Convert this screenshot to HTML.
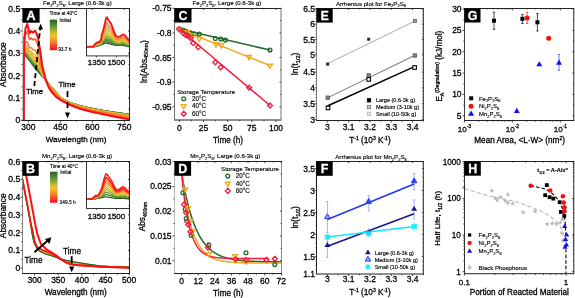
<!DOCTYPE html>
<html><head><meta charset="utf-8"><style>
html,body{margin:0;padding:0;background:#fff;}
svg{display:block;font-family:"Liberation Sans", sans-serif;}
text{-webkit-font-smoothing:antialiased;stroke:#000;stroke-width:0.28px;}
text.s{stroke-width:0.14px;}
svg{will-change:transform;}
</style></head><body>
<svg width="575" height="298" viewBox="0 0 575 298">
<rect width="575" height="298" fill="#fff"/>
<path d="M23.2,39 L23.6,44 L24,47.14 L24.5,51.07 L24.6,51.86 L25,55 L25.5,55.65 L25.6,55.78 L26,56.3 L26.5,56.95 L27,57.6 L27.3,57.99 L27.5,58.25 L28,58.9 L28.5,59.55 L29,60.2 L29.5,60.85 L29.6,60.98 L30,61.5 L30.5,62.18 L31,62.86 L31.1,63 L31.5,63.54 L32,64.22 L32.5,64.9 L33,65.58 L33.1,65.72 L33.5,66.26 L34,66.94 L34.5,67.62 L35,68.3 L35.1,68.41 L35.5,68.87 L36,69.44 L36.5,70.01 L36.6,70.13 L37,70.59 L37.5,71.16 L38,71.73 L38.1,71.84 L38.5,72.3 L39,72.87 L39.5,73.44 L40,74.01 L40.1,74.13 L40.5,74.59 L41,75.16 L41.5,75.73 L42,76.3 L42.1,76.41 L42.5,76.86 L43,77.42 L43.5,77.97 L44,78.53 L44.5,79.09 L45,79.65 L45.1,79.76 L45.5,80.21 L46,80.77 L46.5,81.33 L47,81.88 L47.5,82.44 L48,83 L48.5,83.57 L49,84.14 L49.1,84.25 L49.5,84.71 L50,85.28 L50.5,85.85 L51,86.42 L51.5,86.99 L52,87.56 L52.5,88.12 L53,88.69 L53.5,89.26 L54,89.83 L54.5,90.4 L55,90.97 L55.2,91.2 L55.5,91.53 L56,92.07 L56.5,92.62 L57,93.17 L57.5,93.71 L58,94.26 L58.5,94.8 L59,95.35 L59.5,95.9 L60,96.44 L60.5,96.99 L61,97.54 L61.5,98.08 L61.7,98.3 L62,98.45 L62.5,98.7 L63,98.96 L63.5,99.21 L64,99.46 L64.5,99.72 L65,99.97 L65.5,100.22 L66,100.48 L66.5,100.73 L67,100.98 L67.5,101.23 L68,101.49 L68.5,101.74 L69,101.99 L69.5,102.25 L70,102.5 L70.5,102.65 L71,102.8 L71.5,102.95 L72,103.1 L72.5,103.25 L73,103.4 L73.5,103.55 L74,103.7 L74.5,103.85 L75,104 L75.5,104.15 L76,104.3 L76.5,104.45 L77,104.6 L77.5,104.75 L78,104.9 L78.5,105.05 L79,105.2 L79.5,105.35 L80,105.5 L80.5,105.61 L81,105.73 L81.5,105.84 L82,105.96 L82.5,106.08 L83,106.19 L83.5,106.3 L84,106.42 L84.5,106.53 L85,106.65 L85.5,106.77 L86,106.88 L86.5,107 L87,107.11 L87.5,107.22 L88,107.34 L88.5,107.45 L89,107.57 L89.5,107.69 L90,107.8 L90.5,107.9 L91,108 L91.5,108.1 L92,108.2 L92.5,108.3 L93,108.4 L93.5,108.5 L94,108.6 L94.5,108.7 L95,108.8 L95.5,108.9 L96,109 L96.5,109.1 L97,109.2 L97.5,109.3 L98,109.4 L98.5,109.5 L99,109.6 L99.5,109.7 L100,109.8 L100.5,109.88 L101,109.96 L101.5,110.04 L102,110.12 L102.5,110.2 L103,110.28 L103.5,110.36 L104,110.44 L104.5,110.52 L105,110.6 L105.5,110.68 L106,110.76 L106.5,110.84 L107,110.92 L107.5,111 L108,111.08 L108.5,111.16 L109,111.24 L109.5,111.32 L110,111.4 L110.5,111.48 L111,111.56 L111.5,111.64 L112,111.72 L112.5,111.8 L113,111.88 L113.5,111.96 L114,112.04 L114.5,112.12 L115,112.2 L115.5,112.27 L116,112.34 L116.5,112.41 L117,112.48 L117.5,112.55 L118,112.62 L118.5,112.69 L119,112.76 L119.5,112.83 L120,112.89 L120.5,112.96 L121,113.03 L121.5,113.1 L122,113.17 L122.5,113.24 L123,113.31 L123.5,113.38 L124,113.45 L124.5,113.52 L125,113.59 L125.5,113.66 L126,113.73 L126.5,113.8 L127,113.87 L127.5,113.94 L128,114.01 L128.5,114.08 L129,114.14 L129.4,114.2" fill="none" stroke="#24602a" stroke-width="1.15" stroke-linejoin="round"/>
<path d="M23.2,38.91 L23.6,43.76 L24,46.81 L24.5,50.62 L24.6,51.38 L25,54.33 L25.5,54.84 L25.6,54.95 L26,55.42 L26.5,56.02 L27,56.61 L27.3,56.97 L27.5,57.25 L28,57.94 L28.5,58.63 L29,59.33 L29.5,60.02 L29.6,60.16 L30,60.64 L30.5,61.27 L31,61.91 L31.1,62.04 L31.5,62.57 L32,63.24 L32.5,63.92 L33,64.59 L33.1,64.72 L33.5,65.24 L34,65.88 L34.5,66.53 L35,67.17 L35.1,67.28 L35.5,67.75 L36,68.33 L36.5,68.92 L36.6,69.03 L37,69.52 L37.5,70.12 L38,70.72 L38.1,70.84 L38.5,71.36 L39,72 L39.5,72.64 L40,73.28 L40.1,73.4 L40.5,73.94 L41,74.6 L41.5,75.27 L42,75.94 L42.1,76.07 L42.5,76.55 L43,77.15 L43.5,77.76 L44,78.36 L44.5,78.96 L45,79.56 L45.1,79.68 L45.5,80.16 L46,80.75 L46.5,81.34 L47,81.93 L47.5,82.5 L48,83.08 L48.5,83.66 L49,84.25 L49.1,84.37 L49.5,84.83 L50,85.4 L50.5,85.98 L51,86.55 L51.5,87.13 L52,87.7 L52.5,88.27 L53,88.84 L53.5,89.41 L54,89.98 L54.5,90.55 L55,91.11 L55.2,91.34 L55.5,91.67 L56,92.22 L56.5,92.76 L57,93.3 L57.5,93.84 L58,94.38 L58.5,94.92 L59,95.46 L59.5,96 L60,96.54 L60.5,97.08 L61,97.62 L61.5,98.16 L61.7,98.38 L62,98.53 L62.5,98.78 L63,99.03 L63.5,99.29 L64,99.54 L64.5,99.79 L65,100.04 L65.5,100.3 L66,100.55 L66.5,100.8 L67,101.06 L67.5,101.31 L68,101.56 L68.5,101.82 L69,102.07 L69.5,102.32 L70,102.58 L70.5,102.73 L71,102.88 L71.5,103.03 L72,103.18 L72.5,103.33 L73,103.48 L73.5,103.63 L74,103.78 L74.5,103.94 L75,104.09 L75.5,104.24 L76,104.39 L76.5,104.54 L77,104.69 L77.5,104.84 L78,104.99 L78.5,105.15 L79,105.3 L79.5,105.45 L80,105.6 L80.5,105.71 L81,105.83 L81.5,105.95 L82,106.06 L82.5,106.18 L83,106.29 L83.5,106.41 L84,106.52 L84.5,106.64 L85,106.76 L85.5,106.87 L86,106.99 L86.5,107.1 L87,107.22 L87.5,107.33 L88,107.45 L88.5,107.56 L89,107.68 L89.5,107.8 L90,107.91 L90.5,108.01 L91,108.11 L91.5,108.21 L92,108.31 L92.5,108.41 L93,108.51 L93.5,108.61 L94,108.71 L94.5,108.81 L95,108.91 L95.5,109.01 L96,109.11 L96.5,109.21 L97,109.31 L97.5,109.41 L98,109.51 L98.5,109.61 L99,109.71 L99.5,109.81 L100,109.91 L100.5,109.99 L101,110.08 L101.5,110.16 L102,110.24 L102.5,110.32 L103,110.4 L103.5,110.48 L104,110.56 L104.5,110.64 L105,110.72 L105.5,110.8 L106,110.88 L106.5,110.96 L107,111.05 L107.5,111.13 L108,111.21 L108.5,111.29 L109,111.37 L109.5,111.45 L110,111.53 L110.5,111.61 L111,111.69 L111.5,111.77 L112,111.85 L112.5,111.93 L113,112.01 L113.5,112.1 L114,112.18 L114.5,112.26 L115,112.34 L115.5,112.41 L116,112.48 L116.5,112.55 L117,112.62 L117.5,112.69 L118,112.76 L118.5,112.83 L119,112.9 L119.5,112.97 L120,113.04 L120.5,113.11 L121,113.18 L121.5,113.25 L122,113.32 L122.5,113.39 L123,113.46 L123.5,113.53 L124,113.6 L124.5,113.67 L125,113.74 L125.5,113.81 L126,113.88 L126.5,113.95 L127,114.02 L127.5,114.09 L128,114.16 L128.5,114.23 L129,114.3 L129.4,114.36" fill="none" stroke="#39702d" stroke-width="1.15" stroke-linejoin="round"/>
<path d="M23.2,38.82 L23.6,43.52 L24,46.47 L24.5,50.17 L24.6,50.91 L25,53.67 L25.5,54.04 L25.6,54.11 L26,54.55 L26.5,55.09 L27,55.63 L27.3,55.95 L27.5,56.24 L28,56.98 L28.5,57.72 L29,58.45 L29.5,59.18 L29.6,59.33 L30,59.78 L30.5,60.37 L31,60.96 L31.1,61.08 L31.5,61.61 L32,62.27 L32.5,62.93 L33,63.6 L33.1,63.73 L33.5,64.22 L34,64.83 L34.5,65.43 L35,66.04 L35.1,66.15 L35.5,66.62 L36,67.22 L36.5,67.82 L36.6,67.94 L37,68.44 L37.5,69.08 L38,69.72 L38.1,69.84 L38.5,70.41 L39,71.12 L39.5,71.83 L40,72.54 L40.1,72.68 L40.5,73.29 L41,74.05 L41.5,74.81 L42,75.58 L42.1,75.73 L42.5,76.24 L43,76.89 L43.5,77.54 L44,78.18 L44.5,78.83 L45,79.48 L45.1,79.61 L45.5,80.1 L46,80.73 L46.5,81.35 L47,81.97 L47.5,82.56 L48,83.15 L48.5,83.75 L49,84.36 L49.1,84.48 L49.5,84.94 L50,85.52 L50.5,86.11 L51,86.69 L51.5,87.27 L52,87.85 L52.5,88.42 L53,88.99 L53.5,89.55 L54,90.12 L54.5,90.69 L55,91.26 L55.2,91.48 L55.5,91.81 L56,92.36 L56.5,92.89 L57,93.43 L57.5,93.96 L58,94.5 L58.5,95.03 L59,95.56 L59.5,96.1 L60,96.63 L60.5,97.17 L61,97.7 L61.5,98.24 L61.7,98.45 L62,98.6 L62.5,98.85 L63,99.11 L63.5,99.36 L64,99.61 L64.5,99.87 L65,100.12 L65.5,100.37 L66,100.63 L66.5,100.88 L67,101.13 L67.5,101.38 L68,101.64 L68.5,101.89 L69,102.14 L69.5,102.4 L70,102.65 L70.5,102.8 L71,102.95 L71.5,103.11 L72,103.26 L72.5,103.41 L73,103.56 L73.5,103.72 L74,103.87 L74.5,104.02 L75,104.17 L75.5,104.33 L76,104.48 L76.5,104.63 L77,104.78 L77.5,104.94 L78,105.09 L78.5,105.24 L79,105.39 L79.5,105.55 L80,105.7 L80.5,105.81 L81,105.93 L81.5,106.05 L82,106.16 L82.5,106.28 L83,106.4 L83.5,106.51 L84,106.63 L84.5,106.74 L85,106.86 L85.5,106.98 L86,107.09 L86.5,107.21 L87,107.32 L87.5,107.44 L88,107.56 L88.5,107.67 L89,107.79 L89.5,107.91 L90,108.02 L90.5,108.12 L91,108.22 L91.5,108.32 L92,108.42 L92.5,108.52 L93,108.62 L93.5,108.72 L94,108.82 L94.5,108.92 L95,109.02 L95.5,109.13 L96,109.23 L96.5,109.33 L97,109.43 L97.5,109.53 L98,109.63 L98.5,109.73 L99,109.83 L99.5,109.93 L100,110.03 L100.5,110.11 L101,110.19 L101.5,110.27 L102,110.35 L102.5,110.44 L103,110.52 L103.5,110.6 L104,110.68 L104.5,110.76 L105,110.84 L105.5,110.93 L106,111.01 L106.5,111.09 L107,111.17 L107.5,111.25 L108,111.33 L108.5,111.42 L109,111.5 L109.5,111.58 L110,111.66 L110.5,111.74 L111,111.82 L111.5,111.9 L112,111.99 L112.5,112.07 L113,112.15 L113.5,112.23 L114,112.31 L114.5,112.39 L115,112.48 L115.5,112.55 L116,112.62 L116.5,112.69 L117,112.76 L117.5,112.83 L118,112.9 L118.5,112.97 L119,113.04 L119.5,113.11 L120,113.18 L120.5,113.25 L121,113.32 L121.5,113.4 L122,113.47 L122.5,113.54 L123,113.61 L123.5,113.68 L124,113.75 L124.5,113.82 L125,113.89 L125.5,113.96 L126,114.03 L126.5,114.1 L127,114.17 L127.5,114.24 L128,114.31 L128.5,114.38 L129,114.46 L129.4,114.51" fill="none" stroke="#4e8030" stroke-width="1.15" stroke-linejoin="round"/>
<path d="M23.2,38.73 L23.6,43.28 L24,46.14 L24.5,49.71 L24.6,50.43 L25,53 L25.5,53.23 L25.6,53.28 L26,53.67 L26.5,54.15 L27,54.64 L27.3,54.93 L27.5,55.24 L28,56.02 L28.5,56.8 L29,57.58 L29.5,58.35 L29.6,58.51 L30,58.92 L30.5,59.46 L31,60.01 L31.1,60.12 L31.5,60.64 L32,61.3 L32.5,61.95 L33,62.6 L33.1,62.74 L33.5,63.19 L34,63.77 L34.5,64.34 L35,64.92 L35.1,65.01 L35.5,65.5 L36,66.11 L36.5,66.72 L36.6,66.84 L37,67.37 L37.5,68.04 L38,68.71 L38.1,68.84 L38.5,69.47 L39,70.24 L39.5,71.02 L40,71.8 L40.1,71.96 L40.5,72.64 L41,73.5 L41.5,74.36 L42,75.22 L42.1,75.38 L42.5,75.94 L43,76.63 L43.5,77.32 L44,78.01 L44.5,78.7 L45,79.39 L45.1,79.53 L45.5,80.05 L46,80.71 L46.5,81.36 L47,82.01 L47.5,82.62 L48,83.23 L48.5,83.85 L49,84.47 L49.1,84.59 L49.5,85.06 L50,85.65 L50.5,86.24 L51,86.82 L51.5,87.41 L52,88 L52.5,88.57 L53,89.13 L53.5,89.7 L54,90.27 L54.5,90.83 L55,91.4 L55.2,91.63 L55.5,91.95 L56,92.5 L56.5,93.03 L57,93.56 L57.5,94.08 L58,94.61 L58.5,95.14 L59,95.67 L59.5,96.2 L60,96.73 L60.5,97.26 L61,97.78 L61.5,98.31 L61.7,98.52 L62,98.68 L62.5,98.93 L63,99.18 L63.5,99.44 L64,99.69 L64.5,99.94 L65,100.19 L65.5,100.45 L66,100.7 L66.5,100.95 L67,101.21 L67.5,101.46 L68,101.71 L68.5,101.97 L69,102.22 L69.5,102.47 L70,102.72 L70.5,102.88 L71,103.03 L71.5,103.19 L72,103.34 L72.5,103.49 L73,103.65 L73.5,103.8 L74,103.95 L74.5,104.11 L75,104.26 L75.5,104.41 L76,104.57 L76.5,104.72 L77,104.88 L77.5,105.03 L78,105.18 L78.5,105.34 L79,105.49 L79.5,105.64 L80,105.8 L80.5,105.91 L81,106.03 L81.5,106.15 L82,106.26 L82.5,106.38 L83,106.5 L83.5,106.61 L84,106.73 L84.5,106.85 L85,106.97 L85.5,107.08 L86,107.2 L86.5,107.32 L87,107.43 L87.5,107.55 L88,107.67 L88.5,107.78 L89,107.9 L89.5,108.02 L90,108.13 L90.5,108.23 L91,108.33 L91.5,108.43 L92,108.53 L92.5,108.64 L93,108.74 L93.5,108.84 L94,108.94 L94.5,109.04 L95,109.14 L95.5,109.24 L96,109.34 L96.5,109.44 L97,109.54 L97.5,109.64 L98,109.74 L98.5,109.84 L99,109.94 L99.5,110.04 L100,110.14 L100.5,110.22 L101,110.31 L101.5,110.39 L102,110.47 L102.5,110.55 L103,110.64 L103.5,110.72 L104,110.8 L104.5,110.88 L105,110.97 L105.5,111.05 L106,111.13 L106.5,111.21 L107,111.3 L107.5,111.38 L108,111.46 L108.5,111.54 L109,111.63 L109.5,111.71 L110,111.79 L110.5,111.87 L111,111.95 L111.5,112.04 L112,112.12 L112.5,112.2 L113,112.28 L113.5,112.37 L114,112.45 L114.5,112.53 L115,112.61 L115.5,112.69 L116,112.76 L116.5,112.83 L117,112.9 L117.5,112.97 L118,113.04 L118.5,113.11 L119,113.18 L119.5,113.26 L120,113.33 L120.5,113.4 L121,113.47 L121.5,113.54 L122,113.61 L122.5,113.68 L123,113.76 L123.5,113.83 L124,113.9 L124.5,113.97 L125,114.04 L125.5,114.11 L126,114.18 L126.5,114.25 L127,114.33 L127.5,114.4 L128,114.47 L128.5,114.54 L129,114.61 L129.4,114.67" fill="none" stroke="#639133" stroke-width="1.15" stroke-linejoin="round"/>
<path d="M23.2,38.64 L23.6,43.04 L24,45.81 L24.5,49.26 L24.6,49.95 L25,52.34 L25.5,52.43 L25.6,52.45 L26,52.79 L26.5,53.22 L27,53.65 L27.3,53.91 L27.5,54.24 L28,55.06 L28.5,55.88 L29,56.7 L29.5,57.52 L29.6,57.68 L30,58.06 L30.5,58.56 L31,59.06 L31.1,59.16 L31.5,59.67 L32,60.32 L32.5,60.97 L33,61.61 L33.1,61.74 L33.5,62.17 L34,62.71 L34.5,63.25 L35,63.79 L35.1,63.88 L35.5,64.37 L36,65 L36.5,65.62 L36.6,65.75 L37,66.3 L37.5,67 L38,67.7 L38.1,67.84 L38.5,68.52 L39,69.37 L39.5,70.22 L40,71.06 L40.1,71.23 L40.5,72 L41,72.95 L41.5,73.9 L42,74.85 L42.1,75.04 L42.5,75.63 L43,76.37 L43.5,77.1 L44,77.84 L44.5,78.57 L45,79.31 L45.1,79.45 L45.5,80 L46,80.69 L46.5,81.37 L47,82.05 L47.5,82.68 L48,83.3 L48.5,83.94 L49,84.58 L49.1,84.7 L49.5,85.18 L50,85.77 L50.5,86.37 L51,86.96 L51.5,87.55 L52,88.15 L52.5,88.71 L53,89.28 L53.5,89.85 L54,90.41 L54.5,90.98 L55,91.54 L55.2,91.77 L55.5,92.1 L56,92.64 L56.5,93.16 L57,93.69 L57.5,94.21 L58,94.73 L58.5,95.25 L59,95.78 L59.5,96.3 L60,96.82 L60.5,97.35 L61,97.87 L61.5,98.39 L61.7,98.6 L62,98.75 L62.5,99 L63,99.26 L63.5,99.51 L64,99.76 L64.5,100.02 L65,100.27 L65.5,100.52 L66,100.78 L66.5,101.03 L67,101.28 L67.5,101.53 L68,101.79 L68.5,102.04 L69,102.29 L69.5,102.55 L70,102.8 L70.5,102.95 L71,103.11 L71.5,103.26 L72,103.42 L72.5,103.57 L73,103.73 L73.5,103.88 L74,104.04 L74.5,104.19 L75,104.35 L75.5,104.5 L76,104.66 L76.5,104.81 L77,104.97 L77.5,105.12 L78,105.28 L78.5,105.43 L79,105.59 L79.5,105.74 L80,105.9 L80.5,106.01 L81,106.13 L81.5,106.25 L82,106.37 L82.5,106.48 L83,106.6 L83.5,106.72 L84,106.84 L84.5,106.95 L85,107.07 L85.5,107.19 L86,107.3 L86.5,107.42 L87,107.54 L87.5,107.66 L88,107.77 L88.5,107.89 L89,108.01 L89.5,108.13 L90,108.24 L90.5,108.34 L91,108.45 L91.5,108.55 L92,108.65 L92.5,108.75 L93,108.85 L93.5,108.95 L94,109.05 L94.5,109.15 L95,109.25 L95.5,109.35 L96,109.45 L96.5,109.55 L97,109.65 L97.5,109.75 L98,109.85 L98.5,109.95 L99,110.05 L99.5,110.16 L100,110.26 L100.5,110.34 L101,110.42 L101.5,110.51 L102,110.59 L102.5,110.67 L103,110.76 L103.5,110.84 L104,110.92 L104.5,111 L105,111.09 L105.5,111.17 L106,111.25 L106.5,111.34 L107,111.42 L107.5,111.5 L108,111.59 L108.5,111.67 L109,111.75 L109.5,111.84 L110,111.92 L110.5,112 L111,112.09 L111.5,112.17 L112,112.25 L112.5,112.34 L113,112.42 L113.5,112.5 L114,112.59 L114.5,112.67 L115,112.75 L115.5,112.82 L116,112.9 L116.5,112.97 L117,113.04 L117.5,113.11 L118,113.18 L118.5,113.26 L119,113.33 L119.5,113.4 L120,113.47 L120.5,113.54 L121,113.62 L121.5,113.69 L122,113.76 L122.5,113.83 L123,113.9 L123.5,113.98 L124,114.05 L124.5,114.12 L125,114.19 L125.5,114.26 L126,114.33 L126.5,114.41 L127,114.48 L127.5,114.55 L128,114.62 L128.5,114.69 L129,114.77 L129.4,114.82" fill="none" stroke="#7da034" stroke-width="1.15" stroke-linejoin="round"/>
<path d="M23.2,38.55 L23.6,42.8 L24,45.47 L24.5,48.81 L24.6,49.48 L25,51.67 L25.5,51.62 L25.6,51.61 L26,51.91 L26.5,52.29 L27,52.67 L27.3,52.89 L27.5,53.24 L28,54.1 L28.5,54.97 L29,55.83 L29.5,56.69 L29.6,56.86 L30,57.2 L30.5,57.65 L31,58.11 L31.1,58.2 L31.5,58.71 L32,59.34 L32.5,59.98 L33,60.62 L33.1,60.75 L33.5,61.15 L34,61.65 L34.5,62.16 L35,62.66 L35.1,62.74 L35.5,63.25 L36,63.89 L36.5,64.52 L36.6,64.65 L37,65.23 L37.5,65.96 L38,66.7 L38.1,66.84 L38.5,67.58 L39,68.49 L39.5,69.41 L40,70.33 L40.1,70.51 L40.5,71.35 L41,72.4 L41.5,73.44 L42,74.49 L42.1,74.7 L42.5,75.32 L43,76.1 L43.5,76.88 L44,77.66 L44.5,78.44 L45,79.22 L45.1,79.38 L45.5,79.95 L46,80.67 L46.5,81.38 L47,82.1 L47.5,82.74 L48,83.38 L48.5,84.03 L49,84.68 L49.1,84.81 L49.5,85.3 L50,85.9 L50.5,86.5 L51,87.1 L51.5,87.7 L52,88.3 L52.5,88.86 L53,89.43 L53.5,89.99 L54,90.56 L54.5,91.12 L55,91.69 L55.2,91.91 L55.5,92.24 L56,92.78 L56.5,93.3 L57,93.82 L57.5,94.33 L58,94.85 L58.5,95.37 L59,95.88 L59.5,96.4 L60,96.92 L60.5,97.43 L61,97.95 L61.5,98.47 L61.7,98.67 L62,98.83 L62.5,99.08 L63,99.33 L63.5,99.59 L64,99.84 L64.5,100.09 L65,100.34 L65.5,100.6 L66,100.85 L66.5,101.1 L67,101.36 L67.5,101.61 L68,101.86 L68.5,102.12 L69,102.37 L69.5,102.62 L70,102.88 L70.5,103.03 L71,103.19 L71.5,103.34 L72,103.5 L72.5,103.66 L73,103.81 L73.5,103.97 L74,104.12 L74.5,104.28 L75,104.44 L75.5,104.59 L76,104.75 L76.5,104.9 L77,105.06 L77.5,105.22 L78,105.37 L78.5,105.53 L79,105.68 L79.5,105.84 L80,106 L80.5,106.11 L81,106.23 L81.5,106.35 L82,106.47 L82.5,106.59 L83,106.7 L83.5,106.82 L84,106.94 L84.5,107.06 L85,107.18 L85.5,107.29 L86,107.41 L86.5,107.53 L87,107.65 L87.5,107.77 L88,107.88 L88.5,108 L89,108.12 L89.5,108.24 L90,108.36 L90.5,108.46 L91,108.56 L91.5,108.66 L92,108.76 L92.5,108.86 L93,108.96 L93.5,109.06 L94,109.16 L94.5,109.26 L95,109.36 L95.5,109.46 L96,109.56 L96.5,109.66 L97,109.77 L97.5,109.87 L98,109.97 L98.5,110.07 L99,110.17 L99.5,110.27 L100,110.37 L100.5,110.45 L101,110.54 L101.5,110.62 L102,110.71 L102.5,110.79 L103,110.87 L103.5,110.96 L104,111.04 L104.5,111.13 L105,111.21 L105.5,111.29 L106,111.38 L106.5,111.46 L107,111.55 L107.5,111.63 L108,111.71 L108.5,111.8 L109,111.88 L109.5,111.97 L110,112.05 L110.5,112.13 L111,112.22 L111.5,112.3 L112,112.39 L112.5,112.47 L113,112.55 L113.5,112.64 L114,112.72 L114.5,112.81 L115,112.89 L115.5,112.96 L116,113.04 L116.5,113.11 L117,113.18 L117.5,113.25 L118,113.33 L118.5,113.4 L119,113.47 L119.5,113.54 L120,113.62 L120.5,113.69 L121,113.76 L121.5,113.83 L122,113.91 L122.5,113.98 L123,114.05 L123.5,114.12 L124,114.2 L124.5,114.27 L125,114.34 L125.5,114.41 L126,114.49 L126.5,114.56 L127,114.63 L127.5,114.7 L128,114.78 L128.5,114.85 L129,114.92 L129.4,114.98" fill="none" stroke="#9fae32" stroke-width="1.15" stroke-linejoin="round"/>
<path d="M23.2,38.46 L23.6,42.56 L24,45.14 L24.5,48.36 L24.6,49 L25,51 L25.5,50.82 L25.6,50.78 L26,51.04 L26.5,51.36 L27,51.68 L27.3,51.87 L27.5,52.23 L28,53.14 L28.5,54.05 L29,54.95 L29.5,55.85 L29.6,56.03 L30,56.34 L30.5,56.75 L31,57.16 L31.1,57.24 L31.5,57.74 L32,58.37 L32.5,59 L33,59.63 L33.1,59.76 L33.5,60.13 L34,60.6 L34.5,61.06 L35,61.53 L35.1,61.61 L35.5,62.13 L36,62.78 L36.5,63.42 L36.6,63.55 L37,64.16 L37.5,64.93 L38,65.69 L38.1,65.84 L38.5,66.63 L39,67.62 L39.5,68.6 L40,69.59 L40.1,69.79 L40.5,70.7 L41,71.84 L41.5,72.99 L42,74.13 L42.1,74.36 L42.5,75.02 L43,75.84 L43.5,76.66 L44,77.49 L44.5,78.31 L45,79.14 L45.1,79.3 L45.5,79.9 L46,80.64 L46.5,81.39 L47,82.14 L47.5,82.8 L48,83.46 L48.5,84.13 L49,84.79 L49.1,84.93 L49.5,85.41 L50,86.02 L50.5,86.63 L51,87.23 L51.5,87.84 L52,88.45 L52.5,89.01 L53,89.57 L53.5,90.14 L54,90.7 L54.5,91.26 L55,91.83 L55.2,92.05 L55.5,92.38 L56,92.92 L56.5,93.44 L57,93.95 L57.5,94.46 L58,94.97 L58.5,95.48 L59,95.99 L59.5,96.5 L60,97.01 L60.5,97.52 L61,98.03 L61.5,98.55 L61.7,98.75 L62,98.9 L62.5,99.15 L63,99.41 L63.5,99.66 L64,99.91 L64.5,100.17 L65,100.42 L65.5,100.67 L66,100.93 L66.5,101.18 L67,101.43 L67.5,101.68 L68,101.94 L68.5,102.19 L69,102.44 L69.5,102.7 L70,102.95 L70.5,103.11 L71,103.26 L71.5,103.42 L72,103.58 L72.5,103.74 L73,103.89 L73.5,104.05 L74,104.21 L74.5,104.36 L75,104.52 L75.5,104.68 L76,104.84 L76.5,104.99 L77,105.15 L77.5,105.31 L78,105.47 L78.5,105.62 L79,105.78 L79.5,105.94 L80,106.09 L80.5,106.21 L81,106.33 L81.5,106.45 L82,106.57 L82.5,106.69 L83,106.81 L83.5,106.92 L84,107.04 L84.5,107.16 L85,107.28 L85.5,107.4 L86,107.52 L86.5,107.64 L87,107.75 L87.5,107.87 L88,107.99 L88.5,108.11 L89,108.23 L89.5,108.35 L90,108.47 L90.5,108.57 L91,108.67 L91.5,108.77 L92,108.87 L92.5,108.97 L93,109.07 L93.5,109.17 L94,109.27 L94.5,109.37 L95,109.47 L95.5,109.58 L96,109.68 L96.5,109.78 L97,109.88 L97.5,109.98 L98,110.08 L98.5,110.18 L99,110.28 L99.5,110.38 L100,110.48 L100.5,110.57 L101,110.65 L101.5,110.74 L102,110.82 L102.5,110.91 L103,110.99 L103.5,111.08 L104,111.16 L104.5,111.25 L105,111.33 L105.5,111.42 L106,111.5 L106.5,111.59 L107,111.67 L107.5,111.76 L108,111.84 L108.5,111.93 L109,112.01 L109.5,112.1 L110,112.18 L110.5,112.26 L111,112.35 L111.5,112.43 L112,112.52 L112.5,112.6 L113,112.69 L113.5,112.77 L114,112.86 L114.5,112.94 L115,113.03 L115.5,113.1 L116,113.17 L116.5,113.25 L117,113.32 L117.5,113.39 L118,113.47 L118.5,113.54 L119,113.61 L119.5,113.69 L120,113.76 L120.5,113.83 L121,113.91 L121.5,113.98 L122,114.05 L122.5,114.13 L123,114.2 L123.5,114.27 L124,114.35 L124.5,114.42 L125,114.49 L125.5,114.57 L126,114.64 L126.5,114.71 L127,114.78 L127.5,114.86 L128,114.93 L128.5,115 L129,115.08 L129.4,115.14" fill="none" stroke="#c1bc2f" stroke-width="1.15" stroke-linejoin="round"/>
<path d="M23.2,38.37 L23.6,42.32 L24,44.8 L24.5,47.91 L24.6,48.53 L25,50.34 L25.5,50.01 L25.6,49.95 L26,50.16 L26.5,50.43 L27,50.69 L27.3,50.85 L27.5,51.23 L28,52.18 L28.5,53.13 L29,54.08 L29.5,55.02 L29.6,55.21 L30,55.48 L30.5,55.84 L31,56.2 L31.1,56.28 L31.5,56.77 L32,57.39 L32.5,58.02 L33,58.64 L33.1,58.76 L33.5,59.11 L34,59.54 L34.5,59.97 L35,60.4 L35.1,60.47 L35.5,61 L36,61.66 L36.5,62.33 L36.6,62.46 L37,63.09 L37.5,63.89 L38,64.68 L38.1,64.84 L38.5,65.69 L39,66.74 L39.5,67.8 L40,68.85 L40.1,69.06 L40.5,70.05 L41,71.29 L41.5,72.53 L42,73.77 L42.1,74.02 L42.5,74.71 L43,75.58 L43.5,76.45 L44,77.31 L44.5,78.18 L45,79.05 L45.1,79.22 L45.5,79.85 L46,80.62 L46.5,81.4 L47,82.18 L47.5,82.86 L48,83.53 L48.5,84.22 L49,84.9 L49.1,85.04 L49.5,85.53 L50,86.14 L50.5,86.76 L51,87.37 L51.5,87.98 L52,88.59 L52.5,89.16 L53,89.72 L53.5,90.28 L54,90.84 L54.5,91.41 L55,91.97 L55.2,92.2 L55.5,92.52 L56,93.07 L56.5,93.57 L57,94.08 L57.5,94.58 L58,95.09 L58.5,95.59 L59,96.1 L59.5,96.6 L60,97.11 L60.5,97.61 L61,98.12 L61.5,98.62 L61.7,98.83 L62,98.98 L62.5,99.23 L63,99.48 L63.5,99.74 L64,99.99 L64.5,100.24 L65,100.49 L65.5,100.75 L66,101 L66.5,101.25 L67,101.51 L67.5,101.76 L68,102.01 L68.5,102.27 L69,102.52 L69.5,102.77 L70,103.03 L70.5,103.18 L71,103.34 L71.5,103.5 L72,103.66 L72.5,103.82 L73,103.98 L73.5,104.13 L74,104.29 L74.5,104.45 L75,104.61 L75.5,104.77 L76,104.93 L76.5,105.08 L77,105.24 L77.5,105.4 L78,105.56 L78.5,105.72 L79,105.88 L79.5,106.03 L80,106.19 L80.5,106.31 L81,106.43 L81.5,106.55 L82,106.67 L82.5,106.79 L83,106.91 L83.5,107.03 L84,107.15 L84.5,107.27 L85,107.39 L85.5,107.5 L86,107.62 L86.5,107.74 L87,107.86 L87.5,107.98 L88,108.1 L88.5,108.22 L89,108.34 L89.5,108.46 L90,108.58 L90.5,108.68 L91,108.78 L91.5,108.88 L92,108.98 L92.5,109.08 L93,109.18 L93.5,109.28 L94,109.39 L94.5,109.49 L95,109.59 L95.5,109.69 L96,109.79 L96.5,109.89 L97,109.99 L97.5,110.09 L98,110.19 L98.5,110.29 L99,110.4 L99.5,110.5 L100,110.6 L100.5,110.68 L101,110.77 L101.5,110.85 L102,110.94 L102.5,111.03 L103,111.11 L103.5,111.2 L104,111.28 L104.5,111.37 L105,111.45 L105.5,111.54 L106,111.63 L106.5,111.71 L107,111.8 L107.5,111.88 L108,111.97 L108.5,112.05 L109,112.14 L109.5,112.22 L110,112.31 L110.5,112.4 L111,112.48 L111.5,112.57 L112,112.65 L112.5,112.74 L113,112.82 L113.5,112.91 L114,112.99 L114.5,113.08 L115,113.17 L115.5,113.24 L116,113.31 L116.5,113.39 L117,113.46 L117.5,113.54 L118,113.61 L118.5,113.68 L119,113.76 L119.5,113.83 L120,113.9 L120.5,113.98 L121,114.05 L121.5,114.13 L122,114.2 L122.5,114.27 L123,114.35 L123.5,114.42 L124,114.49 L124.5,114.57 L125,114.64 L125.5,114.72 L126,114.79 L126.5,114.86 L127,114.94 L127.5,115.01 L128,115.09 L128.5,115.16 L129,115.23 L129.4,115.29" fill="none" stroke="#d9c12d" stroke-width="1.15" stroke-linejoin="round"/>
<path d="M23.2,38.28 L23.6,42.08 L24,44.47 L24.5,47.45 L24.6,48.05 L25,49.67 L25.5,49.21 L25.6,49.11 L26,49.28 L26.5,49.49 L27,49.71 L27.3,49.83 L27.5,50.23 L28,51.22 L28.5,52.22 L29,53.2 L29.5,54.19 L29.6,54.38 L30,54.62 L30.5,54.94 L31,55.25 L31.1,55.32 L31.5,55.81 L32,56.42 L32.5,57.03 L33,57.65 L33.1,57.77 L33.5,58.09 L34,58.48 L34.5,58.88 L35,59.28 L35.1,59.34 L35.5,59.88 L36,60.55 L36.5,61.23 L36.6,61.36 L37,62.02 L37.5,62.85 L38,63.68 L38.1,63.84 L38.5,64.74 L39,65.86 L39.5,66.99 L40,68.11 L40.1,68.34 L40.5,69.41 L41,70.74 L41.5,72.07 L42,73.41 L42.1,73.67 L42.5,74.4 L43,75.32 L43.5,76.23 L44,77.14 L44.5,78.05 L45,78.96 L45.1,79.15 L45.5,79.79 L46,80.6 L46.5,81.41 L47,82.22 L47.5,82.92 L48,83.61 L48.5,84.31 L49,85.01 L49.1,85.15 L49.5,85.65 L50,86.27 L50.5,86.89 L51,87.5 L51.5,88.12 L52,88.74 L52.5,89.3 L53,89.87 L53.5,90.43 L54,90.99 L54.5,91.55 L55,92.11 L55.2,92.34 L55.5,92.66 L56,93.21 L56.5,93.71 L57,94.21 L57.5,94.71 L58,95.21 L58.5,95.7 L59,96.2 L59.5,96.7 L60,97.2 L60.5,97.7 L61,98.2 L61.5,98.7 L61.7,98.9 L62,99.05 L62.5,99.3 L63,99.56 L63.5,99.81 L64,100.06 L64.5,100.32 L65,100.57 L65.5,100.82 L66,101.08 L66.5,101.33 L67,101.58 L67.5,101.83 L68,102.09 L68.5,102.34 L69,102.59 L69.5,102.85 L70,103.1 L70.5,103.26 L71,103.42 L71.5,103.58 L72,103.74 L72.5,103.9 L73,104.06 L73.5,104.22 L74,104.38 L74.5,104.54 L75,104.7 L75.5,104.86 L76,105.02 L76.5,105.17 L77,105.33 L77.5,105.49 L78,105.65 L78.5,105.81 L79,105.97 L79.5,106.13 L80,106.29 L80.5,106.41 L81,106.53 L81.5,106.65 L82,106.77 L82.5,106.89 L83,107.01 L83.5,107.13 L84,107.25 L84.5,107.37 L85,107.49 L85.5,107.61 L86,107.73 L86.5,107.85 L87,107.97 L87.5,108.09 L88,108.21 L88.5,108.33 L89,108.45 L89.5,108.57 L90,108.69 L90.5,108.79 L91,108.89 L91.5,108.99 L92,109.09 L92.5,109.19 L93,109.3 L93.5,109.4 L94,109.5 L94.5,109.6 L95,109.7 L95.5,109.8 L96,109.9 L96.5,110 L97,110.1 L97.5,110.21 L98,110.31 L98.5,110.41 L99,110.51 L99.5,110.61 L100,110.71 L100.5,110.8 L101,110.88 L101.5,110.97 L102,111.06 L102.5,111.14 L103,111.23 L103.5,111.32 L104,111.4 L104.5,111.49 L105,111.58 L105.5,111.66 L106,111.75 L106.5,111.84 L107,111.92 L107.5,112.01 L108,112.09 L108.5,112.18 L109,112.27 L109.5,112.35 L110,112.44 L110.5,112.53 L111,112.61 L111.5,112.7 L112,112.79 L112.5,112.87 L113,112.96 L113.5,113.04 L114,113.13 L114.5,113.22 L115,113.3 L115.5,113.38 L116,113.45 L116.5,113.53 L117,113.6 L117.5,113.68 L118,113.75 L118.5,113.83 L119,113.9 L119.5,113.97 L120,114.05 L120.5,114.12 L121,114.2 L121.5,114.27 L122,114.35 L122.5,114.42 L123,114.5 L123.5,114.57 L124,114.64 L124.5,114.72 L125,114.79 L125.5,114.87 L126,114.94 L126.5,115.02 L127,115.09 L127.5,115.17 L128,115.24 L128.5,115.31 L129,115.39 L129.4,115.45" fill="none" stroke="#e9c02c" stroke-width="1.15" stroke-linejoin="round"/>
<path d="M23.2,38.19 L23.6,41.84 L24,44.13 L24.5,47 L24.6,47.58 L25,49.01 L25.5,48.4 L25.6,48.28 L26,48.4 L26.5,48.56 L27,48.72 L27.3,48.81 L27.5,49.23 L28,50.26 L28.5,51.3 L29,52.33 L29.5,53.36 L29.6,53.56 L30,53.76 L30.5,54.03 L31,54.3 L31.1,54.36 L31.5,54.84 L32,55.45 L32.5,56.05 L33,56.65 L33.1,56.77 L33.5,57.06 L34,57.43 L34.5,57.79 L35,58.15 L35.1,58.2 L35.5,58.75 L36,59.44 L36.5,60.13 L36.6,60.27 L37,60.95 L37.5,61.81 L38,62.67 L38.1,62.84 L38.5,63.79 L39,64.99 L39.5,66.18 L40,67.38 L40.1,67.61 L40.5,68.76 L41,70.19 L41.5,71.62 L42,73.05 L42.1,73.33 L42.5,74.1 L43,75.05 L43.5,76.01 L44,76.97 L44.5,77.92 L45,78.88 L45.1,79.07 L45.5,79.74 L46,80.58 L46.5,81.42 L47,82.27 L47.5,82.98 L48,83.69 L48.5,84.4 L49,85.12 L49.1,85.26 L49.5,85.76 L50,86.39 L50.5,87.02 L51,87.64 L51.5,88.27 L52,88.89 L52.5,89.45 L53,90.01 L53.5,90.57 L54,91.13 L54.5,91.69 L55,92.26 L55.2,92.48 L55.5,92.81 L56,93.35 L56.5,93.84 L57,94.34 L57.5,94.83 L58,95.32 L58.5,95.82 L59,96.31 L59.5,96.8 L60,97.3 L60.5,97.79 L61,98.28 L61.5,98.78 L61.7,98.97 L62,99.13 L62.5,99.38 L63,99.63 L63.5,99.89 L64,100.14 L64.5,100.39 L65,100.64 L65.5,100.9 L66,101.15 L66.5,101.4 L67,101.66 L67.5,101.91 L68,102.16 L68.5,102.42 L69,102.67 L69.5,102.92 L70,103.17 L70.5,103.34 L71,103.5 L71.5,103.66 L72,103.82 L72.5,103.98 L73,104.14 L73.5,104.3 L74,104.46 L74.5,104.62 L75,104.78 L75.5,104.94 L76,105.1 L76.5,105.27 L77,105.43 L77.5,105.59 L78,105.75 L78.5,105.91 L79,106.07 L79.5,106.23 L80,106.39 L80.5,106.51 L81,106.63 L81.5,106.75 L82,106.87 L82.5,106.99 L83,107.11 L83.5,107.23 L84,107.35 L84.5,107.47 L85,107.59 L85.5,107.72 L86,107.84 L86.5,107.96 L87,108.08 L87.5,108.2 L88,108.32 L88.5,108.44 L89,108.56 L89.5,108.68 L90,108.8 L90.5,108.9 L91,109 L91.5,109.1 L92,109.2 L92.5,109.31 L93,109.41 L93.5,109.51 L94,109.61 L94.5,109.71 L95,109.81 L95.5,109.91 L96,110.02 L96.5,110.12 L97,110.22 L97.5,110.32 L98,110.42 L98.5,110.52 L99,110.62 L99.5,110.72 L100,110.83 L100.5,110.91 L101,111 L101.5,111.09 L102,111.17 L102.5,111.26 L103,111.35 L103.5,111.44 L104,111.52 L104.5,111.61 L105,111.7 L105.5,111.79 L106,111.87 L106.5,111.96 L107,112.05 L107.5,112.13 L108,112.22 L108.5,112.31 L109,112.4 L109.5,112.48 L110,112.57 L110.5,112.66 L111,112.74 L111.5,112.83 L112,112.92 L112.5,113.01 L113,113.09 L113.5,113.18 L114,113.27 L114.5,113.35 L115,113.44 L115.5,113.52 L116,113.59 L116.5,113.67 L117,113.74 L117.5,113.82 L118,113.89 L118.5,113.97 L119,114.04 L119.5,114.12 L120,114.19 L120.5,114.27 L121,114.34 L121.5,114.42 L122,114.49 L122.5,114.57 L123,114.64 L123.5,114.72 L124,114.79 L124.5,114.87 L125,114.94 L125.5,115.02 L126,115.09 L126.5,115.17 L127,115.24 L127.5,115.32 L128,115.39 L128.5,115.47 L129,115.54 L129.4,115.6" fill="none" stroke="#efb92c" stroke-width="1.15" stroke-linejoin="round"/>
<path d="M23.2,38.1 L23.6,41.6 L24,43.8 L24.5,46.55 L24.6,47.1 L25,48.34 L25.5,47.59 L25.6,47.45 L26,47.53 L26.5,47.63 L27,47.73 L27.3,47.79 L27.5,48.23 L28,49.3 L28.5,50.38 L29,51.45 L29.5,52.52 L29.6,52.74 L30,52.9 L30.5,53.13 L31,53.35 L31.1,53.4 L31.5,53.87 L32,54.47 L32.5,55.07 L33,55.66 L33.1,55.78 L33.5,56.04 L34,56.37 L34.5,56.69 L35,57.02 L35.1,57.07 L35.5,57.63 L36,58.33 L36.5,59.03 L36.6,59.17 L37,59.88 L37.5,60.77 L38,61.66 L38.1,61.84 L38.5,62.85 L39,64.11 L39.5,65.38 L40,66.64 L40.1,66.89 L40.5,68.11 L41,69.63 L41.5,71.16 L42,72.68 L42.1,72.99 L42.5,73.79 L43,74.79 L43.5,75.79 L44,76.79 L44.5,77.79 L45,78.79 L45.1,78.99 L45.5,79.69 L46,80.56 L46.5,81.44 L47,82.31 L47.5,83.03 L48,83.76 L48.5,84.5 L49,85.23 L49.1,85.38 L49.5,85.88 L50,86.51 L50.5,87.14 L51,87.78 L51.5,88.41 L52,89.04 L52.5,89.6 L53,90.16 L53.5,90.72 L54,91.28 L54.5,91.84 L55,92.4 L55.2,92.62 L55.5,92.95 L56,93.49 L56.5,93.98 L57,94.47 L57.5,94.95 L58,95.44 L58.5,95.93 L59,96.42 L59.5,96.9 L60,97.39 L60.5,97.88 L61,98.37 L61.5,98.85 L61.7,99.05 L62,99.2 L62.5,99.45 L63,99.71 L63.5,99.96 L64,100.21 L64.5,100.47 L65,100.72 L65.5,100.97 L66,101.23 L66.5,101.48 L67,101.73 L67.5,101.98 L68,102.24 L68.5,102.49 L69,102.74 L69.5,103 L70,103.25 L70.5,103.41 L71,103.57 L71.5,103.74 L72,103.9 L72.5,104.06 L73,104.22 L73.5,104.38 L74,104.55 L74.5,104.71 L75,104.87 L75.5,105.03 L76,105.19 L76.5,105.36 L77,105.52 L77.5,105.68 L78,105.84 L78.5,106 L79,106.17 L79.5,106.33 L80,106.49 L80.5,106.61 L81,106.73 L81.5,106.85 L82,106.97 L82.5,107.09 L83,107.22 L83.5,107.34 L84,107.46 L84.5,107.58 L85,107.7 L85.5,107.82 L86,107.94 L86.5,108.06 L87,108.18 L87.5,108.3 L88,108.43 L88.5,108.55 L89,108.67 L89.5,108.79 L90,108.91 L90.5,109.01 L91,109.11 L91.5,109.21 L92,109.32 L92.5,109.42 L93,109.52 L93.5,109.62 L94,109.72 L94.5,109.82 L95,109.92 L95.5,110.03 L96,110.13 L96.5,110.23 L97,110.33 L97.5,110.43 L98,110.53 L98.5,110.64 L99,110.74 L99.5,110.84 L100,110.94 L100.5,111.03 L101,111.12 L101.5,111.2 L102,111.29 L102.5,111.38 L103,111.47 L103.5,111.56 L104,111.64 L104.5,111.73 L105,111.82 L105.5,111.91 L106,112 L106.5,112.08 L107,112.17 L107.5,112.26 L108,112.35 L108.5,112.44 L109,112.52 L109.5,112.61 L110,112.7 L110.5,112.79 L111,112.88 L111.5,112.96 L112,113.05 L112.5,113.14 L113,113.23 L113.5,113.32 L114,113.4 L114.5,113.49 L115,113.58 L115.5,113.66 L116,113.73 L116.5,113.81 L117,113.88 L117.5,113.96 L118,114.03 L118.5,114.11 L119,114.19 L119.5,114.26 L120,114.34 L120.5,114.41 L121,114.49 L121.5,114.56 L122,114.64 L122.5,114.72 L123,114.79 L123.5,114.87 L124,114.94 L124.5,115.02 L125,115.09 L125.5,115.17 L126,115.25 L126.5,115.32 L127,115.4 L127.5,115.47 L128,115.55 L128.5,115.62 L129,115.7 L129.4,115.76" fill="none" stroke="#f0af2c" stroke-width="1.15" stroke-linejoin="round"/>
<path d="M23.2,37.92 L23.6,41.12 L24,43.13 L24.5,45.65 L24.6,46.15 L25,47.01 L25.5,45.98 L25.6,45.78 L26,45.77 L26.5,45.77 L27,45.76 L27.3,45.75 L27.5,46.22 L28,47.39 L28.5,48.55 L29,49.7 L29.5,50.86 L29.6,51.09 L30,51.18 L30.5,51.32 L31,51.45 L31.1,51.48 L31.5,51.94 L32,52.52 L32.5,53.1 L33,53.68 L33.1,53.79 L33.5,54 L34,54.25 L34.5,54.51 L35,54.76 L35.1,54.8 L35.5,55.38 L36,56.11 L36.5,56.83 L36.6,56.98 L37,57.74 L37.5,58.69 L38,59.65 L38.1,59.84 L38.5,60.96 L39,62.36 L39.5,63.76 L40,65.16 L40.1,65.44 L40.5,66.81 L41,68.53 L41.5,70.25 L42,71.96 L42.1,72.3 L42.5,73.17 L43,74.26 L43.5,75.35 L44,76.44 L44.5,77.53 L45,78.62 L45.1,78.84 L45.5,79.59 L46,80.52 L46.5,81.46 L47,82.39 L47.5,83.15 L48,83.91 L48.5,84.68 L49,85.45 L49.1,85.6 L49.5,86.12 L50,86.76 L50.5,87.4 L51,88.05 L51.5,88.69 L52,89.34 L52.5,89.89 L53,90.45 L53.5,91.01 L54,91.57 L54.5,92.13 L55,92.68 L55.2,92.91 L55.5,93.23 L56,93.78 L56.5,94.25 L57,94.73 L57.5,95.2 L58,95.68 L58.5,96.15 L59,96.63 L59.5,97.11 L60,97.58 L60.5,98.06 L61,98.53 L61.5,99.01 L61.7,99.2 L62,99.35 L62.5,99.6 L63,99.86 L63.5,100.11 L64,100.36 L64.5,100.62 L65,100.87 L65.5,101.12 L66,101.38 L66.5,101.63 L67,101.88 L67.5,102.13 L68,102.39 L68.5,102.64 L69,102.89 L69.5,103.15 L70,103.4 L70.5,103.56 L71,103.73 L71.5,103.89 L72,104.06 L72.5,104.22 L73,104.39 L73.5,104.55 L74,104.72 L74.5,104.88 L75,105.04 L75.5,105.21 L76,105.37 L76.5,105.54 L77,105.7 L77.5,105.87 L78,106.03 L78.5,106.19 L79,106.36 L79.5,106.52 L80,106.69 L80.5,106.81 L81,106.93 L81.5,107.05 L82,107.18 L82.5,107.3 L83,107.42 L83.5,107.54 L84,107.67 L84.5,107.79 L85,107.91 L85.5,108.03 L86,108.15 L86.5,108.28 L87,108.4 L87.5,108.52 L88,108.64 L88.5,108.77 L89,108.89 L89.5,109.01 L90,109.13 L90.5,109.23 L91,109.34 L91.5,109.44 L92,109.54 L92.5,109.64 L93,109.74 L93.5,109.84 L94,109.95 L94.5,110.05 L95,110.15 L95.5,110.25 L96,110.35 L96.5,110.46 L97,110.56 L97.5,110.66 L98,110.76 L98.5,110.86 L99,110.96 L99.5,111.07 L100,111.17 L100.5,111.26 L101,111.35 L101.5,111.44 L102,111.53 L102.5,111.62 L103,111.71 L103.5,111.8 L104,111.88 L104.5,111.97 L105,112.06 L105.5,112.15 L106,112.24 L106.5,112.33 L107,112.42 L107.5,112.51 L108,112.6 L108.5,112.69 L109,112.78 L109.5,112.87 L110,112.96 L110.5,113.05 L111,113.14 L111.5,113.23 L112,113.32 L112.5,113.41 L113,113.5 L113.5,113.59 L114,113.68 L114.5,113.77 L115,113.86 L115.5,113.93 L116,114.01 L116.5,114.09 L117,114.16 L117.5,114.24 L118,114.32 L118.5,114.39 L119,114.47 L119.5,114.55 L120,114.63 L120.5,114.7 L121,114.78 L121.5,114.86 L122,114.93 L122.5,115.01 L123,115.09 L123.5,115.16 L124,115.24 L124.5,115.32 L125,115.39 L125.5,115.47 L126,115.55 L126.5,115.63 L127,115.7 L127.5,115.78 L128,115.86 L128.5,115.93 L129,116.01 L129.4,116.07" fill="none" stroke="#f09d2c" stroke-width="1.15" stroke-linejoin="round"/>
<path d="M23.2,37.56 L23.6,40.16 L24,41.79 L24.5,43.84 L24.6,44.25 L25,44.34 L25.5,42.76 L25.6,42.45 L26,42.26 L26.5,42.04 L27,41.81 L27.3,41.67 L27.5,42.21 L28,43.55 L28.5,44.89 L29,46.21 L29.5,47.53 L29.6,47.79 L30,47.74 L30.5,47.69 L31,47.65 L31.1,47.64 L31.5,48.07 L32,48.62 L32.5,49.17 L33,49.71 L33.1,49.82 L33.5,49.91 L34,50.02 L34.5,50.14 L35,50.25 L35.1,50.26 L35.5,50.89 L36,51.66 L36.5,52.44 L36.6,52.59 L37,53.46 L37.5,54.54 L38,55.62 L38.1,55.84 L38.5,57.18 L39,58.86 L39.5,60.53 L40,62.21 L40.1,62.55 L40.5,64.22 L41,66.32 L41.5,68.42 L42,70.52 L42.1,70.93 L42.5,71.95 L43,73.21 L43.5,74.48 L44,75.75 L44.5,77.01 L45,78.28 L45.1,78.53 L45.5,79.38 L46,80.44 L46.5,81.5 L47,82.56 L47.5,83.39 L48,84.22 L48.5,85.05 L49,85.88 L49.1,86.05 L49.5,86.59 L50,87.25 L50.5,87.92 L51,88.59 L51.5,89.26 L52,89.93 L52.5,90.48 L53,91.04 L53.5,91.59 L54,92.15 L54.5,92.7 L55,93.25 L55.2,93.48 L55.5,93.8 L56,94.34 L56.5,94.79 L57,95.25 L57.5,95.7 L58,96.15 L58.5,96.6 L59,97.06 L59.5,97.51 L60,97.96 L60.5,98.41 L61,98.87 L61.5,99.32 L61.7,99.5 L62,99.65 L62.5,99.9 L63,100.16 L63.5,100.41 L64,100.66 L64.5,100.92 L65,101.17 L65.5,101.42 L66,101.68 L66.5,101.93 L67,102.18 L67.5,102.43 L68,102.69 L68.5,102.94 L69,103.19 L69.5,103.45 L70,103.7 L70.5,103.87 L71,104.04 L71.5,104.21 L72,104.38 L72.5,104.55 L73,104.72 L73.5,104.88 L74,105.05 L74.5,105.22 L75,105.39 L75.5,105.56 L76,105.73 L76.5,105.9 L77,106.07 L77.5,106.24 L78,106.41 L78.5,106.58 L79,106.75 L79.5,106.91 L80,107.08 L80.5,107.21 L81,107.33 L81.5,107.46 L82,107.58 L82.5,107.71 L83,107.83 L83.5,107.96 L84,108.08 L84.5,108.21 L85,108.33 L85.5,108.45 L86,108.58 L86.5,108.7 L87,108.83 L87.5,108.95 L88,109.08 L88.5,109.2 L89,109.33 L89.5,109.45 L90,109.58 L90.5,109.68 L91,109.78 L91.5,109.88 L92,109.99 L92.5,110.09 L93,110.19 L93.5,110.29 L94,110.4 L94.5,110.5 L95,110.6 L95.5,110.7 L96,110.8 L96.5,110.91 L97,111.01 L97.5,111.11 L98,111.21 L98.5,111.32 L99,111.42 L99.5,111.52 L100,111.62 L100.5,111.72 L101,111.81 L101.5,111.9 L102,112 L102.5,112.09 L103,112.18 L103.5,112.27 L104,112.37 L104.5,112.46 L105,112.55 L105.5,112.64 L106,112.74 L106.5,112.83 L107,112.92 L107.5,113.02 L108,113.11 L108.5,113.2 L109,113.29 L109.5,113.39 L110,113.48 L110.5,113.57 L111,113.67 L111.5,113.76 L112,113.85 L112.5,113.94 L113,114.04 L113.5,114.13 L114,114.22 L114.5,114.32 L115,114.41 L115.5,114.49 L116,114.57 L116.5,114.65 L117,114.73 L117.5,114.81 L118,114.88 L118.5,114.96 L119,115.04 L119.5,115.12 L120,115.2 L120.5,115.28 L121,115.36 L121.5,115.44 L122,115.52 L122.5,115.6 L123,115.68 L123.5,115.76 L124,115.84 L124.5,115.92 L125,116 L125.5,116.08 L126,116.16 L126.5,116.24 L127,116.31 L127.5,116.39 L128,116.47 L128.5,116.55 L129,116.63 L129.4,116.7" fill="none" stroke="#f2842c" stroke-width="1.5" stroke-linejoin="round"/>
<path d="M23.2,36.66 L23.6,37.76 L24,38.45 L24.5,39.32 L24.6,39.49 L25,37.68 L25.5,34.71 L25.6,34.11 L26,33.49 L26.5,32.72 L27,31.94 L27.3,31.48 L27.5,32.18 L28,33.95 L28.5,35.72 L29,37.46 L29.5,39.2 L29.6,39.55 L30,39.14 L30.5,38.64 L31,38.14 L31.1,38.04 L31.5,38.41 L32,38.87 L32.5,39.33 L33,39.79 L33.1,39.89 L33.5,39.69 L34,39.45 L34.5,39.21 L35,38.97 L35.1,38.92 L35.5,39.64 L36,40.55 L36.5,41.46 L36.6,41.64 L37,42.76 L37.5,44.16 L38,45.56 L38.1,45.84 L38.5,47.73 L39,50.1 L39.5,52.47 L40,54.83 L40.1,55.31 L40.5,57.75 L41,60.8 L41.5,63.85 L42,66.9 L42.1,67.51 L42.5,68.88 L43,70.59 L43.5,72.3 L44,74 L44.5,75.71 L45,77.42 L45.1,77.76 L45.5,78.86 L46,80.24 L46.5,81.61 L47,82.99 L47.5,83.98 L48,84.98 L48.5,85.98 L49,86.98 L49.1,87.18 L49.5,87.76 L50,88.49 L50.5,89.22 L51,89.95 L51.5,90.68 L52,91.41 L52.5,91.96 L53,92.5 L53.5,93.05 L54,93.59 L54.5,94.13 L55,94.68 L55.2,94.9 L55.5,95.22 L56,95.76 L56.5,96.15 L57,96.55 L57.5,96.94 L58,97.34 L58.5,97.73 L59,98.12 L59.5,98.52 L60,98.91 L60.5,99.3 L61,99.7 L61.5,100.09 L61.7,100.25 L62,100.4 L62.5,100.65 L63,100.91 L63.5,101.16 L64,101.41 L64.5,101.67 L65,101.92 L65.5,102.17 L66,102.43 L66.5,102.68 L67,102.93 L67.5,103.18 L68,103.44 L68.5,103.69 L69,103.94 L69.5,104.2 L70,104.45 L70.5,104.63 L71,104.81 L71.5,104.99 L72,105.17 L72.5,105.36 L73,105.54 L73.5,105.72 L74,105.9 L74.5,106.08 L75,106.26 L75.5,106.44 L76,106.62 L76.5,106.81 L77,106.99 L77.5,107.17 L78,107.35 L78.5,107.53 L79,107.71 L79.5,107.89 L80,108.07 L80.5,108.2 L81,108.34 L81.5,108.47 L82,108.6 L82.5,108.73 L83,108.86 L83.5,108.99 L84,109.12 L84.5,109.25 L85,109.38 L85.5,109.51 L86,109.64 L86.5,109.77 L87,109.9 L87.5,110.03 L88,110.16 L88.5,110.29 L89,110.42 L89.5,110.56 L90,110.69 L90.5,110.79 L91,110.89 L91.5,111 L92,111.1 L92.5,111.21 L93,111.31 L93.5,111.41 L94,111.52 L94.5,111.62 L95,111.72 L95.5,111.83 L96,111.93 L96.5,112.04 L97,112.14 L97.5,112.24 L98,112.35 L98.5,112.45 L99,112.56 L99.5,112.66 L100,112.76 L100.5,112.86 L101,112.97 L101.5,113.07 L102,113.17 L102.5,113.27 L103,113.37 L103.5,113.47 L104,113.57 L104.5,113.67 L105,113.77 L105.5,113.87 L106,113.97 L106.5,114.07 L107,114.18 L107.5,114.28 L108,114.38 L108.5,114.48 L109,114.58 L109.5,114.68 L110,114.78 L110.5,114.88 L111,114.98 L111.5,115.08 L112,115.18 L112.5,115.28 L113,115.38 L113.5,115.49 L114,115.59 L114.5,115.69 L115,115.79 L115.5,115.87 L116,115.96 L116.5,116.05 L117,116.13 L117.5,116.22 L118,116.3 L118.5,116.39 L119,116.47 L119.5,116.56 L120,116.64 L120.5,116.73 L121,116.82 L121.5,116.9 L122,116.99 L122.5,117.07 L123,117.16 L123.5,117.24 L124,117.33 L124.5,117.42 L125,117.5 L125.5,117.59 L126,117.67 L126.5,117.76 L127,117.84 L127.5,117.93 L128,118.02 L128.5,118.1 L129,118.19 L129.4,118.26" fill="none" stroke="#f55728" stroke-width="1.5" stroke-linejoin="round"/>
<path d="M23.9,120.3 L23.9,60 L24.6,36 L25,32.8 L25.5,28.8 L25.6,28 L26,27.06 L26.5,25.88 L27,24.71 L27.3,24 L27.5,24.83 L28,26.92 L28.5,29 L29,31.05 L29.5,33.09 L29.6,33.5 L30,32.83 L30.5,32 L31,31.17 L31.1,31 L31.5,31.32 L32,31.72 L32.5,32.12 L33,32.52 L33.1,32.6 L33.5,32.2 L34,31.7 L34.5,31.2 L35,30.7 L35.1,30.6 L35.5,31.4 L36,32.4 L36.5,33.4 L36.6,33.6 L37,34.91 L37.5,36.54 L38,38.17 L38.1,38.5 L38.5,40.8 L39,43.67 L39.5,46.55 L40,49.42 L40.1,50 L40.5,53 L41,56.75 L41.5,60.5 L42,64.25 L42.1,65 L42.5,66.63 L43,68.66 L43.5,70.69 L44,72.73 L44.5,74.76 L45,76.79 L45.1,77.2 L45.5,78.48 L46,80.09 L46.5,81.69 L47,83.3 L47.5,84.42 L48,85.54 L48.5,86.66 L49,87.78 L49.1,88 L49.5,88.62 L50,89.4 L50.5,90.17 L51,90.95 L51.5,91.72 L52,92.5 L52.5,93.04 L53,93.58 L53.5,94.11 L54,94.65 L54.5,95.19 L55,95.72 L55.2,95.94 L55.5,96.26 L56,96.8 L56.5,97.15 L57,97.5 L57.5,97.85 L58,98.2 L58.5,98.55 L59,98.91 L59.5,99.26 L60,99.61 L60.5,99.96 L61,100.31 L61.5,100.66 L61.7,100.8 L62,100.95 L62.5,101.2 L63,101.46 L63.5,101.71 L64,101.96 L64.5,102.22 L65,102.47 L65.5,102.72 L66,102.98 L66.5,103.23 L67,103.48 L67.5,103.73 L68,103.99 L68.5,104.24 L69,104.49 L69.5,104.75 L70,105 L70.5,105.19 L71,105.38 L71.5,105.57 L72,105.76 L72.5,105.95 L73,106.14 L73.5,106.33 L74,106.52 L74.5,106.71 L75,106.9 L75.5,107.09 L76,107.28 L76.5,107.47 L77,107.66 L77.5,107.85 L78,108.04 L78.5,108.23 L79,108.42 L79.5,108.61 L80,108.8 L80.5,108.94 L81,109.07 L81.5,109.2 L82,109.34 L82.5,109.47 L83,109.61 L83.5,109.75 L84,109.88 L84.5,110.02 L85,110.15 L85.5,110.28 L86,110.42 L86.5,110.55 L87,110.69 L87.5,110.83 L88,110.96 L88.5,111.09 L89,111.23 L89.5,111.36 L90,111.5 L90.5,111.61 L91,111.71 L91.5,111.81 L92,111.92 L92.5,112.03 L93,112.13 L93.5,112.23 L94,112.34 L94.5,112.44 L95,112.55 L95.5,112.66 L96,112.76 L96.5,112.86 L97,112.97 L97.5,113.07 L98,113.18 L98.5,113.28 L99,113.39 L99.5,113.49 L100,113.6 L100.5,113.71 L101,113.81 L101.5,113.92 L102,114.03 L102.5,114.13 L103,114.24 L103.5,114.35 L104,114.45 L104.5,114.56 L105,114.67 L105.5,114.77 L106,114.88 L106.5,114.99 L107,115.09 L107.5,115.2 L108,115.31 L108.5,115.41 L109,115.52 L109.5,115.63 L110,115.73 L110.5,115.84 L111,115.95 L111.5,116.05 L112,116.16 L112.5,116.27 L113,116.37 L113.5,116.48 L114,116.59 L114.5,116.69 L115,116.8 L115.5,116.89 L116,116.98 L116.5,117.07 L117,117.16 L117.5,117.25 L118,117.34 L118.5,117.43 L119,117.52 L119.5,117.61 L120,117.7 L120.5,117.79 L121,117.88 L121.5,117.97 L122,118.06 L122.5,118.15 L123,118.24 L123.5,118.33 L124,118.42 L124.5,118.52 L125,118.61 L125.5,118.7 L126,118.79 L126.5,118.88 L127,118.97 L127.5,119.06 L128,119.15 L128.5,119.24 L129,119.33 L129.4,119.4" fill="none" stroke="#ff0a14" stroke-width="2" stroke-linejoin="round"/>
<rect x="86.5" y="8.5" width="43" height="47.4" fill="#fff" stroke="none" stroke-width="1" />
<path d="M86.5,46.8 L87,46.8 L87.5,46.8 L88,46.8 L88.5,46.8 L89,46.8 L89.5,46.8 L90,46.8 L90.5,46.8 L91,46.8 L91.5,46.8 L92,46.8 L92.5,46.8 L93,46.8 L93.5,46.8 L94,46.8 L94.5,46.7 L95,46.6 L95.5,46.5 L96,46.4 L96.5,46.3 L97,46.2 L97.5,46.1 L98,46 L98.5,45.81 L99,45.62 L99.5,45.44 L100,45.25 L100.5,45.06 L101,44.88 L101.5,44.69 L101.8,44.58 L102,44.5 L102.5,44.31 L103,44.12 L103.5,43.94 L104,43.75 L104.5,43.56 L105,43.38 L105.5,43.19 L106,43 L106.5,43.12 L107,43.25 L107.5,43.38 L108,43.5 L108.5,43.62 L109,43.75 L109.5,43.88 L110,44 L110.5,44.12 L111,44.25 L111.5,44.38 L112,44.5 L112.5,44.62 L113,44.75 L113.5,44.88 L114,45 L114.5,45.12 L115,45.25 L115.5,45.38 L116,45.5 L116.5,45.5 L117,45.5 L117.5,45.5 L118,45.5 L118.5,45.5 L119,45.5 L119.5,45.5 L120,45.5 L120.5,45.5 L121,45.5 L121.5,45.5 L122,45.5 L122.5,45.5 L123,45.5 L123.5,45.6 L124,45.7 L124.5,45.8 L125,45.91 L125.5,46.01 L126,46.11 L126.5,46.21 L127,46.31 L127.5,46.41 L128,46.52 L128.5,46.62 L129,46.72 L129.4,46.8 L129.5,46.8" fill="none" stroke="#24602a" stroke-width="1.15" stroke-linejoin="round"/>
<path d="M86.5,46.79 L87,46.79 L87.5,46.79 L88,46.79 L88.5,46.79 L89,46.79 L89.5,46.79 L90,46.79 L90.5,46.79 L91,46.79 L91.5,46.79 L92,46.79 L92.5,46.79 L93,46.79 L93.5,46.76 L94,46.73 L94.5,46.6 L95,46.47 L95.5,46.36 L96,46.24 L96.5,46.13 L97,46.02 L97.5,45.91 L98,45.81 L98.5,45.63 L99,45.44 L99.5,45.26 L100,45.05 L100.5,44.84 L101,44.63 L101.5,44.28 L101.8,44.07 L102,43.97 L102.5,43.72 L103,43.47 L103.5,43.19 L104,42.91 L104.5,42.63 L105,42.35 L105.5,42.06 L106,41.77 L106.5,41.86 L107,41.95 L107.5,42.12 L108,42.3 L108.5,42.46 L109,42.61 L109.5,42.77 L110,42.92 L110.5,43.07 L111,43.21 L111.5,43.4 L112,43.58 L112.5,43.77 L113,43.96 L113.5,44.14 L114,44.33 L114.5,44.52 L115,44.69 L115.5,44.86 L116,45.02 L116.5,45.04 L117,45.05 L117.5,45.06 L118,45.08 L118.5,45.07 L119,45.06 L119.5,45.06 L120,45.05 L120.5,45.03 L121,45.01 L121.5,44.99 L122,44.98 L122.5,44.97 L123,44.96 L123.5,45.05 L124,45.16 L124.5,45.27 L125,45.39 L125.5,45.51 L126,45.64 L126.5,45.77 L127,45.9 L127.5,46.02 L128,46.14 L128.5,46.26 L129,46.39 L129.4,46.48 L129.5,46.48" fill="none" stroke="#366e2d" stroke-width="1.15" stroke-linejoin="round"/>
<path d="M86.5,46.79 L87,46.79 L87.5,46.79 L88,46.79 L88.5,46.79 L89,46.79 L89.5,46.79 L90,46.79 L90.5,46.79 L91,46.79 L91.5,46.79 L92,46.79 L92.5,46.79 L93,46.79 L93.5,46.72 L94,46.66 L94.5,46.5 L95,46.34 L95.5,46.21 L96,46.09 L96.5,45.96 L97,45.83 L97.5,45.73 L98,45.62 L98.5,45.44 L99,45.26 L99.5,45.07 L100,44.84 L100.5,44.62 L101,44.39 L101.5,43.88 L101.8,43.57 L102,43.44 L102.5,43.13 L103,42.81 L103.5,42.44 L104,42.08 L104.5,41.71 L105,41.32 L105.5,40.94 L106,40.55 L106.5,40.6 L107,40.64 L107.5,40.87 L108,41.1 L108.5,41.29 L109,41.48 L109.5,41.66 L110,41.85 L110.5,42.01 L111,42.17 L111.5,42.42 L112,42.67 L112.5,42.91 L113,43.16 L113.5,43.41 L114,43.66 L114.5,43.91 L115,44.12 L115.5,44.34 L116,44.55 L116.5,44.58 L117,44.6 L117.5,44.62 L118,44.65 L118.5,44.64 L119,44.62 L119.5,44.61 L120,44.6 L120.5,44.56 L121,44.52 L121.5,44.49 L122,44.45 L122.5,44.43 L123,44.42 L123.5,44.49 L124,44.62 L124.5,44.74 L125,44.87 L125.5,45.02 L126,45.17 L126.5,45.33 L127,45.48 L127.5,45.62 L128,45.77 L128.5,45.91 L129,46.06 L129.4,46.17 L129.5,46.17" fill="none" stroke="#497d2f" stroke-width="1.15" stroke-linejoin="round"/>
<path d="M86.5,46.78 L87,46.78 L87.5,46.78 L88,46.78 L88.5,46.78 L89,46.78 L89.5,46.78 L90,46.78 L90.5,46.78 L91,46.78 L91.5,46.78 L92,46.78 L92.5,46.78 L93,46.78 L93.5,46.68 L94,46.58 L94.5,46.4 L95,46.21 L95.5,46.07 L96,45.93 L96.5,45.79 L97,45.65 L97.5,45.54 L98,45.43 L98.5,45.25 L99,45.07 L99.5,44.89 L100,44.64 L100.5,44.39 L101,44.14 L101.5,43.47 L101.8,43.06 L102,42.91 L102.5,42.53 L103,42.16 L103.5,41.7 L104,41.24 L104.5,40.78 L105,40.29 L105.5,39.81 L106,39.33 L106.5,39.33 L107,39.34 L107.5,39.62 L108,39.9 L108.5,40.12 L109,40.34 L109.5,40.56 L110,40.77 L110.5,40.96 L111,41.14 L111.5,41.44 L112,41.75 L112.5,42.06 L113,42.37 L113.5,42.68 L114,42.99 L114.5,43.31 L115,43.56 L115.5,43.82 L116,44.08 L116.5,44.11 L117,44.15 L117.5,44.19 L118,44.23 L118.5,44.21 L119,44.19 L119.5,44.17 L120,44.15 L120.5,44.09 L121,44.04 L121.5,43.98 L122,43.92 L122.5,43.9 L123,43.88 L123.5,43.94 L124,44.07 L124.5,44.21 L125,44.35 L125.5,44.53 L126,44.71 L126.5,44.89 L127,45.07 L127.5,45.23 L128,45.39 L128.5,45.56 L129,45.72 L129.4,45.85 L129.5,45.85" fill="none" stroke="#5b8b32" stroke-width="1.15" stroke-linejoin="round"/>
<path d="M86.5,46.78 L87,46.78 L87.5,46.78 L88,46.78 L88.5,46.78 L89,46.78 L89.5,46.78 L90,46.78 L90.5,46.78 L91,46.78 L91.5,46.78 L92,46.78 L92.5,46.78 L93,46.78 L93.5,46.64 L94,46.51 L94.5,46.29 L95,46.08 L95.5,45.92 L96,45.77 L96.5,45.61 L97,45.46 L97.5,45.35 L98,45.24 L98.5,45.07 L99,44.89 L99.5,44.71 L100,44.44 L100.5,44.17 L101,43.9 L101.5,43.06 L101.8,42.56 L102,42.38 L102.5,41.94 L103,41.5 L103.5,40.95 L104,40.4 L104.5,39.85 L105,39.27 L105.5,38.68 L106,38.1 L106.5,38.07 L107,38.04 L107.5,38.37 L108,38.7 L108.5,38.95 L109,39.2 L109.5,39.45 L110,39.7 L110.5,39.9 L111,40.1 L111.5,40.47 L112,40.83 L112.5,41.2 L113,41.58 L113.5,41.95 L114,42.33 L114.5,42.7 L115,43 L115.5,43.3 L116,43.6 L116.5,43.65 L117,43.7 L117.5,43.75 L118,43.8 L118.5,43.77 L119,43.75 L119.5,43.73 L120,43.7 L120.5,43.62 L121,43.55 L121.5,43.48 L122,43.4 L122.5,43.37 L123,43.33 L123.5,43.38 L124,43.53 L124.5,43.68 L125,43.83 L125.5,44.03 L126,44.24 L126.5,44.44 L127,44.65 L127.5,44.84 L128,45.02 L128.5,45.21 L129,45.39 L129.4,45.54 L129.5,45.54" fill="none" stroke="#6e9935" stroke-width="1.15" stroke-linejoin="round"/>
<path d="M86.5,46.77 L87,46.77 L87.5,46.77 L88,46.77 L88.5,46.77 L89,46.77 L89.5,46.77 L90,46.77 L90.5,46.77 L91,46.77 L91.5,46.77 L92,46.77 L92.5,46.77 L93,46.77 L93.5,46.6 L94,46.42 L94.5,46.17 L95,45.92 L95.5,45.75 L96,45.58 L96.5,45.41 L97,45.24 L97.5,45.13 L98,45.02 L98.5,44.84 L99,44.67 L99.5,44.49 L100,44.2 L100.5,43.9 L101,43.61 L101.5,42.57 L101.8,41.96 L102,41.75 L102.5,41.23 L103,40.71 L103.5,40.05 L104,39.39 L104.5,38.74 L105,38.03 L105.5,37.33 L106,36.63 L106.5,36.55 L107,36.48 L107.5,36.87 L108,37.26 L108.5,37.55 L109,37.84 L109.5,38.12 L110,38.41 L110.5,38.63 L111,38.85 L111.5,39.29 L112,39.73 L112.5,40.17 L113,40.62 L113.5,41.07 L114,41.52 L114.5,41.97 L115,42.33 L115.5,42.68 L116,43.03 L116.5,43.09 L117,43.16 L117.5,43.23 L118,43.29 L118.5,43.26 L119,43.23 L119.5,43.19 L120,43.16 L120.5,43.06 L121,42.97 L121.5,42.87 L122,42.77 L122.5,42.73 L123,42.68 L123.5,42.72 L124,42.88 L124.5,43.04 L125,43.2 L125.5,43.44 L126,43.68 L126.5,43.91 L127,44.15 L127.5,44.36 L128,44.57 L128.5,44.78 L129,44.99 L129.4,45.16 L129.5,45.16" fill="none" stroke="#8ba633" stroke-width="1.15" stroke-linejoin="round"/>
<path d="M86.5,46.77 L87,46.77 L87.5,46.77 L88,46.77 L88.5,46.77 L89,46.77 L89.5,46.77 L90,46.77 L90.5,46.77 L91,46.77 L91.5,46.77 L92,46.77 L92.5,46.77 L93,46.77 L93.5,46.55 L94,46.34 L94.5,46.05 L95,45.77 L95.5,45.58 L96,45.39 L96.5,45.2 L97,45.02 L97.5,44.9 L98,44.79 L98.5,44.62 L99,44.45 L99.5,44.27 L100,43.95 L100.5,43.63 L101,43.31 L101.5,42.09 L101.8,41.35 L102,41.11 L102.5,40.52 L103,39.92 L103.5,39.16 L104,38.39 L104.5,37.62 L105,36.8 L105.5,35.98 L106,35.16 L106.5,35.04 L107,34.91 L107.5,35.37 L108,35.82 L108.5,36.14 L109,36.47 L109.5,36.8 L110,37.12 L110.5,37.37 L111,37.61 L111.5,38.12 L112,38.63 L112.5,39.14 L113,39.67 L113.5,40.2 L114,40.72 L114.5,41.24 L115,41.65 L115.5,42.05 L116,42.46 L116.5,42.54 L117,42.62 L117.5,42.7 L118,42.78 L118.5,42.74 L119,42.7 L119.5,42.66 L120,42.62 L120.5,42.5 L121,42.38 L121.5,42.26 L122,42.14 L122.5,42.09 L123,42.03 L123.5,42.05 L124,42.22 L124.5,42.4 L125,42.58 L125.5,42.85 L126,43.11 L126.5,43.38 L127,43.65 L127.5,43.89 L128,44.12 L128.5,44.36 L129,44.6 L129.4,44.78 L129.5,44.78" fill="none" stroke="#a8b231" stroke-width="1.15" stroke-linejoin="round"/>
<path d="M86.5,46.76 L87,46.76 L87.5,46.76 L88,46.76 L88.5,46.76 L89,46.76 L89.5,46.76 L90,46.76 L90.5,46.76 L91,46.76 L91.5,46.76 L92,46.76 L92.5,46.76 L93,46.76 L93.5,46.51 L94,46.25 L94.5,45.93 L95,45.61 L95.5,45.41 L96,45.2 L96.5,45 L97,44.79 L97.5,44.68 L98,44.56 L98.5,44.39 L99,44.22 L99.5,44.06 L100,43.71 L100.5,43.37 L101,43.02 L101.5,41.6 L101.8,40.75 L102,40.48 L102.5,39.81 L103,39.14 L103.5,38.26 L104,37.38 L104.5,36.51 L105,35.57 L105.5,34.63 L106,33.69 L106.5,33.52 L107,33.35 L107.5,33.87 L108,34.38 L108.5,34.74 L109,35.11 L109.5,35.47 L110,35.83 L110.5,36.1 L111,36.37 L111.5,36.95 L112,37.53 L112.5,38.12 L113,38.72 L113.5,39.32 L114,39.92 L114.5,40.52 L115,40.98 L115.5,41.43 L116,41.89 L116.5,41.98 L117,42.08 L117.5,42.17 L118,42.27 L118.5,42.22 L119,42.17 L119.5,42.13 L120,42.08 L120.5,41.94 L121,41.8 L121.5,41.65 L122,41.51 L122.5,41.45 L123,41.38 L123.5,41.38 L124,41.57 L124.5,41.76 L125,41.95 L125.5,42.25 L126,42.55 L126.5,42.85 L127,43.15 L127.5,43.41 L128,43.68 L128.5,43.94 L129,44.2 L129.4,44.41 L129.5,44.41" fill="none" stroke="#c6be2f" stroke-width="1.15" stroke-linejoin="round"/>
<path d="M86.5,46.76 L87,46.76 L87.5,46.76 L88,46.76 L88.5,46.76 L89,46.76 L89.5,46.76 L90,46.76 L90.5,46.76 L91,46.76 L91.5,46.76 L92,46.76 L92.5,46.76 L93,46.76 L93.5,46.45 L94,46.15 L94.5,45.79 L95,45.43 L95.5,45.21 L96,44.98 L96.5,44.76 L97,44.54 L97.5,44.42 L98,44.3 L98.5,44.13 L99,43.97 L99.5,43.8 L100,43.43 L100.5,43.05 L101,42.68 L101.5,41.03 L101.8,40.04 L102,39.74 L102.5,38.98 L103,38.22 L103.5,37.22 L104,36.21 L104.5,35.21 L105,34.13 L105.5,33.05 L106,31.98 L106.5,31.75 L107,31.53 L107.5,32.11 L108,32.7 L108.5,33.11 L109,33.51 L109.5,33.92 L110,34.33 L110.5,34.62 L111,34.91 L111.5,35.58 L112,36.25 L112.5,36.92 L113,37.61 L113.5,38.29 L114,38.98 L114.5,39.67 L115,40.19 L115.5,40.71 L116,41.23 L116.5,41.34 L117,41.45 L117.5,41.56 L118,41.67 L118.5,41.62 L119,41.56 L119.5,41.51 L120,41.45 L120.5,41.28 L121,41.11 L121.5,40.94 L122,40.77 L122.5,40.7 L123,40.62 L123.5,40.61 L124,40.81 L124.5,41.02 L125,41.22 L125.5,41.56 L126,41.9 L126.5,42.23 L127,42.57 L127.5,42.86 L128,43.15 L128.5,43.44 L129,43.73 L129.4,43.96 L129.5,43.96" fill="none" stroke="#ddc12d" stroke-width="1.15" stroke-linejoin="round"/>
<path d="M86.5,46.75 L87,46.75 L87.5,46.75 L88,46.75 L88.5,46.75 L89,46.75 L89.5,46.75 L90,46.75 L90.5,46.75 L91,46.75 L91.5,46.75 L92,46.75 L92.5,46.75 L93,46.75 L93.5,46.4 L94,46.05 L94.5,45.65 L95,45.25 L95.5,45.01 L96,44.76 L96.5,44.52 L97,44.28 L97.5,44.16 L98,44.03 L98.5,43.87 L99,43.71 L99.5,43.55 L100,43.14 L100.5,42.74 L101,42.34 L101.5,40.46 L101.8,39.34 L102,39 L102.5,38.15 L103,37.3 L103.5,36.17 L104,35.04 L104.5,33.91 L105,32.69 L105.5,31.48 L106,30.26 L106.5,29.98 L107,29.7 L107.5,30.36 L108,31.02 L108.5,31.47 L109,31.92 L109.5,32.37 L110,32.82 L110.5,33.14 L111,33.46 L111.5,34.21 L112,34.97 L112.5,35.72 L113,36.49 L113.5,37.27 L114,38.05 L114.5,38.82 L115,39.4 L115.5,39.98 L116,40.56 L116.5,40.69 L117,40.82 L117.5,40.95 L118,41.08 L118.5,41.02 L119,40.95 L119.5,40.88 L120,40.82 L120.5,40.62 L121,40.43 L121.5,40.23 L122,40.04 L122.5,39.95 L123,39.87 L123.5,39.83 L124,40.05 L124.5,40.27 L125,40.49 L125.5,40.87 L126,41.24 L126.5,41.62 L127,41.99 L127.5,42.31 L128,42.63 L128.5,42.95 L129,43.27 L129.4,43.52 L129.5,43.52" fill="none" stroke="#efbf2c" stroke-width="1.15" stroke-linejoin="round"/>
<path d="M86.5,46.74 L87,46.74 L87.5,46.74 L88,46.74 L88.5,46.74 L89,46.74 L89.5,46.74 L90,46.74 L90.5,46.74 L91,46.74 L91.5,46.74 L92,46.74 L92.5,46.74 L93,46.74 L93.5,46.34 L94,45.93 L94.5,45.48 L95,45.04 L95.5,44.77 L96,44.51 L96.5,44.24 L97,43.98 L97.5,43.86 L98,43.73 L98.5,43.57 L99,43.41 L99.5,43.25 L100,42.82 L100.5,42.38 L101,41.95 L101.5,39.81 L101.8,38.53 L102,38.15 L102.5,37.2 L103,36.25 L103.5,34.98 L104,33.7 L104.5,32.42 L105,31.05 L105.5,29.68 L106,28.3 L106.5,27.96 L107,27.62 L107.5,28.36 L108,29.1 L108.5,29.6 L109,30.1 L109.5,30.6 L110,31.1 L110.5,31.45 L111,31.8 L111.5,32.65 L112,33.5 L112.5,34.35 L113,35.23 L113.5,36.1 L114,36.98 L114.5,37.85 L115,38.5 L115.5,39.15 L116,39.8 L116.5,39.95 L117,40.1 L117.5,40.25 L118,40.4 L118.5,40.33 L119,40.25 L119.5,40.17 L120,40.1 L120.5,39.88 L121,39.65 L121.5,39.42 L122,39.2 L122.5,39.1 L123,39 L123.5,38.94 L124,39.18 L124.5,39.42 L125,39.66 L125.5,40.08 L126,40.49 L126.5,40.91 L127,41.33 L127.5,41.68 L128,42.03 L128.5,42.38 L129,42.74 L129.4,43.02 L129.5,43.02" fill="none" stroke="#f0a92c" stroke-width="1.15" stroke-linejoin="round"/>
<path d="M86.5,46.73 L87,46.73 L87.5,46.73 L88,46.73 L88.5,46.73 L89,46.73 L89.5,46.73 L90,46.73 L90.5,46.73 L91,46.73 L91.5,46.73 L92,46.73 L92.5,46.73 L93,46.73 L93.5,46.26 L94,45.78 L94.5,45.28 L95,44.78 L95.5,44.49 L96,44.2 L96.5,43.9 L97,43.61 L97.5,43.48 L98,43.35 L98.5,43.2 L99,43.05 L99.5,42.89 L100,42.41 L100.5,41.94 L101,41.46 L101.5,39 L101.8,37.52 L102,37.09 L102.5,36.01 L103,34.94 L103.5,33.48 L104,32.02 L104.5,30.57 L105,29 L105.5,27.42 L106,25.85 L106.5,25.43 L107,25.02 L107.5,25.86 L108,26.7 L108.5,27.26 L109,27.83 L109.5,28.39 L110,28.95 L110.5,29.34 L111,29.73 L111.5,30.7 L112,31.67 L112.5,32.64 L113,33.64 L113.5,34.64 L114,35.64 L114.5,36.64 L115,37.38 L115.5,38.11 L116,38.85 L116.5,39.02 L117,39.2 L117.5,39.38 L118,39.55 L118.5,39.46 L119,39.38 L119.5,39.29 L120,39.2 L120.5,38.94 L121,38.67 L121.5,38.41 L122,38.15 L122.5,38.03 L123,37.92 L123.5,37.83 L124,38.09 L124.5,38.36 L125,38.62 L125.5,39.09 L126,39.56 L126.5,40.03 L127,40.49 L127.5,40.89 L128,41.28 L128.5,41.68 L129,42.07 L129.4,42.39 L129.5,42.39" fill="none" stroke="#f1942c" stroke-width="1.15" stroke-linejoin="round"/>
<path d="M86.5,46.72 L87,46.72 L87.5,46.72 L88,46.72 L88.5,46.72 L89,46.72 L89.5,46.72 L90,46.72 L90.5,46.72 L91,46.72 L91.5,46.72 L92,46.72 L92.5,46.72 L93,46.72 L93.5,46.18 L94,45.64 L94.5,45.08 L95,44.52 L95.5,44.2 L96,43.88 L96.5,43.56 L97,43.24 L97.5,43.11 L98,42.98 L98.5,42.83 L99,42.68 L99.5,42.53 L100,42.01 L100.5,41.49 L101,40.98 L101.5,38.19 L101.8,36.52 L102,36.03 L102.5,34.83 L103,33.62 L103.5,31.99 L104,30.35 L104.5,28.71 L105,26.94 L105.5,25.17 L106,23.4 L106.5,22.91 L107,22.41 L107.5,23.36 L108,24.3 L108.5,24.93 L109,25.55 L109.5,26.18 L110,26.8 L110.5,27.22 L111,27.65 L111.5,28.74 L112,29.83 L112.5,30.92 L113,32.05 L113.5,33.17 L114,34.3 L114.5,35.42 L115,36.25 L115.5,37.08 L116,37.9 L116.5,38.1 L117,38.3 L117.5,38.5 L118,38.7 L118.5,38.6 L119,38.5 L119.5,38.4 L120,38.3 L120.5,38 L121,37.7 L121.5,37.4 L122,37.1 L122.5,36.97 L123,36.83 L123.5,36.72 L124,37.01 L124.5,37.29 L125,37.58 L125.5,38.1 L126,38.62 L126.5,39.14 L127,39.66 L127.5,40.1 L128,40.54 L128.5,40.97 L129,41.41 L129.4,41.76 L129.5,41.76" fill="none" stroke="#f27e2c" stroke-width="1.15" stroke-linejoin="round"/>
<path d="M86.5,46.7 L87,46.7 L87.5,46.7 L88,46.7 L88.5,46.7 L89,46.7 L89.5,46.7 L90,46.7 L90.5,46.7 L91,46.7 L91.5,46.7 L92,46.7 L92.5,46.7 L93,46.7 L93.5,46.03 L94,45.35 L94.5,44.67 L95,44 L95.5,43.62 L96,43.25 L96.5,42.88 L97,42.5 L97.5,42.36 L98,42.22 L98.5,42.08 L99,41.94 L99.5,41.8 L100,41.2 L100.5,40.6 L101,40 L101.5,36.56 L101.8,34.5 L102,33.92 L102.5,32.46 L103,31 L103.5,29 L104,27 L104.5,25 L105,22.83 L105.5,20.67 L106,18.5 L106.5,17.85 L107,17.2 L107.5,18.35 L108,19.5 L108.5,20.25 L109,21 L109.5,21.75 L110,22.5 L110.5,23 L111,23.5 L111.5,24.83 L112,26.17 L112.5,27.5 L113,28.88 L113.5,30.25 L114,31.62 L114.5,33 L115,34 L115.5,35 L116,36 L116.5,36.25 L117,36.5 L117.5,36.75 L118,37 L118.5,36.88 L119,36.75 L119.5,36.62 L120,36.5 L120.5,36.12 L121,35.75 L121.5,35.38 L122,35 L122.5,34.83 L123,34.67 L123.5,34.5 L124,34.83 L124.5,35.17 L125,35.5 L125.5,36.12 L126,36.75 L126.5,37.38 L127,38 L127.5,38.52 L128,39.04 L128.5,39.56 L129,40.08 L129.4,40.5 L129.5,40.5" fill="none" stroke="#ff0a14" stroke-width="1.8" stroke-linejoin="round"/>
<rect x="86.5" y="8.5" width="43" height="47.4" fill="none" stroke="#222" stroke-width="0.9" />
<line x1="96.4" y1="55.9" x2="96.4" y2="57.4" stroke="#222" stroke-width="0.8" />
<line x1="116.5" y1="55.9" x2="116.5" y2="57.4" stroke="#222" stroke-width="0.8" />
<text x="96.7" y="65.3" font-size="8" text-anchor="middle" font-weight="normal" fill="#000" >1350</text>
<text x="116.3" y="65.3" font-size="8" text-anchor="middle" font-weight="normal" fill="#000" >1500</text>
<rect x="22.5" y="8.5" width="107" height="112" fill="none" stroke="#222" stroke-width="1" />
<line x1="22.5" y1="9" x2="22.5" y2="120" stroke="#fff" stroke-width="1.05" />
<line x1="22.5" y1="9" x2="22.5" y2="120" stroke="#c4cccc" stroke-width="1" />
<line x1="20.5" y1="120.3" x2="22.5" y2="120.3" stroke="#222" stroke-width="0.8" />
<line x1="129.5" y1="120.3" x2="128" y2="120.3" stroke="#222" stroke-width="0.8" />
<line x1="20.5" y1="97.97" x2="22.5" y2="97.97" stroke="#222" stroke-width="0.8" />
<line x1="129.5" y1="97.97" x2="128" y2="97.97" stroke="#222" stroke-width="0.8" />
<line x1="20.5" y1="75.64" x2="22.5" y2="75.64" stroke="#222" stroke-width="0.8" />
<line x1="129.5" y1="75.64" x2="128" y2="75.64" stroke="#222" stroke-width="0.8" />
<line x1="20.5" y1="53.31" x2="22.5" y2="53.31" stroke="#222" stroke-width="0.8" />
<line x1="129.5" y1="53.31" x2="128" y2="53.31" stroke="#222" stroke-width="0.8" />
<line x1="20.5" y1="30.98" x2="22.5" y2="30.98" stroke="#222" stroke-width="0.8" />
<line x1="129.5" y1="30.98" x2="128" y2="30.98" stroke="#222" stroke-width="0.8" />
<line x1="20.5" y1="8.65" x2="22.5" y2="8.65" stroke="#222" stroke-width="0.8" />
<line x1="129.5" y1="8.65" x2="128" y2="8.65" stroke="#222" stroke-width="0.8" />
<line x1="21.3" y1="109.13" x2="22.5" y2="109.13" stroke="#222" stroke-width="0.8" />
<line x1="129.5" y1="109.13" x2="128.5" y2="109.13" stroke="#222" stroke-width="0.8" />
<line x1="21.3" y1="86.81" x2="22.5" y2="86.81" stroke="#222" stroke-width="0.8" />
<line x1="129.5" y1="86.81" x2="128.5" y2="86.81" stroke="#222" stroke-width="0.8" />
<line x1="21.3" y1="64.47" x2="22.5" y2="64.47" stroke="#222" stroke-width="0.8" />
<line x1="129.5" y1="64.47" x2="128.5" y2="64.47" stroke="#222" stroke-width="0.8" />
<line x1="21.3" y1="42.14" x2="22.5" y2="42.14" stroke="#222" stroke-width="0.8" />
<line x1="129.5" y1="42.14" x2="128.5" y2="42.14" stroke="#222" stroke-width="0.8" />
<line x1="21.3" y1="19.81" x2="22.5" y2="19.81" stroke="#222" stroke-width="0.8" />
<line x1="129.5" y1="19.81" x2="128.5" y2="19.81" stroke="#222" stroke-width="0.8" />
<line x1="28.4" y1="120.5" x2="28.4" y2="122.5" stroke="#222" stroke-width="0.8" />
<line x1="28.4" y1="8.5" x2="28.4" y2="10" stroke="#222" stroke-width="0.8" />
<line x1="60.39" y1="120.5" x2="60.39" y2="122.5" stroke="#222" stroke-width="0.8" />
<line x1="60.39" y1="8.5" x2="60.39" y2="10" stroke="#222" stroke-width="0.8" />
<line x1="92.39" y1="120.5" x2="92.39" y2="122.5" stroke="#222" stroke-width="0.8" />
<line x1="92.39" y1="8.5" x2="92.39" y2="10" stroke="#222" stroke-width="0.8" />
<line x1="124.38" y1="120.5" x2="124.38" y2="122.5" stroke="#222" stroke-width="0.8" />
<line x1="124.38" y1="8.5" x2="124.38" y2="10" stroke="#222" stroke-width="0.8" />
<line x1="44.4" y1="120.5" x2="44.4" y2="121.7" stroke="#222" stroke-width="0.8" />
<line x1="44.4" y1="8.5" x2="44.4" y2="9.5" stroke="#222" stroke-width="0.8" />
<line x1="76.39" y1="120.5" x2="76.39" y2="121.7" stroke="#222" stroke-width="0.8" />
<line x1="76.39" y1="8.5" x2="76.39" y2="9.5" stroke="#222" stroke-width="0.8" />
<line x1="108.39" y1="120.5" x2="108.39" y2="121.7" stroke="#222" stroke-width="0.8" />
<line x1="108.39" y1="8.5" x2="108.39" y2="9.5" stroke="#222" stroke-width="0.8" />
<text x="20.2" y="123.34" font-size="8.5" text-anchor="end" font-weight="normal" fill="#000" >0</text>
<text x="20.2" y="101.01" font-size="8.5" text-anchor="end" font-weight="normal" fill="#000" >0.1</text>
<text x="20.2" y="78.68" font-size="8.5" text-anchor="end" font-weight="normal" fill="#000" >0.2</text>
<text x="20.2" y="56.35" font-size="8.5" text-anchor="end" font-weight="normal" fill="#000" >0.3</text>
<text x="20.2" y="34.02" font-size="8.5" text-anchor="end" font-weight="normal" fill="#000" >0.4</text>
<text x="20.2" y="11.69" font-size="8.5" text-anchor="end" font-weight="normal" fill="#000" >0.5</text>
<text x="28.4" y="130.2" font-size="8.5" text-anchor="middle" font-weight="normal" fill="#000" >300</text>
<text x="60.39" y="130.2" font-size="8.5" text-anchor="middle" font-weight="normal" fill="#000" >450</text>
<text x="92.39" y="130.2" font-size="8.5" text-anchor="middle" font-weight="normal" fill="#000" >600</text>
<text x="124.38" y="130.2" font-size="8.5" text-anchor="middle" font-weight="normal" fill="#000" >750</text>
<text x="76" y="142.3" font-size="8" text-anchor="middle" font-weight="normal" fill="#000" >Wavelength (nm)</text>
<text transform="translate(5.9,64.6) rotate(-90)" font-size="8.4" text-anchor="middle" font-weight="normal" fill="#000">Absorbance</text>
<rect x="22.5" y="8.5" width="17.1" height="14.2" fill="#000" stroke="none" stroke-width="1" />
<text x="31.05" y="20.1" font-size="12.5" text-anchor="middle" font-weight="bold" fill="#fff" style="stroke:#fff">A</text>
<text x="43" y="4.9" font-size="6.1" text-anchor="start" font-weight="normal" fill="#000"  class="s">Fe<tspan dy="1.83" font-size="4.03">2</tspan><tspan dy="-1.83">P</tspan><tspan dy="1.83" font-size="4.03">2</tspan><tspan dy="-1.83">S</tspan><tspan dy="1.83" font-size="4.03">6</tspan><tspan dy="-1.83">, Large (0.6-3k g)</tspan></text>
<defs><linearGradient id="cbA" x1="0" y1="0" x2="0" y2="1"><stop offset="0" stop-color="#24602a"/><stop offset="0.25" stop-color="#6f9a35"/><stop offset="0.45" stop-color="#cfc22e"/><stop offset="0.55" stop-color="#efc02c"/><stop offset="0.75" stop-color="#f27a2c"/><stop offset="0.9" stop-color="#f83024"/><stop offset="1" stop-color="#ff0a14"/></linearGradient></defs>
<rect x="49.8" y="19.6" width="7.3" height="30.6" fill="url(#cbA)" stroke="none" stroke-width="1" />
<text x="49.6" y="15.4" font-size="4.8" text-anchor="start" font-weight="normal" fill="#000"  class="s">Time at 40°C</text>
<text x="59.5" y="21.9" font-size="4.8" text-anchor="start" font-weight="normal" fill="#000"  class="s">Initial</text>
<text x="58.2" y="50.9" font-size="4.8" text-anchor="start" font-weight="normal" fill="#000"  class="s">93.7 h</text>
<line x1="34.3" y1="86" x2="40.1" y2="29" stroke="#000" stroke-width="1.8" stroke-dasharray="5,3"/>
<path d="M40.7,23.6 L43,29.5 L38.2,29.2 Z" fill="#000" stroke="none" stroke-width="1" />
<text x="34.6" y="94" font-size="7.8" text-anchor="middle" font-weight="normal" fill="#000" >Time</text>
<text x="67" y="86.8" font-size="7.8" text-anchor="middle" font-weight="normal" fill="#000" >Time</text>
<line x1="67.5" y1="91" x2="67.5" y2="112" stroke="#000" stroke-width="1.8" stroke-dasharray="6,5"/>
<path d="M65,112.5 L70,112.5 L67.5,118.3 Z" fill="#000" stroke="none" stroke-width="1" />
<line x1="179.3" y1="29" x2="270" y2="50.1" stroke="#21692a" stroke-width="1.5" />
<line x1="179.3" y1="29" x2="270" y2="65.6" stroke="#f2a81d" stroke-width="1.5" />
<line x1="179.3" y1="29" x2="270" y2="105.5" stroke="#f5193c" stroke-width="1.5" />
<circle cx="179.3" cy="29.1" r="1.9" fill="none" stroke="#21692a" stroke-width="1.3"/>
<circle cx="183" cy="30" r="1.9" fill="none" stroke="#21692a" stroke-width="1.3"/>
<circle cx="186" cy="31.2" r="1.9" fill="none" stroke="#21692a" stroke-width="1.3"/>
<circle cx="190" cy="32.6" r="1.9" fill="none" stroke="#21692a" stroke-width="1.3"/>
<circle cx="194.1" cy="33.7" r="1.9" fill="none" stroke="#21692a" stroke-width="1.3"/>
<circle cx="199.2" cy="34.1" r="1.9" fill="none" stroke="#21692a" stroke-width="1.3"/>
<circle cx="215.3" cy="38.5" r="1.9" fill="none" stroke="#21692a" stroke-width="1.3"/>
<circle cx="220.9" cy="39.1" r="1.9" fill="none" stroke="#21692a" stroke-width="1.3"/>
<circle cx="225.4" cy="40.1" r="1.9" fill="none" stroke="#21692a" stroke-width="1.3"/>
<circle cx="270" cy="50.1" r="1.9" fill="none" stroke="#21692a" stroke-width="1.3"/>
<path d="M176.8,27.56 L181.8,27.56 L179.3,31.89 Z" fill="none" stroke="#f2a81d" stroke-width="1.3" stroke-linejoin="miter"/>
<path d="M184.6,30.66 L189.6,30.66 L187.1,34.99 Z" fill="none" stroke="#f2a81d" stroke-width="1.3" stroke-linejoin="miter"/>
<path d="M190.6,33.66 L195.6,33.66 L193.1,37.99 Z" fill="none" stroke="#f2a81d" stroke-width="1.3" stroke-linejoin="miter"/>
<path d="M196.7,37.06 L201.7,37.06 L199.2,41.39 Z" fill="none" stroke="#f2a81d" stroke-width="1.3" stroke-linejoin="miter"/>
<path d="M213.4,42.76 L218.4,42.76 L215.9,47.09 Z" fill="none" stroke="#f2a81d" stroke-width="1.3" stroke-linejoin="miter"/>
<path d="M218.8,43.76 L223.8,43.76 L221.3,48.09 Z" fill="none" stroke="#f2a81d" stroke-width="1.3" stroke-linejoin="miter"/>
<path d="M246.6,55.36 L251.6,55.36 L249.1,59.69 Z" fill="none" stroke="#f2a81d" stroke-width="1.3" stroke-linejoin="miter"/>
<path d="M267.5,64.16 L272.5,64.16 L270,68.49 Z" fill="none" stroke="#f2a81d" stroke-width="1.3" stroke-linejoin="miter"/>
<path d="M179.2,26.6 L181.7,29.1 L179.2,31.6 L176.7,29.1 Z" fill="none" stroke="#f5193c" stroke-width="1.3" />
<path d="M183.1,30.6 L185.6,33.1 L183.1,35.6 L180.6,33.1 Z" fill="none" stroke="#f5193c" stroke-width="1.3" />
<path d="M185.7,32.6 L188.2,35.1 L185.7,37.6 L183.2,35.1 Z" fill="none" stroke="#f5193c" stroke-width="1.3" />
<path d="M188.1,33.6 L190.6,36.1 L188.1,38.6 L185.6,36.1 Z" fill="none" stroke="#f5193c" stroke-width="1.3" />
<path d="M190.5,35.6 L193,38.1 L190.5,40.6 L188,38.1 Z" fill="none" stroke="#f5193c" stroke-width="1.3" />
<path d="M193.1,40.7 L195.6,43.2 L193.1,45.7 L190.6,43.2 Z" fill="none" stroke="#f5193c" stroke-width="1.3" />
<path d="M198.2,44.7 L200.7,47.2 L198.2,49.7 L195.7,47.2 Z" fill="none" stroke="#f5193c" stroke-width="1.3" />
<path d="M215.3,59.8 L217.8,62.3 L215.3,64.8 L212.8,62.3 Z" fill="none" stroke="#f5193c" stroke-width="1.3" />
<path d="M220.7,64.8 L223.2,67.3 L220.7,69.8 L218.2,67.3 Z" fill="none" stroke="#f5193c" stroke-width="1.3" />
<path d="M249.1,85.1 L251.6,87.6 L249.1,90.1 L246.6,87.6 Z" fill="none" stroke="#f5193c" stroke-width="1.3" />
<path d="M270,103 L272.5,105.5 L270,108 L267.5,105.5 Z" fill="none" stroke="#f5193c" stroke-width="1.3" />
<rect x="174.5" y="8.5" width="106.5" height="111.5" fill="none" stroke="#222" stroke-width="1" />
<line x1="281" y1="9" x2="281" y2="119.5" stroke="#fff" stroke-width="1.05" />
<line x1="281" y1="9" x2="281" y2="119.5" stroke="#a8a8a8" stroke-width="1" />
<line x1="174.5" y1="9" x2="174.5" y2="119.5" stroke="#fff" stroke-width="1.05" />
<line x1="174.5" y1="9" x2="174.5" y2="119.5" stroke="#707070" stroke-width="1" />
<line x1="172.5" y1="8.3" x2="174.5" y2="8.3" stroke="#222" stroke-width="0.8" />
<line x1="281" y1="8.3" x2="279.5" y2="8.3" stroke="#222" stroke-width="0.8" />
<line x1="172.5" y1="32.9" x2="174.5" y2="32.9" stroke="#222" stroke-width="0.8" />
<line x1="281" y1="32.9" x2="279.5" y2="32.9" stroke="#222" stroke-width="0.8" />
<line x1="172.5" y1="57.5" x2="174.5" y2="57.5" stroke="#222" stroke-width="0.8" />
<line x1="281" y1="57.5" x2="279.5" y2="57.5" stroke="#222" stroke-width="0.8" />
<line x1="172.5" y1="82.1" x2="174.5" y2="82.1" stroke="#222" stroke-width="0.8" />
<line x1="281" y1="82.1" x2="279.5" y2="82.1" stroke="#222" stroke-width="0.8" />
<line x1="172.5" y1="106.7" x2="174.5" y2="106.7" stroke="#222" stroke-width="0.8" />
<line x1="281" y1="106.7" x2="279.5" y2="106.7" stroke="#222" stroke-width="0.8" />
<line x1="173.3" y1="20.6" x2="174.5" y2="20.6" stroke="#222" stroke-width="0.8" />
<line x1="281" y1="20.6" x2="280" y2="20.6" stroke="#222" stroke-width="0.8" />
<line x1="173.3" y1="45.2" x2="174.5" y2="45.2" stroke="#222" stroke-width="0.8" />
<line x1="281" y1="45.2" x2="280" y2="45.2" stroke="#222" stroke-width="0.8" />
<line x1="173.3" y1="69.8" x2="174.5" y2="69.8" stroke="#222" stroke-width="0.8" />
<line x1="281" y1="69.8" x2="280" y2="69.8" stroke="#222" stroke-width="0.8" />
<line x1="173.3" y1="94.4" x2="174.5" y2="94.4" stroke="#222" stroke-width="0.8" />
<line x1="281" y1="94.4" x2="280" y2="94.4" stroke="#222" stroke-width="0.8" />
<line x1="179.3" y1="120" x2="179.3" y2="122" stroke="#222" stroke-width="0.8" />
<line x1="179.3" y1="8.5" x2="179.3" y2="10" stroke="#222" stroke-width="0.8" />
<line x1="203.48" y1="120" x2="203.48" y2="122" stroke="#222" stroke-width="0.8" />
<line x1="203.48" y1="8.5" x2="203.48" y2="10" stroke="#222" stroke-width="0.8" />
<line x1="227.65" y1="120" x2="227.65" y2="122" stroke="#222" stroke-width="0.8" />
<line x1="227.65" y1="8.5" x2="227.65" y2="10" stroke="#222" stroke-width="0.8" />
<line x1="251.82" y1="120" x2="251.82" y2="122" stroke="#222" stroke-width="0.8" />
<line x1="251.82" y1="8.5" x2="251.82" y2="10" stroke="#222" stroke-width="0.8" />
<line x1="276" y1="120" x2="276" y2="122" stroke="#222" stroke-width="0.8" />
<line x1="276" y1="8.5" x2="276" y2="10" stroke="#222" stroke-width="0.8" />
<line x1="191.39" y1="120" x2="191.39" y2="121.2" stroke="#222" stroke-width="0.8" />
<line x1="191.39" y1="8.5" x2="191.39" y2="9.5" stroke="#222" stroke-width="0.8" />
<line x1="215.56" y1="120" x2="215.56" y2="121.2" stroke="#222" stroke-width="0.8" />
<line x1="215.56" y1="8.5" x2="215.56" y2="9.5" stroke="#222" stroke-width="0.8" />
<line x1="239.74" y1="120" x2="239.74" y2="121.2" stroke="#222" stroke-width="0.8" />
<line x1="239.74" y1="8.5" x2="239.74" y2="9.5" stroke="#222" stroke-width="0.8" />
<line x1="263.91" y1="120" x2="263.91" y2="121.2" stroke="#222" stroke-width="0.8" />
<line x1="263.91" y1="8.5" x2="263.91" y2="9.5" stroke="#222" stroke-width="0.8" />
<text x="171.6" y="11.34" font-size="8.5" text-anchor="end" font-weight="normal" fill="#000" >-0.75</text>
<text x="171.6" y="35.94" font-size="8.5" text-anchor="end" font-weight="normal" fill="#000" >-0.8</text>
<text x="171.6" y="60.54" font-size="8.5" text-anchor="end" font-weight="normal" fill="#000" >-0.85</text>
<text x="171.6" y="85.14" font-size="8.5" text-anchor="end" font-weight="normal" fill="#000" >-0.9</text>
<text x="171.6" y="109.74" font-size="8.5" text-anchor="end" font-weight="normal" fill="#000" >-0.95</text>
<text x="179.3" y="130.6" font-size="8.5" text-anchor="middle" font-weight="normal" fill="#000" >0</text>
<text x="203.48" y="130.6" font-size="8.5" text-anchor="middle" font-weight="normal" fill="#000" >25</text>
<text x="227.65" y="130.6" font-size="8.5" text-anchor="middle" font-weight="normal" fill="#000" >50</text>
<text x="251.82" y="130.6" font-size="8.5" text-anchor="middle" font-weight="normal" fill="#000" >75</text>
<text x="276" y="130.6" font-size="8.5" text-anchor="middle" font-weight="normal" fill="#000" >100</text>
<text x="228" y="143.4" font-size="8.2" text-anchor="middle" font-weight="normal" fill="#000" >Time (h)</text>
<text transform="translate(146.6,61.5) rotate(-90)" font-size="8.5" text-anchor="middle">ln(Abs<tspan font-size="5.2" dy="1.8">450nm</tspan><tspan dy="-1.8">)</tspan></text>
<rect x="174.5" y="8.5" width="17" height="14" fill="#000" stroke="none" stroke-width="1" />
<text x="183" y="20" font-size="12.5" text-anchor="middle" font-weight="bold" fill="#fff" style="stroke:#fff">C</text>
<text x="192.6" y="4.9" font-size="6.1" text-anchor="start" font-weight="normal" fill="#000"  class="s">Fe<tspan dy="1.83" font-size="4.03">2</tspan><tspan dy="-1.83">P</tspan><tspan dy="1.83" font-size="4.03">2</tspan><tspan dy="-1.83">S</tspan><tspan dy="1.83" font-size="4.03">6</tspan><tspan dy="-1.83">, Large (0.6-3k g)</tspan></text>
<text x="177.2" y="93.7" font-size="6.2" text-anchor="start" font-weight="normal" fill="#000"  class="s">Storage Temperature</text>
<circle cx="183.7" cy="98.7" r="1.9" fill="none" stroke="#21692a" stroke-width="1.3"/>
<path d="M181.2,104.66 L186.2,104.66 L183.7,108.99 Z" fill="none" stroke="#f2a81d" stroke-width="1.3" stroke-linejoin="miter"/>
<path d="M183.7,111.3 L186.2,113.8 L183.7,116.3 L181.2,113.8 Z" fill="none" stroke="#f5193c" stroke-width="1.3" />
<text x="192" y="100.9" font-size="6.3" text-anchor="start" font-weight="normal" fill="#000"  class="s">20°C</text>
<text x="192" y="108.3" font-size="6.3" text-anchor="start" font-weight="normal" fill="#000"  class="s">40°C</text>
<text x="192" y="116" font-size="6.3" text-anchor="start" font-weight="normal" fill="#000"  class="s">60°C</text>
<line x1="327.4" y1="63.7" x2="415" y2="21" stroke="#b8b8b8" stroke-width="1.05" />
<line x1="327.4" y1="97.9" x2="415" y2="55.3" stroke="#7a7a7a" stroke-width="1.05" />
<line x1="327.4" y1="106" x2="415" y2="66.3" stroke="#000" stroke-width="1.45" />
<rect x="326.5" y="62.9" width="2.4" height="2.4" fill="#222" stroke="#222" stroke-width="0.5" />
<rect x="367.5" y="38" width="2.4" height="2.4" fill="#222" stroke="#222" stroke-width="0.5" />
<rect x="413.4" y="19.4" width="3" height="3" fill="#999" stroke="#666" stroke-width="0.8" />
<rect x="326.05" y="96.05" width="3.3" height="3.3" fill="#888" stroke="#555" stroke-width="0.9" />
<rect x="367.05" y="73.75" width="3.3" height="3.3" fill="#888" stroke="#555" stroke-width="0.9" />
<rect x="413.25" y="53.85" width="3.3" height="3.3" fill="#888" stroke="#555" stroke-width="0.9" />
<rect x="326.2" y="106.1" width="3.6" height="3.6" fill="#fff" stroke="#000" stroke-width="1.1" />
<rect x="366.9" y="77.6" width="3.6" height="3.6" fill="#fff" stroke="#000" stroke-width="1.1" />
<rect x="412.8" y="65.7" width="3.6" height="3.6" fill="#fff" stroke="#000" stroke-width="1.1" />
<rect x="316.5" y="8.5" width="106.8" height="112" fill="none" stroke="#222" stroke-width="1" />
<line x1="316.5" y1="9" x2="316.5" y2="120" stroke="#fff" stroke-width="1.05" />
<line x1="316.5" y1="9" x2="316.5" y2="120" stroke="#808080" stroke-width="1" />
<line x1="314.5" y1="119.6" x2="316.5" y2="119.6" stroke="#222" stroke-width="0.8" />
<line x1="423.3" y1="119.6" x2="421.8" y2="119.6" stroke="#222" stroke-width="0.8" />
<line x1="314.5" y1="103.77" x2="316.5" y2="103.77" stroke="#222" stroke-width="0.8" />
<line x1="423.3" y1="103.77" x2="421.8" y2="103.77" stroke="#222" stroke-width="0.8" />
<line x1="314.5" y1="87.94" x2="316.5" y2="87.94" stroke="#222" stroke-width="0.8" />
<line x1="423.3" y1="87.94" x2="421.8" y2="87.94" stroke="#222" stroke-width="0.8" />
<line x1="314.5" y1="72.11" x2="316.5" y2="72.11" stroke="#222" stroke-width="0.8" />
<line x1="423.3" y1="72.11" x2="421.8" y2="72.11" stroke="#222" stroke-width="0.8" />
<line x1="314.5" y1="54.9" x2="316.5" y2="54.9" stroke="#222" stroke-width="0.8" />
<line x1="423.3" y1="54.9" x2="421.8" y2="54.9" stroke="#222" stroke-width="0.8" />
<line x1="314.5" y1="39.6" x2="316.5" y2="39.6" stroke="#222" stroke-width="0.8" />
<line x1="423.3" y1="39.6" x2="421.8" y2="39.6" stroke="#222" stroke-width="0.8" />
<line x1="314.5" y1="24.2" x2="316.5" y2="24.2" stroke="#222" stroke-width="0.8" />
<line x1="423.3" y1="24.2" x2="421.8" y2="24.2" stroke="#222" stroke-width="0.8" />
<line x1="314.5" y1="8.79" x2="316.5" y2="8.79" stroke="#222" stroke-width="0.8" />
<line x1="423.3" y1="8.79" x2="421.8" y2="8.79" stroke="#222" stroke-width="0.8" />
<line x1="315.5" y1="116.43" x2="316.5" y2="116.43" stroke="#222" stroke-width="0.6" />
<line x1="423.3" y1="116.43" x2="422.5" y2="116.43" stroke="#222" stroke-width="0.6" />
<line x1="315.5" y1="113.27" x2="316.5" y2="113.27" stroke="#222" stroke-width="0.6" />
<line x1="423.3" y1="113.27" x2="422.5" y2="113.27" stroke="#222" stroke-width="0.6" />
<line x1="315.5" y1="110.1" x2="316.5" y2="110.1" stroke="#222" stroke-width="0.6" />
<line x1="423.3" y1="110.1" x2="422.5" y2="110.1" stroke="#222" stroke-width="0.6" />
<line x1="315.5" y1="106.94" x2="316.5" y2="106.94" stroke="#222" stroke-width="0.6" />
<line x1="423.3" y1="106.94" x2="422.5" y2="106.94" stroke="#222" stroke-width="0.6" />
<line x1="315.5" y1="100.6" x2="316.5" y2="100.6" stroke="#222" stroke-width="0.6" />
<line x1="423.3" y1="100.6" x2="422.5" y2="100.6" stroke="#222" stroke-width="0.6" />
<line x1="315.5" y1="97.44" x2="316.5" y2="97.44" stroke="#222" stroke-width="0.6" />
<line x1="423.3" y1="97.44" x2="422.5" y2="97.44" stroke="#222" stroke-width="0.6" />
<line x1="315.5" y1="94.27" x2="316.5" y2="94.27" stroke="#222" stroke-width="0.6" />
<line x1="423.3" y1="94.27" x2="422.5" y2="94.27" stroke="#222" stroke-width="0.6" />
<line x1="315.5" y1="91.11" x2="316.5" y2="91.11" stroke="#222" stroke-width="0.6" />
<line x1="423.3" y1="91.11" x2="422.5" y2="91.11" stroke="#222" stroke-width="0.6" />
<line x1="315.5" y1="84.77" x2="316.5" y2="84.77" stroke="#222" stroke-width="0.6" />
<line x1="423.3" y1="84.77" x2="422.5" y2="84.77" stroke="#222" stroke-width="0.6" />
<line x1="315.5" y1="81.61" x2="316.5" y2="81.61" stroke="#222" stroke-width="0.6" />
<line x1="423.3" y1="81.61" x2="422.5" y2="81.61" stroke="#222" stroke-width="0.6" />
<line x1="315.5" y1="78.44" x2="316.5" y2="78.44" stroke="#222" stroke-width="0.6" />
<line x1="423.3" y1="78.44" x2="422.5" y2="78.44" stroke="#222" stroke-width="0.6" />
<line x1="315.5" y1="75.28" x2="316.5" y2="75.28" stroke="#222" stroke-width="0.6" />
<line x1="423.3" y1="75.28" x2="422.5" y2="75.28" stroke="#222" stroke-width="0.6" />
<line x1="315.5" y1="68.94" x2="316.5" y2="68.94" stroke="#222" stroke-width="0.6" />
<line x1="423.3" y1="68.94" x2="422.5" y2="68.94" stroke="#222" stroke-width="0.6" />
<line x1="315.5" y1="65.78" x2="316.5" y2="65.78" stroke="#222" stroke-width="0.6" />
<line x1="423.3" y1="65.78" x2="422.5" y2="65.78" stroke="#222" stroke-width="0.6" />
<line x1="315.5" y1="62.61" x2="316.5" y2="62.61" stroke="#222" stroke-width="0.6" />
<line x1="423.3" y1="62.61" x2="422.5" y2="62.61" stroke="#222" stroke-width="0.6" />
<line x1="315.5" y1="59.45" x2="316.5" y2="59.45" stroke="#222" stroke-width="0.6" />
<line x1="423.3" y1="59.45" x2="422.5" y2="59.45" stroke="#222" stroke-width="0.6" />
<line x1="315.5" y1="53.11" x2="316.5" y2="53.11" stroke="#222" stroke-width="0.6" />
<line x1="423.3" y1="53.11" x2="422.5" y2="53.11" stroke="#222" stroke-width="0.6" />
<line x1="315.5" y1="49.95" x2="316.5" y2="49.95" stroke="#222" stroke-width="0.6" />
<line x1="423.3" y1="49.95" x2="422.5" y2="49.95" stroke="#222" stroke-width="0.6" />
<line x1="315.5" y1="46.78" x2="316.5" y2="46.78" stroke="#222" stroke-width="0.6" />
<line x1="423.3" y1="46.78" x2="422.5" y2="46.78" stroke="#222" stroke-width="0.6" />
<line x1="315.5" y1="43.62" x2="316.5" y2="43.62" stroke="#222" stroke-width="0.6" />
<line x1="423.3" y1="43.62" x2="422.5" y2="43.62" stroke="#222" stroke-width="0.6" />
<line x1="315.5" y1="37.28" x2="316.5" y2="37.28" stroke="#222" stroke-width="0.6" />
<line x1="423.3" y1="37.28" x2="422.5" y2="37.28" stroke="#222" stroke-width="0.6" />
<line x1="315.5" y1="34.12" x2="316.5" y2="34.12" stroke="#222" stroke-width="0.6" />
<line x1="423.3" y1="34.12" x2="422.5" y2="34.12" stroke="#222" stroke-width="0.6" />
<line x1="315.5" y1="30.95" x2="316.5" y2="30.95" stroke="#222" stroke-width="0.6" />
<line x1="423.3" y1="30.95" x2="422.5" y2="30.95" stroke="#222" stroke-width="0.6" />
<line x1="315.5" y1="27.79" x2="316.5" y2="27.79" stroke="#222" stroke-width="0.6" />
<line x1="423.3" y1="27.79" x2="422.5" y2="27.79" stroke="#222" stroke-width="0.6" />
<line x1="315.5" y1="21.45" x2="316.5" y2="21.45" stroke="#222" stroke-width="0.6" />
<line x1="423.3" y1="21.45" x2="422.5" y2="21.45" stroke="#222" stroke-width="0.6" />
<line x1="315.5" y1="18.29" x2="316.5" y2="18.29" stroke="#222" stroke-width="0.6" />
<line x1="423.3" y1="18.29" x2="422.5" y2="18.29" stroke="#222" stroke-width="0.6" />
<line x1="315.5" y1="15.12" x2="316.5" y2="15.12" stroke="#222" stroke-width="0.6" />
<line x1="423.3" y1="15.12" x2="422.5" y2="15.12" stroke="#222" stroke-width="0.6" />
<line x1="315.5" y1="11.96" x2="316.5" y2="11.96" stroke="#222" stroke-width="0.6" />
<line x1="423.3" y1="11.96" x2="422.5" y2="11.96" stroke="#222" stroke-width="0.6" />
<line x1="327.4" y1="120.5" x2="327.4" y2="122.5" stroke="#222" stroke-width="0.8" />
<line x1="327.4" y1="8.5" x2="327.4" y2="10" stroke="#222" stroke-width="0.8" />
<line x1="348.7" y1="120.5" x2="348.7" y2="122.5" stroke="#222" stroke-width="0.8" />
<line x1="348.7" y1="8.5" x2="348.7" y2="10" stroke="#222" stroke-width="0.8" />
<line x1="370" y1="120.5" x2="370" y2="122.5" stroke="#222" stroke-width="0.8" />
<line x1="370" y1="8.5" x2="370" y2="10" stroke="#222" stroke-width="0.8" />
<line x1="391.3" y1="120.5" x2="391.3" y2="122.5" stroke="#222" stroke-width="0.8" />
<line x1="391.3" y1="8.5" x2="391.3" y2="10" stroke="#222" stroke-width="0.8" />
<line x1="412.6" y1="120.5" x2="412.6" y2="122.5" stroke="#222" stroke-width="0.8" />
<line x1="412.6" y1="8.5" x2="412.6" y2="10" stroke="#222" stroke-width="0.8" />
<line x1="338.05" y1="120.5" x2="338.05" y2="121.7" stroke="#222" stroke-width="0.8" />
<line x1="338.05" y1="8.5" x2="338.05" y2="9.5" stroke="#222" stroke-width="0.8" />
<line x1="359.35" y1="120.5" x2="359.35" y2="121.7" stroke="#222" stroke-width="0.8" />
<line x1="359.35" y1="8.5" x2="359.35" y2="9.5" stroke="#222" stroke-width="0.8" />
<line x1="380.65" y1="120.5" x2="380.65" y2="121.7" stroke="#222" stroke-width="0.8" />
<line x1="380.65" y1="8.5" x2="380.65" y2="9.5" stroke="#222" stroke-width="0.8" />
<line x1="401.95" y1="120.5" x2="401.95" y2="121.7" stroke="#222" stroke-width="0.8" />
<line x1="401.95" y1="8.5" x2="401.95" y2="9.5" stroke="#222" stroke-width="0.8" />
<line x1="423.25" y1="120.5" x2="423.25" y2="121.7" stroke="#222" stroke-width="0.8" />
<line x1="423.25" y1="8.5" x2="423.25" y2="9.5" stroke="#222" stroke-width="0.8" />
<text x="315.1" y="122.64" font-size="8.5" text-anchor="end" font-weight="normal" fill="#000" >3</text>
<text x="315.1" y="106.81" font-size="8.5" text-anchor="end" font-weight="normal" fill="#000" >3.5</text>
<text x="315.1" y="90.98" font-size="8.5" text-anchor="end" font-weight="normal" fill="#000" >4</text>
<text x="315.1" y="75.15" font-size="8.5" text-anchor="end" font-weight="normal" fill="#000" >4.5</text>
<text x="315.1" y="57.94" font-size="8.5" text-anchor="end" font-weight="normal" fill="#000" >5</text>
<text x="315.1" y="42.64" font-size="8.5" text-anchor="end" font-weight="normal" fill="#000" >5.5</text>
<text x="315.1" y="27.24" font-size="8.5" text-anchor="end" font-weight="normal" fill="#000" >6</text>
<text x="315.1" y="11.83" font-size="8.5" text-anchor="end" font-weight="normal" fill="#000" >6.5</text>
<text x="327.4" y="130.4" font-size="8.5" text-anchor="middle" font-weight="normal" fill="#000" >3</text>
<text x="348.7" y="130.4" font-size="8.5" text-anchor="middle" font-weight="normal" fill="#000" >3.1</text>
<text x="370" y="130.4" font-size="8.5" text-anchor="middle" font-weight="normal" fill="#000" >3.2</text>
<text x="391.3" y="130.4" font-size="8.5" text-anchor="middle" font-weight="normal" fill="#000" >3.3</text>
<text x="412.6" y="130.4" font-size="8.5" text-anchor="middle" font-weight="normal" fill="#000" >3.4</text>
<text x="370" y="143" font-size="8.2" text-anchor="middle">T<tspan font-size="5" dy="-3">-1</tspan><tspan dy="3"> (10</tspan><tspan font-size="5" dy="-3">3</tspan><tspan dy="3"> K</tspan><tspan font-size="5" dy="-3">-1</tspan><tspan dy="3">)</tspan></text>
<text transform="translate(298.4,63.9) rotate(-90)" font-size="8.6" text-anchor="middle">ln(t<tspan font-size="5.6" dy="1.8">1/2</tspan><tspan dy="-1.8">)</tspan></text>
<rect x="316.5" y="8.5" width="16.2" height="14.1" fill="#000" stroke="none" stroke-width="1" />
<text x="324.6" y="20.05" font-size="12.5" text-anchor="middle" font-weight="bold" fill="#fff" style="stroke:#fff">E</text>
<text x="335.9" y="5.6" font-size="6.1" text-anchor="start" font-weight="normal" fill="#000"  class="s">Arrhenius plot for Fe<tspan dy="1.83" font-size="4.03">2</tspan><tspan dy="-1.83">P</tspan><tspan dy="1.83" font-size="4.03">2</tspan><tspan dy="-1.83">S</tspan><tspan dy="1.83" font-size="4.03">6</tspan></text>
<rect x="367.3" y="98.6" width="3.4" height="3.4" fill="#000" stroke="#000" stroke-width="0.8" />
<rect x="367.3" y="105.4" width="3.4" height="3.4" fill="#ccc" stroke="#777" stroke-width="0.8" />
<rect x="367.3" y="112.1" width="3.4" height="3.4" fill="#e4e4e4" stroke="#bbb" stroke-width="0.8" />
<text x="375.9" y="102.3" font-size="5.5" text-anchor="start" font-weight="normal" fill="#000"  class="s">Large (0.6-3k g)</text>
<text x="375.9" y="109.1" font-size="5.5" text-anchor="start" font-weight="normal" fill="#000"  class="s">Medium (3-10k g)</text>
<text x="375.9" y="115.8" font-size="5.5" text-anchor="start" font-weight="normal" fill="#000"  class="s">Small (10-50k g)</text>
<line x1="494" y1="12.2" x2="494" y2="29.3" stroke="#000" stroke-width="0.7" />
<line x1="492.8" y1="12.2" x2="495.2" y2="12.2" stroke="#000" stroke-width="0.7" />
<line x1="492.8" y1="29.3" x2="495.2" y2="29.3" stroke="#000" stroke-width="0.7" />
<line x1="522.4" y1="14.6" x2="522.4" y2="23.5" stroke="#000" stroke-width="0.7" />
<line x1="521.2" y1="14.6" x2="523.6" y2="14.6" stroke="#000" stroke-width="0.7" />
<line x1="521.2" y1="23.5" x2="523.6" y2="23.5" stroke="#000" stroke-width="0.7" />
<line x1="537.4" y1="13.6" x2="537.4" y2="31" stroke="#000" stroke-width="0.7" />
<line x1="536.2" y1="13.6" x2="538.6" y2="13.6" stroke="#000" stroke-width="0.7" />
<line x1="536.2" y1="31" x2="538.6" y2="31" stroke="#000" stroke-width="0.7" />
<line x1="527.1" y1="12.2" x2="527.1" y2="23.5" stroke="#f01010" stroke-width="0.7" />
<line x1="525.9" y1="12.2" x2="528.3" y2="12.2" stroke="#f01010" stroke-width="0.7" />
<line x1="525.9" y1="23.5" x2="528.3" y2="23.5" stroke="#f01010" stroke-width="0.7" />
<line x1="559" y1="54.5" x2="559" y2="70.3" stroke="#3a3af0" stroke-width="0.7" />
<line x1="557.8" y1="54.5" x2="560.2" y2="54.5" stroke="#3a3af0" stroke-width="0.7" />
<line x1="557.8" y1="70.3" x2="560.2" y2="70.3" stroke="#3a3af0" stroke-width="0.7" />
<rect x="492" y="18.7" width="4" height="4" fill="#000" stroke="#000" stroke-width="0" />
<rect x="520.4" y="16.8" width="4" height="4" fill="#000" stroke="#000" stroke-width="0" />
<rect x="535.4" y="20.3" width="4" height="4" fill="#000" stroke="#000" stroke-width="0" />
<circle cx="527.1" cy="18.1" r="2.5" fill="#f01010" stroke="none" stroke-width="0"/>
<circle cx="548.7" cy="38.3" r="2.5" fill="#f01010" stroke="none" stroke-width="0"/>
<path d="M536.3,66.33 L542.3,66.33 L539.3,61.14 Z" fill="#1010f0" stroke="none" stroke-width="0" stroke-linejoin="miter"/>
<path d="M556,64.73 L562,64.73 L559,59.54 Z" fill="#1010f0" stroke="none" stroke-width="0" stroke-linejoin="miter"/>
<path d="M513.8,112.93 L519.8,112.93 L516.8,107.74 Z" fill="#1010f0" stroke="none" stroke-width="0" stroke-linejoin="miter"/>
<rect x="464.5" y="8.5" width="109.3" height="112" fill="none" stroke="#222" stroke-width="1" />
<line x1="464.5" y1="9" x2="464.5" y2="120" stroke="#fff" stroke-width="1.05" />
<line x1="464.5" y1="9" x2="464.5" y2="120" stroke="#404040" stroke-width="1" />
<line x1="462.5" y1="115.75" x2="464.5" y2="115.75" stroke="#222" stroke-width="0.8" />
<line x1="573.8" y1="115.75" x2="572.3" y2="115.75" stroke="#222" stroke-width="0.8" />
<line x1="462.5" y1="94.4" x2="464.5" y2="94.4" stroke="#222" stroke-width="0.8" />
<line x1="573.8" y1="94.4" x2="572.3" y2="94.4" stroke="#222" stroke-width="0.8" />
<line x1="462.5" y1="73.05" x2="464.5" y2="73.05" stroke="#222" stroke-width="0.8" />
<line x1="573.8" y1="73.05" x2="572.3" y2="73.05" stroke="#222" stroke-width="0.8" />
<line x1="462.5" y1="51.7" x2="464.5" y2="51.7" stroke="#222" stroke-width="0.8" />
<line x1="573.8" y1="51.7" x2="572.3" y2="51.7" stroke="#222" stroke-width="0.8" />
<line x1="462.5" y1="30.35" x2="464.5" y2="30.35" stroke="#222" stroke-width="0.8" />
<line x1="573.8" y1="30.35" x2="572.3" y2="30.35" stroke="#222" stroke-width="0.8" />
<line x1="462.5" y1="9" x2="464.5" y2="9" stroke="#222" stroke-width="0.8" />
<line x1="573.8" y1="9" x2="572.3" y2="9" stroke="#222" stroke-width="0.8" />
<line x1="463.3" y1="105.07" x2="464.5" y2="105.07" stroke="#222" stroke-width="0.8" />
<line x1="573.8" y1="105.07" x2="572.8" y2="105.07" stroke="#222" stroke-width="0.8" />
<line x1="463.3" y1="83.72" x2="464.5" y2="83.72" stroke="#222" stroke-width="0.8" />
<line x1="573.8" y1="83.72" x2="572.8" y2="83.72" stroke="#222" stroke-width="0.8" />
<line x1="463.3" y1="62.37" x2="464.5" y2="62.37" stroke="#222" stroke-width="0.8" />
<line x1="573.8" y1="62.37" x2="572.8" y2="62.37" stroke="#222" stroke-width="0.8" />
<line x1="463.3" y1="41.02" x2="464.5" y2="41.02" stroke="#222" stroke-width="0.8" />
<line x1="573.8" y1="41.02" x2="572.8" y2="41.02" stroke="#222" stroke-width="0.8" />
<line x1="463.3" y1="19.67" x2="464.5" y2="19.67" stroke="#222" stroke-width="0.8" />
<line x1="573.8" y1="19.67" x2="572.8" y2="19.67" stroke="#222" stroke-width="0.8" />
<line x1="464.4" y1="120.5" x2="464.4" y2="122.5" stroke="#222" stroke-width="0.8" />
<line x1="464.4" y1="8.5" x2="464.4" y2="10.3" stroke="#222" stroke-width="0.8" />
<line x1="512.4" y1="120.5" x2="512.4" y2="122.5" stroke="#222" stroke-width="0.8" />
<line x1="512.4" y1="8.5" x2="512.4" y2="10.3" stroke="#222" stroke-width="0.8" />
<line x1="560.4" y1="120.5" x2="560.4" y2="122.5" stroke="#222" stroke-width="0.8" />
<line x1="560.4" y1="8.5" x2="560.4" y2="10.3" stroke="#222" stroke-width="0.8" />
<line x1="478.85" y1="120.5" x2="478.85" y2="121.7" stroke="#222" stroke-width="0.8" />
<line x1="478.85" y1="8.5" x2="478.85" y2="9.5" stroke="#222" stroke-width="0.8" />
<line x1="487.3" y1="120.5" x2="487.3" y2="121.7" stroke="#222" stroke-width="0.8" />
<line x1="487.3" y1="8.5" x2="487.3" y2="9.5" stroke="#222" stroke-width="0.8" />
<line x1="493.3" y1="120.5" x2="493.3" y2="121.7" stroke="#222" stroke-width="0.8" />
<line x1="493.3" y1="8.5" x2="493.3" y2="9.5" stroke="#222" stroke-width="0.8" />
<line x1="497.95" y1="120.5" x2="497.95" y2="121.7" stroke="#222" stroke-width="0.8" />
<line x1="497.95" y1="8.5" x2="497.95" y2="9.5" stroke="#222" stroke-width="0.8" />
<line x1="501.75" y1="120.5" x2="501.75" y2="121.7" stroke="#222" stroke-width="0.8" />
<line x1="501.75" y1="8.5" x2="501.75" y2="9.5" stroke="#222" stroke-width="0.8" />
<line x1="504.96" y1="120.5" x2="504.96" y2="121.7" stroke="#222" stroke-width="0.8" />
<line x1="504.96" y1="8.5" x2="504.96" y2="9.5" stroke="#222" stroke-width="0.8" />
<line x1="507.75" y1="120.5" x2="507.75" y2="121.7" stroke="#222" stroke-width="0.8" />
<line x1="507.75" y1="8.5" x2="507.75" y2="9.5" stroke="#222" stroke-width="0.8" />
<line x1="510.2" y1="120.5" x2="510.2" y2="121.7" stroke="#222" stroke-width="0.8" />
<line x1="510.2" y1="8.5" x2="510.2" y2="9.5" stroke="#222" stroke-width="0.8" />
<line x1="526.85" y1="120.5" x2="526.85" y2="121.7" stroke="#222" stroke-width="0.8" />
<line x1="526.85" y1="8.5" x2="526.85" y2="9.5" stroke="#222" stroke-width="0.8" />
<line x1="535.3" y1="120.5" x2="535.3" y2="121.7" stroke="#222" stroke-width="0.8" />
<line x1="535.3" y1="8.5" x2="535.3" y2="9.5" stroke="#222" stroke-width="0.8" />
<line x1="541.3" y1="120.5" x2="541.3" y2="121.7" stroke="#222" stroke-width="0.8" />
<line x1="541.3" y1="8.5" x2="541.3" y2="9.5" stroke="#222" stroke-width="0.8" />
<line x1="545.95" y1="120.5" x2="545.95" y2="121.7" stroke="#222" stroke-width="0.8" />
<line x1="545.95" y1="8.5" x2="545.95" y2="9.5" stroke="#222" stroke-width="0.8" />
<line x1="549.75" y1="120.5" x2="549.75" y2="121.7" stroke="#222" stroke-width="0.8" />
<line x1="549.75" y1="8.5" x2="549.75" y2="9.5" stroke="#222" stroke-width="0.8" />
<line x1="552.96" y1="120.5" x2="552.96" y2="121.7" stroke="#222" stroke-width="0.8" />
<line x1="552.96" y1="8.5" x2="552.96" y2="9.5" stroke="#222" stroke-width="0.8" />
<line x1="555.75" y1="120.5" x2="555.75" y2="121.7" stroke="#222" stroke-width="0.8" />
<line x1="555.75" y1="8.5" x2="555.75" y2="9.5" stroke="#222" stroke-width="0.8" />
<line x1="558.2" y1="120.5" x2="558.2" y2="121.7" stroke="#222" stroke-width="0.8" />
<line x1="558.2" y1="8.5" x2="558.2" y2="9.5" stroke="#222" stroke-width="0.8" />
<text x="461.6" y="118.79" font-size="8.5" text-anchor="end" font-weight="normal" fill="#000" >5</text>
<text x="461.6" y="97.44" font-size="8.5" text-anchor="end" font-weight="normal" fill="#000" >10</text>
<text x="461.6" y="76.09" font-size="8.5" text-anchor="end" font-weight="normal" fill="#000" >15</text>
<text x="461.6" y="54.74" font-size="8.5" text-anchor="end" font-weight="normal" fill="#000" >20</text>
<text x="461.6" y="33.39" font-size="8.5" text-anchor="end" font-weight="normal" fill="#000" >25</text>
<text x="461.6" y="12.04" font-size="8.5" text-anchor="end" font-weight="normal" fill="#000" >30</text>
<text x="464.4" y="131.6" font-size="8" text-anchor="middle">10<tspan font-size="5" dy="-3.2">-3</tspan></text>
<text x="512.4" y="131.6" font-size="8" text-anchor="middle">10<tspan font-size="5" dy="-3.2">-2</tspan></text>
<text x="560.4" y="131.6" font-size="8" text-anchor="middle">10<tspan font-size="5" dy="-3.2">-1</tspan></text>
<text x="519.6" y="143" font-size="8.2" text-anchor="middle">Mean Area, &lt;L·W&gt; (nm<tspan font-size="5" dy="-3">2</tspan><tspan dy="3">)</tspan></text>
<text transform="translate(442.2,101.6) rotate(-90)" font-size="8.2">E<tspan font-size="5.2" dy="1.8">A</tspan><tspan font-size="5" dy="-5.2">(Degradation)</tspan><tspan dy="3.4"> (kJ/mol)</tspan></text>
<rect x="464.5" y="8.5" width="16" height="14" fill="#000" stroke="none" stroke-width="1" />
<text x="472.5" y="20" font-size="12.5" text-anchor="middle" font-weight="bold" fill="#fff" style="stroke:#fff">G</text>
<rect x="469.2" y="96.3" width="4" height="4" fill="#000" stroke="#000" stroke-width="0" />
<circle cx="471.1" cy="106.3" r="2.5" fill="#f01010" stroke="none" stroke-width="0"/>
<path d="M468,115.79 L474.2,115.79 L471.1,110.42 Z" fill="#1010f0" stroke="none" stroke-width="0" stroke-linejoin="miter"/>
<text x="478.9" y="100.6" font-size="6" text-anchor="start" font-weight="normal" fill="#000"  class="s">Fe<tspan dy="1.8" font-size="3.96">2</tspan><tspan dy="-1.8">P</tspan><tspan dy="1.8" font-size="3.96">2</tspan><tspan dy="-1.8">S</tspan><tspan dy="1.8" font-size="3.96">6</tspan></text>
<text x="478.9" y="108.4" font-size="6" text-anchor="start" font-weight="normal" fill="#000"  class="s">Ni<tspan dy="1.8" font-size="3.96">2</tspan><tspan dy="-1.8">P</tspan><tspan dy="1.8" font-size="3.96">2</tspan><tspan dy="-1.8">S</tspan><tspan dy="1.8" font-size="3.96">6</tspan></text>
<text x="478.9" y="116.1" font-size="6" text-anchor="start" font-weight="normal" fill="#000"  class="s">Mn<tspan dy="1.8" font-size="3.96">2</tspan><tspan dy="-1.8">P</tspan><tspan dy="1.8" font-size="3.96">2</tspan><tspan dy="-1.8">S</tspan><tspan dy="1.8" font-size="3.96">6</tspan></text>
<path d="M22.6,180.39 L23,182.55 L23.4,184.7 L23.8,186.86 L24.2,189.02 L24.6,191.18 L25,193.33 L25.4,195.46 L25.8,197.59 L26.2,199.71 L26.6,201.84 L27,203.96 L27.4,206.09 L27.8,208.21 L28.2,210.41 L28.6,212.66 L29,214.92 L29.4,217.18 L29.8,219.44 L30.2,221.7 L30.6,223.95 L31,226.21 L31.4,228.67 L31.8,231.09 L32.2,233.51 L32.6,235.75 L33,237.46 L33.4,239.26 L33.8,241.06 L34.2,242.47 L34.6,243.49 L35,244.37 L35.4,245.22 L35.8,246.06 L36.2,246.91 L36.6,247.66 L37,248.13 L37.4,248.56 L37.8,248.96 L38.2,249.37 L38.6,249.77 L39,250.17 L39.4,250.57 L39.8,250.98 L40.2,251.17 L40.6,251.36 L41,251.55 L41.4,251.75 L41.8,251.94 L42.2,252.13 L42.6,252.32 L43,252.51 L43.4,252.7 L43.8,252.88 L44.2,253.07 L44.6,253.25 L45,253.43 L45.4,253.62 L45.8,253.8 L46.2,253.95 L46.6,254.07 L47,254.2 L47.4,254.32 L47.8,254.44 L48.2,254.56 L48.6,254.68 L49,254.8 L49.4,254.92 L49.8,255.04 L50.2,255.17 L50.6,255.29 L51,255.41 L51.4,255.53 L51.8,255.66 L52.2,255.79 L52.6,255.92 L53,256.05 L53.4,256.19 L53.8,256.34 L54.2,256.49 L54.6,256.63 L55,256.78 L55.4,256.93 L55.8,257.08 L56.2,257.23 L56.6,257.38 L57,257.53 L57.4,257.68 L57.8,257.83 L58.2,257.98 L58.6,258.14 L59,258.29 L59.4,258.44 L59.8,258.59 L60.2,258.74 L60.6,258.89 L61,259.04 L61.4,259.19 L61.8,259.34 L62.2,259.49 L62.6,259.64 L63,259.77 L63.4,259.87 L63.8,259.97 L64.2,260.07 L64.6,260.17 L65,260.27 L65.4,260.37 L65.8,260.47 L66.2,260.57 L66.6,260.66 L67,260.75 L67.4,260.84 L67.8,260.93 L68.2,261.02 L68.6,261.11 L69,261.2 L69.4,261.29 L69.8,261.38 L70.2,261.46 L70.6,261.54 L71,261.62 L71.4,261.7 L71.8,261.79 L72.2,261.86 L72.6,261.93 L73,261.99 L73.4,262.06 L73.8,262.13 L74.2,262.19 L74.6,262.26 L75,262.33 L75.4,262.39 L75.8,262.46 L76.2,262.52 L76.6,262.59 L77,262.65 L77.4,262.71 L77.8,262.77 L78.2,262.83 L78.6,262.9 L79,262.96 L79.4,263.02 L79.8,263.08 L80.2,263.14 L80.6,263.21 L81,263.27 L81.4,263.33 L81.8,263.39 L82.2,263.46 L82.6,263.52 L83,263.58 L83.4,263.64 L83.8,263.7 L84.2,263.77 L84.6,263.83 L85,263.89 L85.4,263.95 L85.8,264.01 L86.2,264.08 L86.6,264.14 L87,264.2 L87.4,264.26 L87.8,264.32 L88.2,264.38 L88.6,264.43 L89,264.49 L89.4,264.54 L89.8,264.6 L90.2,264.65 L90.6,264.71 L91,264.76 L91.4,264.82 L91.8,264.87 L92.2,264.92 L92.6,264.98 L93,265.03 L93.4,265.09 L93.8,265.14 L94.2,265.2 L94.6,265.25 L95,265.31 L95.4,265.36 L95.8,265.42 L96.2,265.47 L96.6,265.53 L97,265.58 L97.4,265.64 L97.8,265.69 L98.2,265.75 L98.6,265.8 L99,265.86 L99.4,265.91 L99.8,265.97 L100.2,266.02 L100.6,266.08 L101,266.1 L101.4,266.11 L101.8,266.13 L102.2,266.15 L102.6,266.17 L103,266.18 L103.4,266.2 L103.8,266.22 L104.2,266.24 L104.6,266.25 L105,266.27 L105.4,266.29 L105.8,266.31 L106.2,266.32 L106.6,266.34 L107,266.36 L107.4,266.38 L107.8,266.39 L108.2,266.41 L108.6,266.43 L109,266.45 L109.4,266.46 L109.8,266.48 L110.2,266.5 L110.6,266.52 L111,266.54 L111.4,266.55 L111.8,266.57 L112.2,266.59 L112.6,266.61 L113,266.62 L113.4,266.64 L113.8,266.66 L114.2,266.68 L114.6,266.69 L115,266.71 L115.4,266.73 L115.8,266.75 L116.2,266.76 L116.6,266.78 L117,266.8 L117.4,266.82 L117.8,266.83 L118.2,266.85 L118.6,266.87 L119,266.89 L119.4,266.9 L119.8,266.92 L120.2,266.94 L120.6,266.96 L121,266.98 L121.4,266.99 L121.8,267.01 L122.2,267.03 L122.6,267.05 L123,267.06 L123.4,267.08 L123.8,267.1 L124.2,267.12 L124.6,267.13 L125,267.15 L125.4,267.17 L125.8,267.19 L126.2,267.2 L126.6,267.22 L127,267.24 L127.4,267.26 L127.8,267.27 L128.2,267.29 L128.6,267.31 L129,267.33 L129.4,267.34" fill="none" stroke="#40762e" stroke-width="1.15" />
<path d="M22.6,180.28 L23,182.43 L23.4,184.57 L23.8,186.72 L24.2,188.87 L24.6,191.02 L25,193.17 L25.4,195.29 L25.8,197.4 L26.2,199.52 L26.6,201.64 L27,203.76 L27.4,205.88 L27.8,208 L28.2,210.18 L28.6,212.43 L29,214.68 L29.4,216.93 L29.8,219.18 L30.2,221.43 L30.6,223.67 L31,225.92 L31.4,228.3 L31.8,230.61 L32.2,232.92 L32.6,235.07 L33,236.75 L33.4,238.62 L33.8,240.49 L34.2,242.02 L34.6,243.2 L35,244.13 L35.4,244.97 L35.8,245.81 L36.2,246.65 L36.6,247.41 L37,247.92 L37.4,248.37 L37.8,248.75 L38.2,249.13 L38.6,249.51 L39,249.89 L39.4,250.27 L39.8,250.66 L40.2,250.85 L40.6,251.05 L41,251.25 L41.4,251.44 L41.8,251.64 L42.2,251.84 L42.6,252.03 L43,252.23 L43.4,252.41 L43.8,252.59 L44.2,252.77 L44.6,252.95 L45,253.14 L45.4,253.32 L45.8,253.5 L46.2,253.65 L46.6,253.78 L47,253.9 L47.4,254.03 L47.8,254.15 L48.2,254.28 L48.6,254.4 L49,254.53 L49.4,254.65 L49.8,254.78 L50.2,254.91 L50.6,255.03 L51,255.16 L51.4,255.28 L51.8,255.42 L52.2,255.57 L52.6,255.71 L53,255.85 L53.4,256.01 L53.8,256.17 L54.2,256.33 L54.6,256.49 L55,256.65 L55.4,256.81 L55.8,256.97 L56.2,257.13 L56.6,257.29 L57,257.46 L57.4,257.62 L57.8,257.79 L58.2,257.95 L58.6,258.12 L59,258.28 L59.4,258.44 L59.8,258.61 L60.2,258.77 L60.6,258.94 L61,259.1 L61.4,259.26 L61.8,259.43 L62.2,259.59 L62.6,259.75 L63,259.89 L63.4,260.01 L63.8,260.13 L64.2,260.25 L64.6,260.36 L65,260.48 L65.4,260.6 L65.8,260.72 L66.2,260.83 L66.6,260.93 L67,261.02 L67.4,261.12 L67.8,261.22 L68.2,261.32 L68.6,261.41 L69,261.51 L69.4,261.61 L69.8,261.71 L70.2,261.8 L70.6,261.88 L71,261.95 L71.4,262.03 L71.8,262.11 L72.2,262.19 L72.6,262.25 L73,262.32 L73.4,262.39 L73.8,262.45 L74.2,262.52 L74.6,262.59 L75,262.65 L75.4,262.72 L75.8,262.79 L76.2,262.85 L76.6,262.9 L77,262.96 L77.4,263.02 L77.8,263.08 L78.2,263.14 L78.6,263.19 L79,263.25 L79.4,263.31 L79.8,263.37 L80.2,263.42 L80.6,263.48 L81,263.54 L81.4,263.6 L81.8,263.65 L82.2,263.71 L82.6,263.77 L83,263.83 L83.4,263.88 L83.8,263.94 L84.2,264 L84.6,264.06 L85,264.11 L85.4,264.17 L85.8,264.23 L86.2,264.29 L86.6,264.34 L87,264.4 L87.4,264.46 L87.8,264.51 L88.2,264.56 L88.6,264.62 L89,264.67 L89.4,264.72 L89.8,264.77 L90.2,264.82 L90.6,264.87 L91,264.92 L91.4,264.97 L91.8,265.03 L92.2,265.08 L92.6,265.13 L93,265.18 L93.4,265.23 L93.8,265.28 L94.2,265.33 L94.6,265.39 L95,265.44 L95.4,265.49 L95.8,265.54 L96.2,265.59 L96.6,265.64 L97,265.69 L97.4,265.74 L97.8,265.8 L98.2,265.85 L98.6,265.9 L99,265.95 L99.4,266 L99.8,266.05 L100.2,266.1 L100.6,266.16 L101,266.17 L101.4,266.19 L101.8,266.21 L102.2,266.22 L102.6,266.24 L103,266.26 L103.4,266.28 L103.8,266.29 L104.2,266.31 L104.6,266.33 L105,266.34 L105.4,266.36 L105.8,266.38 L106.2,266.4 L106.6,266.41 L107,266.43 L107.4,266.45 L107.8,266.46 L108.2,266.48 L108.6,266.5 L109,266.52 L109.4,266.53 L109.8,266.55 L110.2,266.57 L110.6,266.58 L111,266.6 L111.4,266.62 L111.8,266.64 L112.2,266.65 L112.6,266.67 L113,266.69 L113.4,266.7 L113.8,266.72 L114.2,266.74 L114.6,266.76 L115,266.77 L115.4,266.79 L115.8,266.81 L116.2,266.82 L116.6,266.84 L117,266.86 L117.4,266.88 L117.8,266.89 L118.2,266.91 L118.6,266.93 L119,266.94 L119.4,266.96 L119.8,266.98 L120.2,266.99 L120.6,267.01 L121,267.03 L121.4,267.05 L121.8,267.06 L122.2,267.08 L122.6,267.1 L123,267.11 L123.4,267.13 L123.8,267.15 L124.2,267.17 L124.6,267.18 L125,267.2 L125.4,267.22 L125.8,267.23 L126.2,267.25 L126.6,267.27 L127,267.29 L127.4,267.3 L127.8,267.32 L128.2,267.34 L128.6,267.35 L129,267.37 L129.4,267.39" fill="none" stroke="#5d8c32" stroke-width="1.15" />
<path d="M22.6,180.17 L23,182.31 L23.4,184.44 L23.8,186.58 L24.2,188.72 L24.6,190.86 L25,193 L25.4,195.11 L25.8,197.22 L26.2,199.33 L26.6,201.44 L27,203.56 L27.4,205.67 L27.8,207.78 L28.2,209.95 L28.6,212.19 L29,214.43 L29.4,216.67 L29.8,218.91 L30.2,221.15 L30.6,223.4 L31,225.64 L31.4,227.94 L31.8,230.13 L32.2,232.33 L32.6,234.39 L33,236.04 L33.4,237.98 L33.8,239.92 L34.2,241.57 L34.6,242.92 L35,243.88 L35.4,244.72 L35.8,245.56 L36.2,246.4 L36.6,247.16 L37,247.72 L37.4,248.17 L37.8,248.53 L38.2,248.89 L38.6,249.25 L39,249.61 L39.4,249.97 L39.8,250.33 L40.2,250.53 L40.6,250.74 L41,250.94 L41.4,251.14 L41.8,251.34 L42.2,251.54 L42.6,251.74 L43,251.95 L43.4,252.13 L43.8,252.31 L44.2,252.48 L44.6,252.66 L45,252.84 L45.4,253.01 L45.8,253.19 L46.2,253.34 L46.6,253.47 L47,253.61 L47.4,253.74 L47.8,253.87 L48.2,254 L48.6,254.13 L49,254.26 L49.4,254.39 L49.8,254.52 L50.2,254.65 L50.6,254.78 L51,254.91 L51.4,255.04 L51.8,255.19 L52.2,255.35 L52.6,255.5 L53,255.66 L53.4,255.83 L53.8,256 L54.2,256.17 L54.6,256.34 L55,256.51 L55.4,256.68 L55.8,256.86 L56.2,257.03 L56.6,257.21 L57,257.39 L57.4,257.56 L57.8,257.74 L58.2,257.92 L58.6,258.09 L59,258.27 L59.4,258.45 L59.8,258.63 L60.2,258.8 L60.6,258.98 L61,259.16 L61.4,259.34 L61.8,259.51 L62.2,259.69 L62.6,259.86 L63,260.01 L63.4,260.15 L63.8,260.29 L64.2,260.42 L64.6,260.56 L65,260.7 L65.4,260.84 L65.8,260.97 L66.2,261.09 L66.6,261.2 L67,261.3 L67.4,261.41 L67.8,261.51 L68.2,261.62 L68.6,261.72 L69,261.83 L69.4,261.93 L69.8,262.04 L70.2,262.13 L70.6,262.21 L71,262.28 L71.4,262.36 L71.8,262.44 L72.2,262.51 L72.6,262.58 L73,262.64 L73.4,262.71 L73.8,262.78 L74.2,262.84 L74.6,262.91 L75,262.98 L75.4,263.04 L75.8,263.11 L76.2,263.17 L76.6,263.22 L77,263.28 L77.4,263.33 L77.8,263.38 L78.2,263.44 L78.6,263.49 L79,263.54 L79.4,263.6 L79.8,263.65 L80.2,263.7 L80.6,263.75 L81,263.81 L81.4,263.86 L81.8,263.91 L82.2,263.97 L82.6,264.02 L83,264.07 L83.4,264.13 L83.8,264.18 L84.2,264.23 L84.6,264.28 L85,264.34 L85.4,264.39 L85.8,264.44 L86.2,264.5 L86.6,264.55 L87,264.6 L87.4,264.66 L87.8,264.71 L88.2,264.75 L88.6,264.8 L89,264.85 L89.4,264.9 L89.8,264.94 L90.2,264.99 L90.6,265.04 L91,265.09 L91.4,265.13 L91.8,265.18 L92.2,265.23 L92.6,265.28 L93,265.33 L93.4,265.37 L93.8,265.42 L94.2,265.47 L94.6,265.52 L95,265.56 L95.4,265.61 L95.8,265.66 L96.2,265.71 L96.6,265.76 L97,265.8 L97.4,265.85 L97.8,265.9 L98.2,265.95 L98.6,265.99 L99,266.04 L99.4,266.09 L99.8,266.14 L100.2,266.19 L100.6,266.23 L101,266.25 L101.4,266.27 L101.8,266.28 L102.2,266.3 L102.6,266.32 L103,266.33 L103.4,266.35 L103.8,266.37 L104.2,266.38 L104.6,266.4 L105,266.42 L105.4,266.43 L105.8,266.45 L106.2,266.47 L106.6,266.48 L107,266.5 L107.4,266.52 L107.8,266.53 L108.2,266.55 L108.6,266.57 L109,266.58 L109.4,266.6 L109.8,266.62 L110.2,266.63 L110.6,266.65 L111,266.67 L111.4,266.68 L111.8,266.7 L112.2,266.72 L112.6,266.73 L113,266.75 L113.4,266.77 L113.8,266.78 L114.2,266.8 L114.6,266.82 L115,266.83 L115.4,266.85 L115.8,266.87 L116.2,266.88 L116.6,266.9 L117,266.92 L117.4,266.93 L117.8,266.95 L118.2,266.97 L118.6,266.98 L119,267 L119.4,267.02 L119.8,267.03 L120.2,267.05 L120.6,267.07 L121,267.08 L121.4,267.1 L121.8,267.12 L122.2,267.13 L122.6,267.15 L123,267.17 L123.4,267.18 L123.8,267.2 L124.2,267.22 L124.6,267.23 L125,267.25 L125.4,267.27 L125.8,267.28 L126.2,267.3 L126.6,267.32 L127,267.33 L127.4,267.35 L127.8,267.37 L128.2,267.38 L128.6,267.4 L129,267.42 L129.4,267.43" fill="none" stroke="#7fa134" stroke-width="1.15" />
<path d="M22.6,180.06 L23,182.19 L23.4,184.31 L23.8,186.44 L24.2,188.57 L24.6,190.7 L25,192.83 L25.4,194.94 L25.8,197.04 L26.2,199.14 L26.6,201.25 L27,203.35 L27.4,205.46 L27.8,207.56 L28.2,209.73 L28.6,211.96 L29,214.19 L29.4,216.42 L29.8,218.65 L30.2,220.88 L30.6,223.12 L31,225.35 L31.4,227.58 L31.8,229.66 L32.2,231.73 L32.6,233.7 L33,235.34 L33.4,237.35 L33.8,239.35 L34.2,241.12 L34.6,242.63 L35,243.64 L35.4,244.47 L35.8,245.31 L36.2,246.14 L36.6,246.91 L37,247.51 L37.4,247.98 L37.8,248.32 L38.2,248.66 L38.6,249 L39,249.33 L39.4,249.67 L39.8,250.01 L40.2,250.22 L40.6,250.42 L41,250.63 L41.4,250.84 L41.8,251.04 L42.2,251.25 L42.6,251.46 L43,251.66 L43.4,251.84 L43.8,252.02 L44.2,252.19 L44.6,252.36 L45,252.54 L45.4,252.71 L45.8,252.89 L46.2,253.04 L46.6,253.18 L47,253.31 L47.4,253.44 L47.8,253.58 L48.2,253.71 L48.6,253.85 L49,253.98 L49.4,254.12 L49.8,254.25 L50.2,254.39 L50.6,254.52 L51,254.66 L51.4,254.79 L51.8,254.95 L52.2,255.12 L52.6,255.3 L53,255.47 L53.4,255.64 L53.8,255.83 L54.2,256.01 L54.6,256.19 L55,256.38 L55.4,256.56 L55.8,256.74 L56.2,256.93 L56.6,257.12 L57,257.31 L57.4,257.5 L57.8,257.69 L58.2,257.88 L58.6,258.07 L59,258.26 L59.4,258.46 L59.8,258.65 L60.2,258.84 L60.6,259.03 L61,259.22 L61.4,259.41 L61.8,259.6 L62.2,259.78 L62.6,259.97 L63,260.14 L63.4,260.29 L63.8,260.45 L64.2,260.6 L64.6,260.76 L65,260.91 L65.4,261.07 L65.8,261.22 L66.2,261.36 L66.6,261.47 L67,261.58 L67.4,261.69 L67.8,261.81 L68.2,261.92 L68.6,262.03 L69,262.14 L69.4,262.26 L69.8,262.37 L70.2,262.46 L70.6,262.54 L71,262.61 L71.4,262.69 L71.8,262.77 L72.2,262.84 L72.6,262.9 L73,262.97 L73.4,263.04 L73.8,263.1 L74.2,263.17 L74.6,263.24 L75,263.3 L75.4,263.37 L75.8,263.44 L76.2,263.49 L76.6,263.54 L77,263.59 L77.4,263.64 L77.8,263.69 L78.2,263.74 L78.6,263.79 L79,263.83 L79.4,263.88 L79.8,263.93 L80.2,263.98 L80.6,264.03 L81,264.08 L81.4,264.12 L81.8,264.17 L82.2,264.22 L82.6,264.27 L83,264.32 L83.4,264.37 L83.8,264.42 L84.2,264.46 L84.6,264.51 L85,264.56 L85.4,264.61 L85.8,264.66 L86.2,264.71 L86.6,264.75 L87,264.8 L87.4,264.85 L87.8,264.9 L88.2,264.94 L88.6,264.99 L89,265.03 L89.4,265.07 L89.8,265.12 L90.2,265.16 L90.6,265.21 L91,265.25 L91.4,265.29 L91.8,265.34 L92.2,265.38 L92.6,265.43 L93,265.47 L93.4,265.52 L93.8,265.56 L94.2,265.6 L94.6,265.65 L95,265.69 L95.4,265.74 L95.8,265.78 L96.2,265.82 L96.6,265.87 L97,265.91 L97.4,265.96 L97.8,266 L98.2,266.05 L98.6,266.09 L99,266.13 L99.4,266.18 L99.8,266.22 L100.2,266.27 L100.6,266.31 L101,266.33 L101.4,266.34 L101.8,266.36 L102.2,266.38 L102.6,266.39 L103,266.41 L103.4,266.42 L103.8,266.44 L104.2,266.46 L104.6,266.47 L105,266.49 L105.4,266.51 L105.8,266.52 L106.2,266.54 L106.6,266.55 L107,266.57 L107.4,266.59 L107.8,266.6 L108.2,266.62 L108.6,266.64 L109,266.65 L109.4,266.67 L109.8,266.68 L110.2,266.7 L110.6,266.72 L111,266.73 L111.4,266.75 L111.8,266.76 L112.2,266.78 L112.6,266.8 L113,266.81 L113.4,266.83 L113.8,266.85 L114.2,266.86 L114.6,266.88 L115,266.89 L115.4,266.91 L115.8,266.93 L116.2,266.94 L116.6,266.96 L117,266.98 L117.4,266.99 L117.8,267.01 L118.2,267.02 L118.6,267.04 L119,267.06 L119.4,267.07 L119.8,267.09 L120.2,267.11 L120.6,267.12 L121,267.14 L121.4,267.15 L121.8,267.17 L122.2,267.19 L122.6,267.2 L123,267.22 L123.4,267.23 L123.8,267.25 L124.2,267.27 L124.6,267.28 L125,267.3 L125.4,267.32 L125.8,267.33 L126.2,267.35 L126.6,267.36 L127,267.38 L127.4,267.4 L127.8,267.41 L128.2,267.43 L128.6,267.45 L129,267.46 L129.4,267.48" fill="none" stroke="#acb431" stroke-width="1.15" />
<path d="M22.6,179.94 L23,182.06 L23.4,184.19 L23.8,186.31 L24.2,188.43 L24.6,190.55 L25,192.67 L25.4,194.76 L25.8,196.86 L26.2,198.96 L26.6,201.05 L27,203.15 L27.4,205.24 L27.8,207.34 L28.2,209.5 L28.6,211.72 L29,213.95 L29.4,216.17 L29.8,218.39 L30.2,220.61 L30.6,222.84 L31,225.06 L31.4,227.21 L31.8,229.18 L32.2,231.14 L32.6,233.02 L33,234.63 L33.4,236.71 L33.8,238.78 L34.2,240.67 L34.6,242.35 L35,243.39 L35.4,244.22 L35.8,245.05 L36.2,245.88 L36.6,246.67 L37,247.31 L37.4,247.79 L37.8,248.1 L38.2,248.42 L38.6,248.74 L39,249.05 L39.4,249.37 L39.8,249.69 L40.2,249.9 L40.6,250.11 L41,250.32 L41.4,250.53 L41.8,250.74 L42.2,250.96 L42.6,251.17 L43,251.38 L43.4,251.56 L43.8,251.73 L44.2,251.9 L44.6,252.07 L45,252.24 L45.4,252.41 L45.8,252.58 L46.2,252.74 L46.6,252.88 L47,253.01 L47.4,253.15 L47.8,253.29 L48.2,253.43 L48.6,253.57 L49,253.71 L49.4,253.85 L49.8,253.99 L50.2,254.13 L50.6,254.27 L51,254.41 L51.4,254.54 L51.8,254.72 L52.2,254.9 L52.6,255.09 L53,255.27 L53.4,255.46 L53.8,255.66 L54.2,255.85 L54.6,256.05 L55,256.24 L55.4,256.44 L55.8,256.63 L56.2,256.83 L56.6,257.03 L57,257.24 L57.4,257.44 L57.8,257.65 L58.2,257.85 L58.6,258.05 L59,258.26 L59.4,258.46 L59.8,258.67 L60.2,258.87 L60.6,259.07 L61,259.28 L61.4,259.48 L61.8,259.68 L62.2,259.88 L62.6,260.08 L63,260.26 L63.4,260.44 L63.8,260.61 L64.2,260.78 L64.6,260.95 L65,261.13 L65.4,261.3 L65.8,261.47 L66.2,261.62 L66.6,261.74 L67,261.86 L67.4,261.98 L67.8,262.1 L68.2,262.22 L68.6,262.34 L69,262.46 L69.4,262.58 L69.8,262.7 L70.2,262.8 L70.6,262.87 L71,262.95 L71.4,263.02 L71.8,263.09 L72.2,263.16 L72.6,263.23 L73,263.3 L73.4,263.36 L73.8,263.43 L74.2,263.5 L74.6,263.56 L75,263.63 L75.4,263.7 L75.8,263.76 L76.2,263.82 L76.6,263.86 L77,263.91 L77.4,263.95 L77.8,263.99 L78.2,264.04 L78.6,264.08 L79,264.13 L79.4,264.17 L79.8,264.21 L80.2,264.26 L80.6,264.3 L81,264.35 L81.4,264.39 L81.8,264.43 L82.2,264.48 L82.6,264.52 L83,264.56 L83.4,264.61 L83.8,264.65 L84.2,264.7 L84.6,264.74 L85,264.78 L85.4,264.83 L85.8,264.87 L86.2,264.92 L86.6,264.96 L87,265 L87.4,265.05 L87.8,265.09 L88.2,265.13 L88.6,265.17 L89,265.21 L89.4,265.25 L89.8,265.29 L90.2,265.33 L90.6,265.37 L91,265.41 L91.4,265.45 L91.8,265.49 L92.2,265.54 L92.6,265.58 L93,265.62 L93.4,265.66 L93.8,265.7 L94.2,265.74 L94.6,265.78 L95,265.82 L95.4,265.86 L95.8,265.9 L96.2,265.94 L96.6,265.98 L97,266.02 L97.4,266.06 L97.8,266.1 L98.2,266.14 L98.6,266.19 L99,266.23 L99.4,266.27 L99.8,266.31 L100.2,266.35 L100.6,266.39 L101,266.4 L101.4,266.42 L101.8,266.44 L102.2,266.45 L102.6,266.47 L103,266.48 L103.4,266.5 L103.8,266.51 L104.2,266.53 L104.6,266.55 L105,266.56 L105.4,266.58 L105.8,266.59 L106.2,266.61 L106.6,266.62 L107,266.64 L107.4,266.66 L107.8,266.67 L108.2,266.69 L108.6,266.7 L109,266.72 L109.4,266.74 L109.8,266.75 L110.2,266.77 L110.6,266.78 L111,266.8 L111.4,266.81 L111.8,266.83 L112.2,266.85 L112.6,266.86 L113,266.88 L113.4,266.89 L113.8,266.91 L114.2,266.92 L114.6,266.94 L115,266.96 L115.4,266.97 L115.8,266.99 L116.2,267 L116.6,267.02 L117,267.03 L117.4,267.05 L117.8,267.07 L118.2,267.08 L118.6,267.1 L119,267.11 L119.4,267.13 L119.8,267.14 L120.2,267.16 L120.6,267.18 L121,267.19 L121.4,267.21 L121.8,267.22 L122.2,267.24 L122.6,267.25 L123,267.27 L123.4,267.29 L123.8,267.3 L124.2,267.32 L124.6,267.33 L125,267.35 L125.4,267.36 L125.8,267.38 L126.2,267.4 L126.6,267.41 L127,267.43 L127.4,267.44 L127.8,267.46 L128.2,267.47 L128.6,267.49 L129,267.51 L129.4,267.52" fill="none" stroke="#d6c22e" stroke-width="1.15" />
<path d="M22.6,179.83 L23,181.94 L23.4,184.06 L23.8,186.17 L24.2,188.28 L24.6,190.39 L25,192.5 L25.4,194.59 L25.8,196.68 L26.2,198.77 L26.6,200.86 L27,202.94 L27.4,205.03 L27.8,207.12 L28.2,209.27 L28.6,211.49 L29,213.7 L29.4,215.92 L29.8,218.13 L30.2,220.34 L30.6,222.56 L31,224.77 L31.4,226.85 L31.8,228.7 L32.2,230.55 L32.6,232.34 L33,233.92 L33.4,236.07 L33.8,238.22 L34.2,240.21 L34.6,242.07 L35,243.15 L35.4,243.97 L35.8,244.8 L36.2,245.63 L36.6,246.42 L37,247.1 L37.4,247.6 L37.8,247.89 L38.2,248.19 L38.6,248.48 L39,248.78 L39.4,249.07 L39.8,249.37 L40.2,249.58 L40.6,249.8 L41,250.01 L41.4,250.23 L41.8,250.45 L42.2,250.66 L42.6,250.88 L43,251.09 L43.4,251.27 L43.8,251.44 L44.2,251.61 L44.6,251.77 L45,251.94 L45.4,252.11 L45.8,252.28 L46.2,252.43 L46.6,252.58 L47,252.72 L47.4,252.86 L47.8,253.01 L48.2,253.15 L48.6,253.29 L49,253.44 L49.4,253.58 L49.8,253.72 L50.2,253.87 L50.6,254.01 L51,254.16 L51.4,254.3 L51.8,254.48 L52.2,254.68 L52.6,254.88 L53,255.08 L53.4,255.28 L53.8,255.49 L54.2,255.69 L54.6,255.9 L55,256.11 L55.4,256.31 L55.8,256.52 L56.2,256.73 L56.6,256.95 L57,257.16 L57.4,257.38 L57.8,257.6 L58.2,257.82 L58.6,258.03 L59,258.25 L59.4,258.47 L59.8,258.68 L60.2,258.9 L60.6,259.12 L61,259.34 L61.4,259.55 L61.8,259.77 L62.2,259.98 L62.6,260.19 L63,260.39 L63.4,260.58 L63.8,260.77 L64.2,260.96 L64.6,261.15 L65,261.34 L65.4,261.53 L65.8,261.72 L66.2,261.88 L66.6,262.01 L67,262.14 L67.4,262.27 L67.8,262.39 L68.2,262.52 L68.6,262.65 L69,262.78 L69.4,262.9 L69.8,263.03 L70.2,263.13 L70.6,263.2 L71,263.28 L71.4,263.35 L71.8,263.42 L72.2,263.49 L72.6,263.56 L73,263.62 L73.4,263.69 L73.8,263.76 L74.2,263.82 L74.6,263.89 L75,263.96 L75.4,264.02 L75.8,264.09 L76.2,264.14 L76.6,264.18 L77,264.22 L77.4,264.26 L77.8,264.3 L78.2,264.34 L78.6,264.38 L79,264.42 L79.4,264.46 L79.8,264.5 L80.2,264.54 L80.6,264.57 L81,264.61 L81.4,264.65 L81.8,264.69 L82.2,264.73 L82.6,264.77 L83,264.81 L83.4,264.85 L83.8,264.89 L84.2,264.93 L84.6,264.97 L85,265.01 L85.4,265.05 L85.8,265.09 L86.2,265.13 L86.6,265.17 L87,265.2 L87.4,265.24 L87.8,265.28 L88.2,265.32 L88.6,265.36 L89,265.39 L89.4,265.43 L89.8,265.47 L90.2,265.5 L90.6,265.54 L91,265.58 L91.4,265.61 L91.8,265.65 L92.2,265.69 L92.6,265.72 L93,265.76 L93.4,265.8 L93.8,265.84 L94.2,265.87 L94.6,265.91 L95,265.95 L95.4,265.98 L95.8,266.02 L96.2,266.06 L96.6,266.1 L97,266.13 L97.4,266.17 L97.8,266.21 L98.2,266.24 L98.6,266.28 L99,266.32 L99.4,266.36 L99.8,266.39 L100.2,266.43 L100.6,266.47 L101,266.48 L101.4,266.5 L101.8,266.51 L102.2,266.53 L102.6,266.54 L103,266.56 L103.4,266.57 L103.8,266.59 L104.2,266.6 L104.6,266.62 L105,266.63 L105.4,266.65 L105.8,266.67 L106.2,266.68 L106.6,266.7 L107,266.71 L107.4,266.73 L107.8,266.74 L108.2,266.76 L108.6,266.77 L109,266.79 L109.4,266.8 L109.8,266.82 L110.2,266.83 L110.6,266.85 L111,266.86 L111.4,266.88 L111.8,266.89 L112.2,266.91 L112.6,266.93 L113,266.94 L113.4,266.96 L113.8,266.97 L114.2,266.99 L114.6,267 L115,267.02 L115.4,267.03 L115.8,267.05 L116.2,267.06 L116.6,267.08 L117,267.09 L117.4,267.11 L117.8,267.12 L118.2,267.14 L118.6,267.15 L119,267.17 L119.4,267.18 L119.8,267.2 L120.2,267.22 L120.6,267.23 L121,267.25 L121.4,267.26 L121.8,267.28 L122.2,267.29 L122.6,267.31 L123,267.32 L123.4,267.34 L123.8,267.35 L124.2,267.37 L124.6,267.38 L125,267.4 L125.4,267.41 L125.8,267.43 L126.2,267.44 L126.6,267.46 L127,267.48 L127.4,267.49 L127.8,267.51 L128.2,267.52 L128.6,267.54 L129,267.55 L129.4,267.57" fill="none" stroke="#efba2c" stroke-width="1.15" />
<path d="M22.6,179.72 L23,181.82 L23.4,183.93 L23.8,186.03 L24.2,188.13 L24.6,190.23 L25,192.33 L25.4,194.41 L25.8,196.5 L26.2,198.58 L26.6,200.66 L27,202.74 L27.4,204.82 L27.8,206.9 L28.2,209.05 L28.6,211.25 L29,213.46 L29.4,215.66 L29.8,217.87 L30.2,220.07 L30.6,222.28 L31,224.48 L31.4,226.48 L31.8,228.22 L32.2,229.96 L32.6,231.65 L33,233.21 L33.4,235.43 L33.8,237.65 L34.2,239.76 L34.6,241.78 L35,242.9 L35.4,243.73 L35.8,244.55 L36.2,245.37 L36.6,246.17 L37,246.9 L37.4,247.4 L37.8,247.68 L38.2,247.95 L38.6,248.22 L39,248.5 L39.4,248.77 L39.8,249.04 L40.2,249.26 L40.6,249.48 L41,249.71 L41.4,249.93 L41.8,250.15 L42.2,250.37 L42.6,250.59 L43,250.81 L43.4,250.99 L43.8,251.15 L44.2,251.32 L44.6,251.48 L45,251.64 L45.4,251.81 L45.8,251.97 L46.2,252.13 L46.6,252.28 L47,252.42 L47.4,252.57 L47.8,252.72 L48.2,252.87 L48.6,253.02 L49,253.16 L49.4,253.31 L49.8,253.46 L50.2,253.61 L50.6,253.76 L51,253.9 L51.4,254.05 L51.8,254.25 L52.2,254.46 L52.6,254.67 L53,254.89 L53.4,255.1 L53.8,255.32 L54.2,255.54 L54.6,255.75 L55,255.97 L55.4,256.19 L55.8,256.41 L56.2,256.63 L56.6,256.86 L57,257.09 L57.4,257.32 L57.8,257.55 L58.2,257.78 L58.6,258.01 L59,258.24 L59.4,258.47 L59.8,258.7 L60.2,258.93 L60.6,259.17 L61,259.4 L61.4,259.63 L61.8,259.85 L62.2,260.07 L62.6,260.3 L63,260.51 L63.4,260.72 L63.8,260.93 L64.2,261.14 L64.6,261.35 L65,261.56 L65.4,261.77 L65.8,261.98 L66.2,262.15 L66.6,262.28 L67,262.42 L67.4,262.55 L67.8,262.69 L68.2,262.82 L68.6,262.96 L69,263.09 L69.4,263.23 L69.8,263.36 L70.2,263.47 L70.6,263.54 L71,263.61 L71.4,263.68 L71.8,263.75 L72.2,263.81 L72.6,263.88 L73,263.95 L73.4,264.01 L73.8,264.08 L74.2,264.15 L74.6,264.21 L75,264.28 L75.4,264.35 L75.8,264.41 L76.2,264.47 L76.6,264.5 L77,264.54 L77.4,264.57 L77.8,264.6 L78.2,264.64 L78.6,264.67 L79,264.71 L79.4,264.74 L79.8,264.78 L80.2,264.81 L80.6,264.85 L81,264.88 L81.4,264.92 L81.8,264.95 L82.2,264.99 L82.6,265.02 L83,265.06 L83.4,265.09 L83.8,265.13 L84.2,265.16 L84.6,265.2 L85,265.23 L85.4,265.27 L85.8,265.3 L86.2,265.34 L86.6,265.37 L87,265.41 L87.4,265.44 L87.8,265.47 L88.2,265.51 L88.6,265.54 L89,265.57 L89.4,265.61 L89.8,265.64 L90.2,265.67 L90.6,265.71 L91,265.74 L91.4,265.77 L91.8,265.81 L92.2,265.84 L92.6,265.87 L93,265.91 L93.4,265.94 L93.8,265.97 L94.2,266.01 L94.6,266.04 L95,266.07 L95.4,266.11 L95.8,266.14 L96.2,266.18 L96.6,266.21 L97,266.24 L97.4,266.28 L97.8,266.31 L98.2,266.34 L98.6,266.38 L99,266.41 L99.4,266.44 L99.8,266.48 L100.2,266.51 L100.6,266.54 L101,266.56 L101.4,266.57 L101.8,266.59 L102.2,266.6 L102.6,266.62 L103,266.63 L103.4,266.65 L103.8,266.66 L104.2,266.68 L104.6,266.69 L105,266.71 L105.4,266.72 L105.8,266.74 L106.2,266.75 L106.6,266.77 L107,266.78 L107.4,266.8 L107.8,266.81 L108.2,266.83 L108.6,266.84 L109,266.86 L109.4,266.87 L109.8,266.89 L110.2,266.9 L110.6,266.91 L111,266.93 L111.4,266.94 L111.8,266.96 L112.2,266.97 L112.6,266.99 L113,267 L113.4,267.02 L113.8,267.03 L114.2,267.05 L114.6,267.06 L115,267.08 L115.4,267.09 L115.8,267.11 L116.2,267.12 L116.6,267.14 L117,267.15 L117.4,267.17 L117.8,267.18 L118.2,267.2 L118.6,267.21 L119,267.23 L119.4,267.24 L119.8,267.26 L120.2,267.27 L120.6,267.29 L121,267.3 L121.4,267.31 L121.8,267.33 L122.2,267.34 L122.6,267.36 L123,267.37 L123.4,267.39 L123.8,267.4 L124.2,267.42 L124.6,267.43 L125,267.45 L125.4,267.46 L125.8,267.48 L126.2,267.49 L126.6,267.51 L127,267.52 L127.4,267.54 L127.8,267.55 L128.2,267.57 L128.6,267.58 L129,267.6 L129.4,267.61" fill="none" stroke="#f1992c" stroke-width="1.15" />
<path d="M22.6,179.61 L23,181.7 L23.4,183.8 L23.8,185.89 L24.2,187.98 L24.6,190.07 L25,192.17 L25.4,194.24 L25.8,196.31 L26.2,198.39 L26.6,200.46 L27,202.54 L27.4,204.61 L27.8,206.69 L28.2,208.82 L28.6,211.02 L29,213.21 L29.4,215.41 L29.8,217.61 L30.2,219.8 L30.6,222 L31,224.19 L31.4,226.12 L31.8,227.74 L32.2,229.37 L32.6,230.97 L33,232.51 L33.4,234.79 L33.8,237.08 L34.2,239.31 L34.6,241.5 L35,242.66 L35.4,243.48 L35.8,244.3 L36.2,245.12 L36.6,245.92 L37,246.7 L37.4,247.21 L37.8,247.46 L38.2,247.71 L38.6,247.96 L39,248.22 L39.4,248.47 L39.8,248.72 L40.2,248.95 L40.6,249.17 L41,249.4 L41.4,249.62 L41.8,249.85 L42.2,250.07 L42.6,250.3 L43,250.53 L43.4,250.7 L43.8,250.86 L44.2,251.02 L44.6,251.18 L45,251.34 L45.4,251.51 L45.8,251.67 L46.2,251.82 L46.6,251.98 L47,252.13 L47.4,252.28 L47.8,252.43 L48.2,252.59 L48.6,252.74 L49,252.89 L49.4,253.04 L49.8,253.2 L50.2,253.35 L50.6,253.5 L51,253.65 L51.4,253.81 L51.8,254.01 L52.2,254.24 L52.6,254.47 L53,254.69 L53.4,254.92 L53.8,255.15 L54.2,255.38 L54.6,255.61 L55,255.84 L55.4,256.06 L55.8,256.29 L56.2,256.53 L56.6,256.77 L57,257.02 L57.4,257.26 L57.8,257.5 L58.2,257.75 L58.6,257.99 L59,258.24 L59.4,258.48 L59.8,258.72 L60.2,258.97 L60.6,259.21 L61,259.46 L61.4,259.7 L61.8,259.94 L62.2,260.17 L62.6,260.4 L63,260.63 L63.4,260.86 L63.8,261.09 L64.2,261.32 L64.6,261.54 L65,261.77 L65.4,262 L65.8,262.23 L66.2,262.41 L66.6,262.55 L67,262.7 L67.4,262.84 L67.8,262.98 L68.2,263.12 L68.6,263.27 L69,263.41 L69.4,263.55 L69.8,263.69 L70.2,263.8 L70.6,263.87 L71,263.94 L71.4,264 L71.8,264.07 L72.2,264.14 L72.6,264.21 L73,264.27 L73.4,264.34 L73.8,264.41 L74.2,264.47 L74.6,264.54 L75,264.61 L75.4,264.67 L75.8,264.74 L76.2,264.79 L76.6,264.82 L77,264.85 L77.4,264.88 L77.8,264.91 L78.2,264.94 L78.6,264.97 L79,265 L79.4,265.03 L79.8,265.06 L80.2,265.09 L80.6,265.12 L81,265.15 L81.4,265.18 L81.8,265.21 L82.2,265.24 L82.6,265.27 L83,265.3 L83.4,265.33 L83.8,265.36 L84.2,265.39 L84.6,265.42 L85,265.46 L85.4,265.49 L85.8,265.52 L86.2,265.55 L86.6,265.58 L87,265.61 L87.4,265.64 L87.8,265.67 L88.2,265.7 L88.6,265.73 L89,265.75 L89.4,265.78 L89.8,265.81 L90.2,265.84 L90.6,265.87 L91,265.9 L91.4,265.93 L91.8,265.96 L92.2,265.99 L92.6,266.02 L93,266.05 L93.4,266.08 L93.8,266.11 L94.2,266.14 L94.6,266.17 L95,266.2 L95.4,266.23 L95.8,266.26 L96.2,266.29 L96.6,266.32 L97,266.35 L97.4,266.38 L97.8,266.41 L98.2,266.44 L98.6,266.47 L99,266.5 L99.4,266.53 L99.8,266.56 L100.2,266.59 L100.6,266.62 L101,266.64 L101.4,266.65 L101.8,266.67 L102.2,266.68 L102.6,266.69 L103,266.71 L103.4,266.72 L103.8,266.74 L104.2,266.75 L104.6,266.77 L105,266.78 L105.4,266.79 L105.8,266.81 L106.2,266.82 L106.6,266.84 L107,266.85 L107.4,266.87 L107.8,266.88 L108.2,266.89 L108.6,266.91 L109,266.92 L109.4,266.94 L109.8,266.95 L110.2,266.97 L110.6,266.98 L111,267 L111.4,267.01 L111.8,267.02 L112.2,267.04 L112.6,267.05 L113,267.07 L113.4,267.08 L113.8,267.1 L114.2,267.11 L114.6,267.12 L115,267.14 L115.4,267.15 L115.8,267.17 L116.2,267.18 L116.6,267.2 L117,267.21 L117.4,267.22 L117.8,267.24 L118.2,267.25 L118.6,267.27 L119,267.28 L119.4,267.3 L119.8,267.31 L120.2,267.33 L120.6,267.34 L121,267.35 L121.4,267.37 L121.8,267.38 L122.2,267.4 L122.6,267.41 L123,267.43 L123.4,267.44 L123.8,267.45 L124.2,267.47 L124.6,267.48 L125,267.5 L125.4,267.51 L125.8,267.53 L126.2,267.54 L126.6,267.56 L127,267.57 L127.4,267.58 L127.8,267.6 L128.2,267.61 L128.6,267.63 L129,267.64 L129.4,267.66" fill="none" stroke="#f2772c" stroke-width="1.15" />
<path d="M22.6,180.5 L25,193.5 L28,209.5 L31,226.5 L32.5,236 L34,242.5 L36.5,247.8 L39.8,251.3 L46,254.2 L53.2,256.3 L62.8,259.6 L72,261.5 L87.6,264.1 L100.6,266 L129.4,267.3" fill="none" stroke="#24602a" stroke-width="1.1" />
<path d="M22.6,179.5 L25,192 L28,207.5 L31.2,225 L33,231.8 L34.7,241.8 L37.2,246.9 L43.1,250.3 L51.5,253.6 L56,256.3 L61.6,259.9 L66,262.6 L70,264.1 L76,265.1 L90,266 L100.6,266.7 L129.4,267.7" fill="none" stroke="#ff1010" stroke-width="1.5" />
<path d="M24.8,161.5 L26.2,175.8 L30,196 L33,212 L35.4,225 L37.2,233.4 L40.6,243.5 L46.5,249.4 L54.9,254.5 L60,258.2 L64,261.2 L68,263.3 L72,264.5 L78,265.2 L90,266 L100.6,266.7 L129.4,267.7" fill="none" stroke="#ff1010" stroke-width="2" />
<rect x="86.5" y="161.5" width="43" height="47" fill="#fff" stroke="none" stroke-width="1" />
<path d="M86.5,199.5 L87,199.49 L87.5,199.48 L88,199.47 L88.5,199.46 L89,199.45 L89.5,199.45 L90,199.44 L90.5,199.43 L91,199.42 L91.5,199.41 L92,199.4 L92.5,199.33 L93,199.25 L93.5,199.18 L94,199.1 L94.5,199.03 L95,198.95 L95.5,198.88 L96,198.8 L96.5,198.7 L97,198.6 L97.5,198.5 L98,198.4 L98.5,198.3 L99,198.2 L99.5,198.1 L100,198 L100.5,197.92 L101,197.83 L101.5,197.75 L102,197.67 L102.5,197.58 L103,197.5 L103.5,197.37 L104,197.23 L104.5,197.1 L105,196.97 L105.5,196.83 L106,196.7 L106.5,196.8 L107,196.9 L107.5,197 L108,197.1 L108.5,197.2 L109,197.3 L109.5,197.4 L110,197.5 L110.5,197.58 L111,197.67 L111.5,197.75 L112,197.83 L112.5,197.92 L113,198 L113.5,198.08 L114,198.17 L114.5,198.25 L115,198.33 L115.5,198.42 L116,198.5 L116.5,198.49 L117,198.47 L117.5,198.46 L118,198.44 L118.5,198.43 L119,198.41 L119.5,198.4 L120,198.39 L120.5,198.37 L121,198.36 L121.5,198.34 L122,198.33 L122.5,198.31 L123,198.3 L123.5,198.37 L124,198.44 L124.5,198.51 L125,198.58 L125.5,198.65 L126,198.72 L126.5,198.79 L127,198.86 L127.5,198.93 L128,199 L128.5,199.07 L129,199.14 L129.5,199.2" fill="none" stroke="#24602a" stroke-width="1.25" />
<path d="M86.5,199.47 L87,199.46 L87.5,199.45 L88,199.44 L88.5,199.43 L89,199.42 L89.5,199.41 L90,199.4 L90.5,199.39 L91,199.38 L91.5,199.37 L92,199.36 L92.5,199.24 L93,199.12 L93.5,199.01 L94,198.89 L94.5,198.77 L95,198.66 L95.5,198.54 L96,198.47 L96.5,198.38 L97,198.29 L97.5,198.2 L98,198.11 L98.5,197.93 L99,197.75 L99.5,197.57 L100,197.39 L100.5,197.22 L101,197.03 L101.5,196.83 L102,196.62 L102.5,196.37 L103,196.08 L103.5,195.74 L104,195.41 L104.5,195.16 L105,194.91 L105.5,194.66 L106,194.42 L106.5,194.52 L107,194.66 L107.5,194.8 L108,194.96 L108.5,195.12 L109,195.28 L109.5,195.45 L110,195.61 L110.5,195.76 L111,195.92 L111.5,196.07 L112,196.22 L112.5,196.39 L113,196.58 L113.5,196.76 L114,196.95 L114.5,197.12 L115,197.28 L115.5,197.45 L116,197.61 L116.5,197.61 L117,197.6 L117.5,197.58 L118,197.56 L118.5,197.54 L119,197.52 L119.5,197.49 L120,197.43 L120.5,197.38 L121,197.32 L121.5,197.28 L122,197.23 L122.5,197.19 L123,197.14 L123.5,197.24 L124,197.33 L124.5,197.43 L125,197.52 L125.5,197.64 L126,197.75 L126.5,197.86 L127,197.98 L127.5,198.08 L128,198.19 L128.5,198.3 L129,198.4 L129.5,198.49" fill="none" stroke="#457a2f" stroke-width="1.25" />
<path d="M86.5,199.44 L87,199.43 L87.5,199.42 L88,199.41 L88.5,199.4 L89,199.39 L89.5,199.37 L90,199.36 L90.5,199.35 L91,199.34 L91.5,199.33 L92,199.32 L92.5,199.16 L93,199 L93.5,198.84 L94,198.68 L94.5,198.52 L95,198.36 L95.5,198.2 L96,198.14 L96.5,198.06 L97,197.98 L97.5,197.9 L98,197.82 L98.5,197.56 L99,197.3 L99.5,197.04 L100,196.77 L100.5,196.53 L101,196.23 L101.5,195.9 L102,195.58 L102.5,195.15 L103,194.66 L103.5,194.12 L104,193.59 L104.5,193.22 L105,192.86 L105.5,192.5 L106,192.13 L106.5,192.24 L107,192.42 L107.5,192.6 L108,192.82 L108.5,193.04 L109,193.26 L109.5,193.49 L110,193.73 L110.5,193.95 L111,194.17 L111.5,194.39 L112,194.61 L112.5,194.87 L113,195.16 L113.5,195.44 L114,195.73 L114.5,195.98 L115,196.23 L115.5,196.48 L116,196.72 L116.5,196.74 L117,196.72 L117.5,196.7 L118,196.68 L118.5,196.66 L119,196.64 L119.5,196.57 L120,196.48 L120.5,196.38 L121,196.29 L121.5,196.21 L122,196.13 L122.5,196.06 L123,195.98 L123.5,196.1 L124,196.22 L124.5,196.34 L125,196.47 L125.5,196.62 L126,196.78 L126.5,196.93 L127,197.09 L127.5,197.23 L128,197.38 L128.5,197.52 L129,197.66 L129.5,197.78" fill="none" stroke="#679434" stroke-width="1.25" />
<path d="M86.5,199.41 L87,199.4 L87.5,199.39 L88,199.37 L88.5,199.36 L89,199.35 L89.5,199.34 L90,199.33 L90.5,199.32 L91,199.3 L91.5,199.29 L92,199.28 L92.5,199.08 L93,198.88 L93.5,198.67 L94,198.47 L94.5,198.27 L95,198.06 L95.5,197.86 L96,197.81 L96.5,197.74 L97,197.67 L97.5,197.6 L98,197.53 L98.5,197.19 L99,196.85 L99.5,196.5 L100,196.16 L100.5,195.83 L101,195.43 L101.5,194.98 L102,194.53 L102.5,193.93 L103,193.23 L103.5,192.5 L104,191.76 L104.5,191.28 L105,190.81 L105.5,190.33 L106,189.85 L106.5,189.96 L107,190.18 L107.5,190.4 L108,190.68 L108.5,190.96 L109,191.25 L109.5,191.54 L110,191.84 L110.5,192.13 L111,192.41 L111.5,192.7 L112,192.99 L112.5,193.34 L113,193.73 L113.5,194.12 L114,194.52 L114.5,194.85 L115,195.18 L115.5,195.51 L116,195.84 L116.5,195.87 L117,195.84 L117.5,195.82 L118,195.79 L118.5,195.77 L119,195.75 L119.5,195.66 L120,195.52 L120.5,195.38 L121,195.25 L121.5,195.14 L122,195.04 L122.5,194.93 L123,194.82 L123.5,194.97 L124,195.11 L124.5,195.26 L125,195.41 L125.5,195.61 L126,195.81 L126.5,196 L127,196.2 L127.5,196.38 L128,196.56 L128.5,196.75 L129,196.93 L129.5,197.07" fill="none" stroke="#97ab32" stroke-width="1.25" />
<path d="M86.5,199.38 L87,199.37 L87.5,199.35 L88,199.34 L88.5,199.33 L89,199.32 L89.5,199.3 L90,199.29 L90.5,199.28 L91,199.27 L91.5,199.25 L92,199.24 L92.5,199 L93,198.75 L93.5,198.5 L94,198.26 L94.5,198.02 L95,197.77 L95.5,197.53 L96,197.48 L96.5,197.42 L97,197.36 L97.5,197.3 L98,197.24 L98.5,196.82 L99,196.39 L99.5,195.97 L100,195.55 L100.5,195.14 L101,194.63 L101.5,194.06 L102,193.49 L102.5,192.72 L103,191.81 L103.5,190.88 L104,189.94 L104.5,189.35 L105,188.75 L105.5,188.16 L106,187.56 L106.5,187.68 L107,187.94 L107.5,188.2 L108,188.54 L108.5,188.88 L109,189.23 L109.5,189.58 L110,189.95 L110.5,190.31 L111,190.66 L111.5,191.02 L112,191.38 L112.5,191.82 L113,192.31 L113.5,192.81 L114,193.3 L114.5,193.71 L115,194.12 L115.5,194.54 L116,194.95 L116.5,195 L117,194.97 L117.5,194.94 L118,194.91 L118.5,194.88 L119,194.86 L119.5,194.74 L120,194.56 L120.5,194.39 L121,194.21 L121.5,194.08 L122,193.94 L122.5,193.8 L123,193.66 L123.5,193.83 L124,194 L124.5,194.18 L125,194.35 L125.5,194.59 L126,194.83 L126.5,195.08 L127,195.32 L127.5,195.53 L128,195.75 L128.5,195.97 L129,196.19 L129.5,196.36" fill="none" stroke="#ccc12e" stroke-width="1.25" />
<path d="M86.5,199.35 L87,199.34 L87.5,199.32 L88,199.31 L88.5,199.3 L89,199.28 L89.5,199.27 L90,199.25 L90.5,199.24 L91,199.23 L91.5,199.21 L92,199.2 L92.5,198.91 L93,198.62 L93.5,198.34 L94,198.05 L94.5,197.76 L95,197.48 L95.5,197.19 L96,197.15 L96.5,197.1 L97,197.05 L97.5,197 L98,196.95 L98.5,196.45 L99,195.94 L99.5,195.44 L100,194.94 L100.5,194.44 L101,193.83 L101.5,193.13 L102,192.44 L102.5,191.5 L103,190.39 L103.5,189.25 L104,188.12 L104.5,187.41 L105,186.7 L105.5,185.99 L106,185.28 L106.5,185.4 L107,185.7 L107.5,186 L108,186.4 L108.5,186.81 L109,187.21 L109.5,187.63 L110,188.06 L110.5,188.49 L111,188.91 L111.5,189.34 L112,189.76 L112.5,190.29 L113,190.89 L113.5,191.49 L114,192.08 L114.5,192.58 L115,193.07 L115.5,193.57 L116,194.06 L116.5,194.12 L117,194.09 L117.5,194.06 L118,194.03 L118.5,194 L119,193.97 L119.5,193.82 L120,193.61 L120.5,193.39 L121,193.18 L121.5,193.01 L122,192.84 L122.5,192.67 L123,192.5 L123.5,192.7 L124,192.9 L124.5,193.09 L125,193.29 L125.5,193.58 L126,193.86 L126.5,194.15 L127,194.43 L127.5,194.69 L128,194.94 L128.5,195.19 L129,195.45 L129.5,195.65" fill="none" stroke="#efbe2c" stroke-width="1.25" />
<path d="M86.5,199.32 L87,199.31 L87.5,199.29 L88,199.28 L88.5,199.26 L89,199.25 L89.5,199.23 L90,199.22 L90.5,199.2 L91,199.19 L91.5,199.17 L92,199.16 L92.5,198.83 L93,198.5 L93.5,198.17 L94,197.84 L94.5,197.51 L95,197.18 L95.5,196.85 L96,196.82 L96.5,196.78 L97,196.74 L97.5,196.7 L98,196.66 L98.5,196.08 L99,195.49 L99.5,194.91 L100,194.32 L100.5,193.74 L101,193.03 L101.5,192.21 L102,191.4 L102.5,190.28 L103,188.97 L103.5,187.63 L104,186.29 L104.5,185.47 L105,184.64 L105.5,183.82 L106,182.99 L106.5,183.12 L107,183.46 L107.5,183.8 L108,184.26 L108.5,184.73 L109,185.19 L109.5,185.68 L110,186.18 L110.5,186.67 L111,187.16 L111.5,187.66 L112,188.15 L112.5,188.77 L113,189.47 L113.5,190.17 L114,190.87 L114.5,191.44 L115,192.02 L115.5,192.6 L116,193.17 L116.5,193.25 L117,193.22 L117.5,193.18 L118,193.15 L118.5,193.11 L119,193.08 L119.5,192.91 L120,192.65 L120.5,192.4 L121,192.14 L121.5,191.94 L122,191.74 L122.5,191.54 L123,191.34 L123.5,191.56 L124,191.79 L124.5,192.01 L125,192.23 L125.5,192.56 L126,192.89 L126.5,193.22 L127,193.54 L127.5,193.84 L128,194.13 L128.5,194.42 L129,194.71 L129.5,194.94" fill="none" stroke="#f1972c" stroke-width="1.25" />
<path d="M86.5,199.29 L87,199.27 L87.5,199.26 L88,199.24 L88.5,199.23 L89,199.21 L89.5,199.2 L90,199.18 L90.5,199.17 L91,199.15 L91.5,199.14 L92,199.12 L92.5,198.75 L93,198.38 L93.5,198 L94,197.63 L94.5,197.26 L95,196.88 L95.5,196.51 L96,196.49 L96.5,196.46 L97,196.43 L97.5,196.4 L98,196.37 L98.5,195.7 L99,195.04 L99.5,194.37 L100,193.71 L100.5,193.05 L101,192.22 L101.5,191.29 L102,190.35 L102.5,189.07 L103,187.54 L103.5,186.01 L104,184.47 L104.5,183.53 L105,182.59 L105.5,181.65 L106,180.71 L106.5,180.84 L107,181.22 L107.5,181.6 L108,182.12 L108.5,182.65 L109,183.17 L109.5,183.72 L110,184.29 L110.5,184.85 L111,185.41 L111.5,185.97 L112,186.54 L112.5,187.24 L113,188.04 L113.5,188.85 L114,189.65 L114.5,190.31 L115,190.97 L115.5,191.62 L116,192.28 L116.5,192.38 L117,192.34 L117.5,192.3 L118,192.26 L118.5,192.23 L119,192.19 L119.5,192 L120,191.7 L120.5,191.4 L121,191.11 L121.5,190.88 L122,190.64 L122.5,190.41 L123,190.18 L123.5,190.43 L124,190.68 L124.5,190.93 L125,191.17 L125.5,191.55 L126,191.92 L126.5,192.29 L127,192.66 L127.5,192.99 L128,193.31 L128.5,193.64 L129,193.97 L129.5,194.23" fill="none" stroke="#f36c2b" stroke-width="1.25" />
<path d="M86.5,199.25 L87,199.23 L87.5,199.21 L88,199.2 L88.5,199.18 L89,199.16 L89.5,199.15 L90,199.13 L90.5,199.11 L91,199.1 L91.5,199.08 L92,199.06 L92.5,198.63 L93,198.2 L93.5,197.77 L94,197.34 L94.5,196.9 L95,196.47 L95.5,196.04 L96,196.03 L96.5,196.01 L97,196 L97.5,195.98 L98,195.96 L98.5,195.19 L99,194.41 L99.5,193.63 L100,192.85 L100.5,192.08 L101,191.1 L101.5,190 L102,188.89 L102.5,187.36 L103,185.55 L103.5,183.74 L104,181.92 L104.5,180.82 L105,179.71 L105.5,178.61 L106,177.51 L106.5,177.65 L107,178.08 L107.5,178.52 L108,179.13 L108.5,179.74 L109,180.35 L109.5,180.99 L110,181.65 L110.5,182.3 L111,182.96 L111.5,183.62 L112,184.28 L112.5,185.11 L113,186.05 L113.5,187 L114,187.95 L114.5,188.72 L115,189.49 L115.5,190.27 L116,191.04 L116.5,191.16 L117,191.11 L117.5,191.07 L118,191.03 L118.5,190.99 L119,190.94 L119.5,190.71 L120,190.36 L120.5,190.01 L121,189.66 L121.5,189.38 L122,189.11 L122.5,188.83 L123,188.56 L123.5,188.84 L124,189.12 L124.5,189.41 L125,189.69 L125.5,190.12 L126,190.56 L126.5,190.99 L127,191.42 L127.5,191.8 L128,192.18 L128.5,192.55 L129,192.93 L129.5,193.24" fill="none" stroke="#ff1a1a" stroke-width="1.6" />
<path d="M86.5,199.2 L87,199.18 L87.5,199.16 L88,199.15 L88.5,199.13 L89,199.11 L89.5,199.09 L90,199.07 L90.5,199.05 L91,199.04 L91.5,199.02 L92,199 L92.5,198.5 L93,198 L93.5,197.5 L94,197 L94.5,196.5 L95,196 L95.5,195.5 L96,195.5 L96.5,195.5 L97,195.5 L97.5,195.5 L98,195.5 L98.5,194.59 L99,193.69 L99.5,192.78 L100,191.87 L100.5,190.96 L101,189.82 L101.5,188.52 L102,187.22 L102.5,185.42 L103,183.28 L103.5,181.14 L104,179 L104.5,177.71 L105,176.43 L105.5,175.14 L106,173.86 L106.5,174 L107,174.5 L107.5,175 L108,175.71 L108.5,176.41 L109,177.12 L109.5,177.86 L110,178.63 L110.5,179.39 L111,180.16 L111.5,180.93 L112,181.69 L112.5,182.67 L113,183.78 L113.5,184.89 L114,186 L114.5,186.9 L115,187.81 L115.5,188.71 L116,189.62 L116.5,189.76 L117,189.71 L117.5,189.66 L118,189.62 L118.5,189.57 L119,189.52 L119.5,189.25 L120,188.83 L120.5,188.42 L121,188 L121.5,187.68 L122,187.35 L122.5,187.02 L123,186.7 L123.5,187.02 L124,187.35 L124.5,187.68 L125,188 L125.5,188.5 L126,189 L126.5,189.5 L127,190 L127.5,190.44 L128,190.88 L128.5,191.31 L129,191.75 L129.5,192.1" fill="none" stroke="#ff1a1a" stroke-width="1.6" />
<rect x="86.5" y="161.5" width="43" height="47" fill="none" stroke="#222" stroke-width="0.9" />
<line x1="96.4" y1="208.5" x2="96.4" y2="210" stroke="#222" stroke-width="0.8" />
<line x1="116.5" y1="208.5" x2="116.5" y2="210" stroke="#222" stroke-width="0.8" />
<text x="96.7" y="218.5" font-size="8" text-anchor="middle" font-weight="normal" fill="#000" >1350</text>
<text x="116.3" y="218.5" font-size="8" text-anchor="middle" font-weight="normal" fill="#000" >1500</text>
<rect x="22.5" y="161.5" width="107" height="112" fill="none" stroke="#222" stroke-width="1" />
<line x1="22.5" y1="162" x2="22.5" y2="273" stroke="#fff" stroke-width="1.05" />
<line x1="22.5" y1="162" x2="22.5" y2="273" stroke="#888888" stroke-width="1" />
<line x1="20.5" y1="268.2" x2="22.5" y2="268.2" stroke="#222" stroke-width="0.8" />
<line x1="129.5" y1="268.2" x2="128" y2="268.2" stroke="#222" stroke-width="0.8" />
<line x1="20.5" y1="250.45" x2="22.5" y2="250.45" stroke="#222" stroke-width="0.8" />
<line x1="129.5" y1="250.45" x2="128" y2="250.45" stroke="#222" stroke-width="0.8" />
<line x1="20.5" y1="232.7" x2="22.5" y2="232.7" stroke="#222" stroke-width="0.8" />
<line x1="129.5" y1="232.7" x2="128" y2="232.7" stroke="#222" stroke-width="0.8" />
<line x1="20.5" y1="214.95" x2="22.5" y2="214.95" stroke="#222" stroke-width="0.8" />
<line x1="129.5" y1="214.95" x2="128" y2="214.95" stroke="#222" stroke-width="0.8" />
<line x1="20.5" y1="197.2" x2="22.5" y2="197.2" stroke="#222" stroke-width="0.8" />
<line x1="129.5" y1="197.2" x2="128" y2="197.2" stroke="#222" stroke-width="0.8" />
<line x1="20.5" y1="179.45" x2="22.5" y2="179.45" stroke="#222" stroke-width="0.8" />
<line x1="129.5" y1="179.45" x2="128" y2="179.45" stroke="#222" stroke-width="0.8" />
<line x1="20.5" y1="161.7" x2="22.5" y2="161.7" stroke="#222" stroke-width="0.8" />
<line x1="129.5" y1="161.7" x2="128" y2="161.7" stroke="#222" stroke-width="0.8" />
<line x1="21.3" y1="259.32" x2="22.5" y2="259.32" stroke="#222" stroke-width="0.8" />
<line x1="129.5" y1="259.32" x2="128.5" y2="259.32" stroke="#222" stroke-width="0.8" />
<line x1="21.3" y1="241.57" x2="22.5" y2="241.57" stroke="#222" stroke-width="0.8" />
<line x1="129.5" y1="241.57" x2="128.5" y2="241.57" stroke="#222" stroke-width="0.8" />
<line x1="21.3" y1="223.82" x2="22.5" y2="223.82" stroke="#222" stroke-width="0.8" />
<line x1="129.5" y1="223.82" x2="128.5" y2="223.82" stroke="#222" stroke-width="0.8" />
<line x1="21.3" y1="206.07" x2="22.5" y2="206.07" stroke="#222" stroke-width="0.8" />
<line x1="129.5" y1="206.07" x2="128.5" y2="206.07" stroke="#222" stroke-width="0.8" />
<line x1="21.3" y1="188.32" x2="22.5" y2="188.32" stroke="#222" stroke-width="0.8" />
<line x1="129.5" y1="188.32" x2="128.5" y2="188.32" stroke="#222" stroke-width="0.8" />
<line x1="21.3" y1="170.57" x2="22.5" y2="170.57" stroke="#222" stroke-width="0.8" />
<line x1="129.5" y1="170.57" x2="128.5" y2="170.57" stroke="#222" stroke-width="0.8" />
<line x1="34.61" y1="273.5" x2="34.61" y2="275.5" stroke="#222" stroke-width="0.8" />
<line x1="34.61" y1="161.5" x2="34.61" y2="163" stroke="#222" stroke-width="0.8" />
<line x1="58.23" y1="273.5" x2="58.23" y2="275.5" stroke="#222" stroke-width="0.8" />
<line x1="58.23" y1="161.5" x2="58.23" y2="163" stroke="#222" stroke-width="0.8" />
<line x1="81.85" y1="273.5" x2="81.85" y2="275.5" stroke="#222" stroke-width="0.8" />
<line x1="81.85" y1="161.5" x2="81.85" y2="163" stroke="#222" stroke-width="0.8" />
<line x1="105.47" y1="273.5" x2="105.47" y2="275.5" stroke="#222" stroke-width="0.8" />
<line x1="105.47" y1="161.5" x2="105.47" y2="163" stroke="#222" stroke-width="0.8" />
<line x1="129.09" y1="273.5" x2="129.09" y2="275.5" stroke="#222" stroke-width="0.8" />
<line x1="129.09" y1="161.5" x2="129.09" y2="163" stroke="#222" stroke-width="0.8" />
<line x1="46.42" y1="273.5" x2="46.42" y2="274.7" stroke="#222" stroke-width="0.8" />
<line x1="46.42" y1="161.5" x2="46.42" y2="162.5" stroke="#222" stroke-width="0.8" />
<line x1="70.04" y1="273.5" x2="70.04" y2="274.7" stroke="#222" stroke-width="0.8" />
<line x1="70.04" y1="161.5" x2="70.04" y2="162.5" stroke="#222" stroke-width="0.8" />
<line x1="93.66" y1="273.5" x2="93.66" y2="274.7" stroke="#222" stroke-width="0.8" />
<line x1="93.66" y1="161.5" x2="93.66" y2="162.5" stroke="#222" stroke-width="0.8" />
<line x1="117.28" y1="273.5" x2="117.28" y2="274.7" stroke="#222" stroke-width="0.8" />
<line x1="117.28" y1="161.5" x2="117.28" y2="162.5" stroke="#222" stroke-width="0.8" />
<text x="20.2" y="271.24" font-size="8.5" text-anchor="end" font-weight="normal" fill="#000" >0</text>
<text x="20.2" y="253.49" font-size="8.5" text-anchor="end" font-weight="normal" fill="#000" >0.1</text>
<text x="20.2" y="235.74" font-size="8.5" text-anchor="end" font-weight="normal" fill="#000" >0.2</text>
<text x="20.2" y="217.99" font-size="8.5" text-anchor="end" font-weight="normal" fill="#000" >0.3</text>
<text x="20.2" y="200.24" font-size="8.5" text-anchor="end" font-weight="normal" fill="#000" >0.4</text>
<text x="20.2" y="182.49" font-size="8.5" text-anchor="end" font-weight="normal" fill="#000" >0.5</text>
<text x="20.2" y="164.74" font-size="8.5" text-anchor="end" font-weight="normal" fill="#000" >0.6</text>
<text x="34.61" y="283.3" font-size="8.5" text-anchor="middle" font-weight="normal" fill="#000" >300</text>
<text x="58.23" y="283.3" font-size="8.5" text-anchor="middle" font-weight="normal" fill="#000" >350</text>
<text x="81.85" y="283.3" font-size="8.5" text-anchor="middle" font-weight="normal" fill="#000" >400</text>
<text x="105.47" y="283.3" font-size="8.5" text-anchor="middle" font-weight="normal" fill="#000" >450</text>
<text x="129.09" y="283.3" font-size="8.5" text-anchor="middle" font-weight="normal" fill="#000" >500</text>
<text x="75.7" y="294.6" font-size="8.2" text-anchor="middle" font-weight="normal" fill="#000" >Wavelength (nm)</text>
<text transform="translate(5.9,215.8) rotate(-90)" font-size="8.4" text-anchor="middle" font-weight="normal" fill="#000">Absorbance</text>
<rect x="22.5" y="161.5" width="16.2" height="14.3" fill="#000" stroke="none" stroke-width="1" />
<text x="30.6" y="173.15" font-size="12.5" text-anchor="middle" font-weight="bold" fill="#fff" style="stroke:#fff">B</text>
<text x="42" y="157.8" font-size="6.1" text-anchor="start" font-weight="normal" fill="#000"  class="s">Mn<tspan dy="1.83" font-size="4.03">2</tspan><tspan dy="-1.83">P</tspan><tspan dy="1.83" font-size="4.03">2</tspan><tspan dy="-1.83">S</tspan><tspan dy="1.83" font-size="4.03">6</tspan><tspan dy="-1.83">, Large (0.6-3k g)</tspan></text>
<defs><linearGradient id="cbB" x1="0" y1="0" x2="0" y2="1"><stop offset="0" stop-color="#24602a"/><stop offset="0.25" stop-color="#6f9a35"/><stop offset="0.45" stop-color="#cfc22e"/><stop offset="0.55" stop-color="#efc02c"/><stop offset="0.75" stop-color="#f27a2c"/><stop offset="0.9" stop-color="#f83024"/><stop offset="1" stop-color="#ff0a14"/></linearGradient></defs>
<rect x="50" y="171.7" width="7.5" height="31" fill="url(#cbB)" stroke="none" stroke-width="1" />
<text x="50" y="168.4" font-size="4.8" text-anchor="start" font-weight="normal" fill="#000"  class="s">Time at 40°C</text>
<text x="60.2" y="174.4" font-size="4.8" text-anchor="start" font-weight="normal" fill="#000"  class="s">Initial</text>
<text x="59.6" y="204.4" font-size="4.8" text-anchor="start" font-weight="normal" fill="#000"  class="s">349.5 h</text>
<line x1="34.5" y1="252.3" x2="47.5" y2="240.8" stroke="#000" stroke-width="1.9" />
<path d="M51,237.7 L45.4,239.2 L49.2,243.4 Z" fill="#000" stroke="#000" stroke-width="0.6" />
<text x="33.5" y="262.8" font-size="8.2" text-anchor="middle" font-weight="normal" fill="#000" >Time</text>
<text x="72" y="254" font-size="8.2" text-anchor="middle" font-weight="normal" fill="#000" >Time</text>
<line x1="71.7" y1="256.2" x2="71.7" y2="263.2" stroke="#000" stroke-width="1.9" />
<path d="M69.1,266.6 L74.3,266.6 L71.7,272.2 Z" fill="#000" stroke="none" stroke-width="1" />
<path d="M181.6,172.59 L181.95,174.69 L182.29,176.75 L182.64,178.75 L182.98,180.71 L183.33,182.62 L183.68,184.49 L184.02,186.31 L184.37,188.09 L184.72,189.83 L185.06,191.53 L185.41,193.19 L185.75,194.81 L186.1,196.39 L186.45,197.93 L186.79,199.44 L187.14,200.91 L187.49,202.35 L187.83,203.75 L188.18,205.12 L188.53,206.46 L188.87,207.76 L189.22,209.04 L189.56,210.29 L189.91,211.5 L190.26,212.69 L190.6,213.85 L190.95,214.98 L191.29,216.09 L191.64,217.17 L191.99,218.22 L192.33,219.25 L192.68,220.26 L193.03,221.24 L193.37,222.2 L193.72,223.14 L194.06,224.05 L194.41,224.94 L194.76,225.81 L195.1,226.66 L195.45,227.5 L195.8,228.31 L196.14,229.1 L196.49,229.87 L196.83,230.63 L197.18,231.37 L197.53,232.09 L197.87,232.79 L198.22,233.48 L198.57,234.15 L198.91,234.8 L199.26,235.44 L199.6,236.07 L199.95,236.68 L200.3,237.27 L200.64,237.85 L200.99,238.42 L201.34,238.98 L201.68,239.52 L202.03,240.05 L202.38,240.56 L202.72,241.07 L203.07,241.56 L203.41,242.04 L203.76,242.51 L204.11,242.97 L204.45,243.41 L204.8,243.85 L205.14,244.28 L205.49,244.7 L205.84,245.1 L206.18,245.5 L206.53,245.89 L206.88,246.27 L207.22,246.64 L207.57,247 L207.91,247.35 L208.26,247.69 L208.61,248.03 L208.95,248.36 L209.3,248.68 L210.69,249.89 L212.07,250.99 L213.45,251.99 L214.84,252.9 L216.22,253.72 L217.61,254.47 L219,255.15 L220.38,255.78 L221.76,256.34 L223.15,256.85 L224.53,257.32 L225.92,257.74 L227.31,258.13 L228.69,258.48 L230.07,258.8 L231.46,259.09 L232.84,259.35 L234.23,259.59 L235.62,259.81 L237,260.01 L238.38,260.19 L239.77,260.35 L241.16,260.5 L242.54,260.63 L243.93,260.76 L245.31,260.87 L246.69,260.97 L248.08,261.06 L249.46,261.15 L250.85,261.22 L252.24,261.29 L253.62,261.36 L255,261.41 L256.39,261.46 L257.77,261.51 L259.16,261.56 L260.55,261.59 L261.93,261.63 L263.31,261.66 L264.7,261.69 L266.08,261.72 L267.47,261.74 L268.86,261.77 L270.24,261.79 L271.62,261.8 L273.01,261.82 L274.39,261.84 L275.78,261.85 L277.16,261.86 L278.55,261.87 L279.94,261.88 L281.32,261.89" fill="none" stroke="#21692a" stroke-width="1.5" />
<path d="M181.6,172.59 L181.95,175.48 L182.29,178.28 L182.64,180.98 L182.98,183.6 L183.33,186.14 L183.68,188.6 L184.02,190.98 L184.37,193.28 L184.72,195.51 L185.06,197.66 L185.41,199.75 L185.75,201.77 L186.1,203.73 L186.45,205.62 L186.79,207.46 L187.14,209.23 L187.49,210.95 L187.83,212.61 L188.18,214.22 L188.53,215.78 L188.87,217.29 L189.22,218.75 L189.56,220.17 L189.91,221.54 L190.26,222.86 L190.6,224.15 L190.95,225.39 L191.29,226.59 L191.64,227.75 L191.99,228.88 L192.33,229.97 L192.68,231.03 L193.03,232.05 L193.37,233.04 L193.72,234 L194.06,234.93 L194.41,235.82 L194.76,236.69 L195.1,237.53 L195.45,238.35 L195.8,239.14 L196.14,239.9 L196.49,240.64 L196.83,241.35 L197.18,242.05 L197.53,242.72 L197.87,243.36 L198.22,243.99 L198.57,244.6 L198.91,245.19 L199.26,245.76 L199.6,246.31 L199.95,246.84 L200.3,247.36 L200.64,247.86 L200.99,248.35 L201.34,248.82 L201.68,249.27 L202.03,249.71 L202.38,250.13 L202.72,250.55 L203.07,250.95 L203.41,251.33 L203.76,251.7 L204.11,252.07 L204.45,252.42 L204.8,252.76 L205.14,253.08 L205.49,253.4 L205.84,253.71 L206.18,254.01 L206.53,254.29 L206.88,254.57 L207.22,254.84 L207.57,255.1 L207.91,255.36 L208.26,255.6 L208.61,255.84 L208.95,256.07 L209.3,256.29 L210.69,257.11 L212.07,257.83 L213.45,258.47 L214.84,259.02 L216.22,259.51 L217.61,259.94 L219,260.31 L220.38,260.64 L221.76,260.93 L223.15,261.19 L224.53,261.41 L225.92,261.61 L227.31,261.78 L228.69,261.93 L230.07,262.07 L231.46,262.18 L232.84,262.29 L234.23,262.38 L235.62,262.46 L237,262.53 L238.38,262.59 L239.77,262.64 L241.16,262.69 L242.54,262.73 L243.93,262.76 L245.31,262.8 L246.69,262.82 L248.08,262.85 L249.46,262.87 L250.85,262.89 L252.24,262.91 L253.62,262.92 L255,262.93 L256.39,262.95 L257.77,262.96 L259.16,262.96 L260.55,262.97 L261.93,262.98 L263.31,262.98 L264.7,262.99 L266.08,262.99 L267.47,263 L268.86,263 L270.24,263 L271.62,263.01 L273.01,263.01 L274.39,263.01 L275.78,263.01 L277.16,263.01 L278.55,263.02 L279.94,263.02 L281.32,263.02" fill="none" stroke="#f2a81d" stroke-width="1.5" />
<path d="M181.6,172.59 L181.95,176.28 L182.29,179.81 L182.64,183.18 L182.98,186.42 L183.33,189.51 L183.68,192.47 L184.02,195.31 L184.37,198.02 L184.72,200.62 L185.06,203.1 L185.41,205.48 L185.75,207.76 L186.1,209.93 L186.45,212.02 L186.79,214.01 L187.14,215.92 L187.49,217.75 L187.83,219.5 L188.18,221.18 L188.53,222.78 L188.87,224.31 L189.22,225.78 L189.56,227.19 L189.91,228.53 L190.26,229.82 L190.6,231.05 L190.95,232.23 L191.29,233.36 L191.64,234.44 L191.99,235.47 L192.33,236.46 L192.68,237.41 L193.03,238.31 L193.37,239.18 L193.72,240.01 L194.06,240.8 L194.41,241.56 L194.76,242.29 L195.1,242.99 L195.45,243.65 L195.8,244.29 L196.14,244.9 L196.49,245.49 L196.83,246.05 L197.18,246.58 L197.53,247.09 L197.87,247.58 L198.22,248.05 L198.57,248.5 L198.91,248.93 L199.26,249.34 L199.6,249.74 L199.95,250.12 L200.3,250.48 L200.64,250.82 L200.99,251.15 L201.34,251.47 L201.68,251.77 L202.03,252.06 L202.38,252.34 L202.72,252.6 L203.07,252.86 L203.41,253.1 L203.76,253.33 L204.11,253.56 L204.45,253.77 L204.8,253.97 L205.14,254.17 L205.49,254.35 L205.84,254.53 L206.18,254.7 L206.53,254.87 L206.88,255.03 L207.22,255.18 L207.57,255.32 L207.91,255.46 L208.26,255.59 L208.61,255.71 L208.95,255.83 L209.3,255.95 L210.69,256.36 L212.07,256.71 L213.45,257 L214.84,257.25 L216.22,257.45 L217.61,257.62 L219,257.77 L220.38,257.89 L221.76,257.99 L223.15,258.08 L224.53,258.15 L225.92,258.21 L227.31,258.26 L228.69,258.3 L230.07,258.34 L231.46,258.37 L232.84,258.39 L234.23,258.41 L235.62,258.43 L237,258.45 L238.38,258.46 L239.77,258.47 L241.16,258.48 L242.54,258.48 L243.93,258.49 L245.31,258.5 L246.69,258.5 L248.08,258.5 L249.46,258.51 L250.85,258.51 L252.24,258.51 L253.62,258.51 L255,258.51 L256.39,258.52 L257.77,258.52 L259.16,258.52 L260.55,258.52 L261.93,258.52 L263.31,258.52 L264.7,258.52 L266.08,258.52 L267.47,258.52 L268.86,258.52" fill="none" stroke="#f5193c" stroke-width="1.5" />
<circle cx="182.9" cy="192.8" r="1.9" fill="none" stroke="#21692a" stroke-width="1.3"/>
<circle cx="185.2" cy="209.2" r="1.9" fill="none" stroke="#21692a" stroke-width="1.3"/>
<circle cx="186.2" cy="218.6" r="1.9" fill="none" stroke="#21692a" stroke-width="1.3"/>
<circle cx="191" cy="235.2" r="1.9" fill="none" stroke="#21692a" stroke-width="1.3"/>
<circle cx="208.8" cy="244.9" r="1.9" fill="none" stroke="#21692a" stroke-width="1.3"/>
<circle cx="246" cy="252.7" r="1.9" fill="none" stroke="#21692a" stroke-width="1.3"/>
<circle cx="274.8" cy="264.5" r="1.9" fill="none" stroke="#21692a" stroke-width="1.3"/>
<path d="M182.7,187.86 L187.7,187.86 L185.2,192.19 Z" fill="none" stroke="#f2a81d" stroke-width="1.3" stroke-linejoin="miter"/>
<path d="M185.6,206.56 L190.6,206.56 L188.1,210.89 Z" fill="none" stroke="#f2a81d" stroke-width="1.3" stroke-linejoin="miter"/>
<path d="M187.9,219.46 L192.9,219.46 L190.4,223.79 Z" fill="none" stroke="#f2a81d" stroke-width="1.3" stroke-linejoin="miter"/>
<path d="M189.8,229.56 L194.8,229.56 L192.3,233.89 Z" fill="none" stroke="#f2a81d" stroke-width="1.3" stroke-linejoin="miter"/>
<path d="M206.3,252.56 L211.3,252.56 L208.8,256.89 Z" fill="none" stroke="#f2a81d" stroke-width="1.3" stroke-linejoin="miter"/>
<path d="M232.5,254.76 L237.5,254.76 L235,259.09 Z" fill="none" stroke="#f2a81d" stroke-width="1.3" stroke-linejoin="miter"/>
<path d="M243.5,259.96 L248.5,259.96 L246,264.29 Z" fill="none" stroke="#f2a81d" stroke-width="1.3" stroke-linejoin="miter"/>
<path d="M184,202 L186.5,204.5 L184,207 L181.5,204.5 Z" fill="none" stroke="#f5193c" stroke-width="1.3" />
<path d="M186.1,210.2 L188.6,212.7 L186.1,215.2 L183.6,212.7 Z" fill="none" stroke="#f5193c" stroke-width="1.3" />
<path d="M187.2,218.9 L189.7,221.4 L187.2,223.9 L184.7,221.4 Z" fill="none" stroke="#f5193c" stroke-width="1.3" />
<path d="M188.2,222.2 L190.7,224.7 L188.2,227.2 L185.7,224.7 Z" fill="none" stroke="#f5193c" stroke-width="1.3" />
<path d="M190.4,229.3 L192.9,231.8 L190.4,234.3 L187.9,231.8 Z" fill="none" stroke="#f5193c" stroke-width="1.3" />
<path d="M208,245 L210.5,247.5 L208,250 L205.5,247.5 Z" fill="none" stroke="#f5193c" stroke-width="1.3" />
<path d="M235.5,256.8 L238,259.3 L235.5,261.8 L233,259.3 Z" fill="none" stroke="#f5193c" stroke-width="1.3" />
<path d="M246,257.5 L248.5,260 L246,262.5 L243.5,260 Z" fill="none" stroke="#f5193c" stroke-width="1.3" />
<path d="M266.4,257.3 L268.9,259.8 L266.4,262.3 L263.9,259.8 Z" fill="none" stroke="#f5193c" stroke-width="1.3" />
<path d="M274.8,256.3 L277.3,258.8 L274.8,261.3 L272.3,258.8 Z" fill="none" stroke="#f5193c" stroke-width="1.3" />
<rect x="174.5" y="161.5" width="107" height="112" fill="none" stroke="#222" stroke-width="1" />
<line x1="281.5" y1="162" x2="281.5" y2="273" stroke="#fff" stroke-width="1.05" />
<line x1="281.5" y1="162" x2="281.5" y2="273" stroke="#888888" stroke-width="1" />
<line x1="174.5" y1="162" x2="174.5" y2="273" stroke="#fff" stroke-width="1.05" />
<line x1="174.5" y1="162" x2="174.5" y2="273" stroke="#bbbbbb" stroke-width="1" />
<line x1="172.5" y1="260.7" x2="174.5" y2="260.7" stroke="#222" stroke-width="0.8" />
<line x1="281.5" y1="260.7" x2="280" y2="260.7" stroke="#222" stroke-width="0.8" />
<line x1="172.5" y1="235.95" x2="174.5" y2="235.95" stroke="#222" stroke-width="0.8" />
<line x1="281.5" y1="235.95" x2="280" y2="235.95" stroke="#222" stroke-width="0.8" />
<line x1="172.5" y1="211.2" x2="174.5" y2="211.2" stroke="#222" stroke-width="0.8" />
<line x1="281.5" y1="211.2" x2="280" y2="211.2" stroke="#222" stroke-width="0.8" />
<line x1="172.5" y1="186.45" x2="174.5" y2="186.45" stroke="#222" stroke-width="0.8" />
<line x1="281.5" y1="186.45" x2="280" y2="186.45" stroke="#222" stroke-width="0.8" />
<line x1="172.5" y1="161.7" x2="174.5" y2="161.7" stroke="#222" stroke-width="0.8" />
<line x1="281.5" y1="161.7" x2="280" y2="161.7" stroke="#222" stroke-width="0.8" />
<line x1="173.3" y1="248.32" x2="174.5" y2="248.32" stroke="#222" stroke-width="0.8" />
<line x1="281.5" y1="248.32" x2="280.5" y2="248.32" stroke="#222" stroke-width="0.8" />
<line x1="173.3" y1="223.57" x2="174.5" y2="223.57" stroke="#222" stroke-width="0.8" />
<line x1="281.5" y1="223.57" x2="280.5" y2="223.57" stroke="#222" stroke-width="0.8" />
<line x1="173.3" y1="198.82" x2="174.5" y2="198.82" stroke="#222" stroke-width="0.8" />
<line x1="281.5" y1="198.82" x2="280.5" y2="198.82" stroke="#222" stroke-width="0.8" />
<line x1="173.3" y1="174.07" x2="174.5" y2="174.07" stroke="#222" stroke-width="0.8" />
<line x1="281.5" y1="174.07" x2="280.5" y2="174.07" stroke="#222" stroke-width="0.8" />
<line x1="181.6" y1="273.5" x2="181.6" y2="275.5" stroke="#222" stroke-width="0.8" />
<line x1="181.6" y1="161.5" x2="181.6" y2="163" stroke="#222" stroke-width="0.8" />
<line x1="198.22" y1="273.5" x2="198.22" y2="275.5" stroke="#222" stroke-width="0.8" />
<line x1="198.22" y1="161.5" x2="198.22" y2="163" stroke="#222" stroke-width="0.8" />
<line x1="214.84" y1="273.5" x2="214.84" y2="275.5" stroke="#222" stroke-width="0.8" />
<line x1="214.84" y1="161.5" x2="214.84" y2="163" stroke="#222" stroke-width="0.8" />
<line x1="231.46" y1="273.5" x2="231.46" y2="275.5" stroke="#222" stroke-width="0.8" />
<line x1="231.46" y1="161.5" x2="231.46" y2="163" stroke="#222" stroke-width="0.8" />
<line x1="248.08" y1="273.5" x2="248.08" y2="275.5" stroke="#222" stroke-width="0.8" />
<line x1="248.08" y1="161.5" x2="248.08" y2="163" stroke="#222" stroke-width="0.8" />
<line x1="264.7" y1="273.5" x2="264.7" y2="275.5" stroke="#222" stroke-width="0.8" />
<line x1="264.7" y1="161.5" x2="264.7" y2="163" stroke="#222" stroke-width="0.8" />
<line x1="281.32" y1="273.5" x2="281.32" y2="275.5" stroke="#222" stroke-width="0.8" />
<line x1="281.32" y1="161.5" x2="281.32" y2="163" stroke="#222" stroke-width="0.8" />
<line x1="189.91" y1="273.5" x2="189.91" y2="274.7" stroke="#222" stroke-width="0.8" />
<line x1="189.91" y1="161.5" x2="189.91" y2="162.5" stroke="#222" stroke-width="0.8" />
<line x1="206.53" y1="273.5" x2="206.53" y2="274.7" stroke="#222" stroke-width="0.8" />
<line x1="206.53" y1="161.5" x2="206.53" y2="162.5" stroke="#222" stroke-width="0.8" />
<line x1="223.15" y1="273.5" x2="223.15" y2="274.7" stroke="#222" stroke-width="0.8" />
<line x1="223.15" y1="161.5" x2="223.15" y2="162.5" stroke="#222" stroke-width="0.8" />
<line x1="239.77" y1="273.5" x2="239.77" y2="274.7" stroke="#222" stroke-width="0.8" />
<line x1="239.77" y1="161.5" x2="239.77" y2="162.5" stroke="#222" stroke-width="0.8" />
<line x1="256.39" y1="273.5" x2="256.39" y2="274.7" stroke="#222" stroke-width="0.8" />
<line x1="256.39" y1="161.5" x2="256.39" y2="162.5" stroke="#222" stroke-width="0.8" />
<line x1="273.01" y1="273.5" x2="273.01" y2="274.7" stroke="#222" stroke-width="0.8" />
<line x1="273.01" y1="161.5" x2="273.01" y2="162.5" stroke="#222" stroke-width="0.8" />
<text x="171.6" y="263.74" font-size="8.5" text-anchor="end" font-weight="normal" fill="#000" >0.01</text>
<text x="171.6" y="238.99" font-size="8.5" text-anchor="end" font-weight="normal" fill="#000" >0.015</text>
<text x="171.6" y="214.24" font-size="8.5" text-anchor="end" font-weight="normal" fill="#000" >0.02</text>
<text x="171.6" y="189.49" font-size="8.5" text-anchor="end" font-weight="normal" fill="#000" >0.025</text>
<text x="171.6" y="164.74" font-size="8.5" text-anchor="end" font-weight="normal" fill="#000" >0.03</text>
<text x="181.6" y="284.4" font-size="8.5" text-anchor="middle" font-weight="normal" fill="#000" >0</text>
<text x="198.22" y="284.4" font-size="8.5" text-anchor="middle" font-weight="normal" fill="#000" >12</text>
<text x="214.84" y="284.4" font-size="8.5" text-anchor="middle" font-weight="normal" fill="#000" >24</text>
<text x="231.46" y="284.4" font-size="8.5" text-anchor="middle" font-weight="normal" fill="#000" >36</text>
<text x="248.08" y="284.4" font-size="8.5" text-anchor="middle" font-weight="normal" fill="#000" >48</text>
<text x="264.7" y="284.4" font-size="8.5" text-anchor="middle" font-weight="normal" fill="#000" >60</text>
<text x="281.32" y="284.4" font-size="8.5" text-anchor="middle" font-weight="normal" fill="#000" >72</text>
<text x="228.2" y="295.6" font-size="8.2" text-anchor="middle" font-weight="normal" fill="#000" >Time (h)</text>
<text transform="translate(145,216.5) rotate(-90)" font-size="8.2" text-anchor="middle">Abs<tspan font-size="5" dy="1.8">400nm</tspan></text>
<rect x="174.5" y="161.5" width="16.6" height="14.3" fill="#000" stroke="none" stroke-width="1" />
<text x="182.8" y="173.15" font-size="12.5" text-anchor="middle" font-weight="bold" fill="#fff" style="stroke:#fff">D</text>
<text x="190.3" y="157.8" font-size="6.1" text-anchor="start" font-weight="normal" fill="#000"  class="s">Mn<tspan dy="1.83" font-size="4.03">2</tspan><tspan dy="-1.83">P</tspan><tspan dy="1.83" font-size="4.03">2</tspan><tspan dy="-1.83">S</tspan><tspan dy="1.83" font-size="4.03">6</tspan><tspan dy="-1.83">, Large (0.6-3k g)</tspan></text>
<text x="221" y="170.7" font-size="6.2" text-anchor="start" font-weight="normal" fill="#000"  class="s">Storage Temperature</text>
<circle cx="227.8" cy="176.1" r="1.9" fill="none" stroke="#21692a" stroke-width="1.3"/>
<path d="M225.3,182.26 L230.3,182.26 L227.8,186.59 Z" fill="none" stroke="#f2a81d" stroke-width="1.3" stroke-linejoin="miter"/>
<path d="M227.8,188.4 L230.3,190.9 L227.8,193.4 L225.3,190.9 Z" fill="none" stroke="#f5193c" stroke-width="1.3" />
<text x="235.8" y="178.3" font-size="6.3" text-anchor="start" font-weight="normal" fill="#000"  class="s">20°C</text>
<text x="235.8" y="185.9" font-size="6.3" text-anchor="start" font-weight="normal" fill="#000"  class="s">40°C</text>
<text x="235.8" y="193.1" font-size="6.3" text-anchor="start" font-weight="normal" fill="#000"  class="s">60°C</text>
<line x1="327.4" y1="201.5" x2="327.4" y2="232.5" stroke="#7080f0" stroke-width="0.6" />
<line x1="326.2" y1="201.5" x2="328.6" y2="201.5" stroke="#7080f0" stroke-width="0.6" />
<line x1="326.2" y1="232.5" x2="328.6" y2="232.5" stroke="#7080f0" stroke-width="0.6" />
<line x1="327.4" y1="236" x2="327.4" y2="257.5" stroke="#7080f0" stroke-width="0.6" />
<line x1="326.2" y1="236" x2="328.6" y2="236" stroke="#7080f0" stroke-width="0.6" />
<line x1="326.2" y1="257.5" x2="328.6" y2="257.5" stroke="#7080f0" stroke-width="0.6" />
<line x1="368.7" y1="195.7" x2="368.7" y2="210.8" stroke="#7080f0" stroke-width="0.6" />
<line x1="367.5" y1="195.7" x2="369.9" y2="195.7" stroke="#7080f0" stroke-width="0.6" />
<line x1="367.5" y1="210.8" x2="369.9" y2="210.8" stroke="#7080f0" stroke-width="0.6" />
<line x1="414.1" y1="173.6" x2="414.1" y2="189.6" stroke="#7080f0" stroke-width="0.6" />
<line x1="412.9" y1="173.6" x2="415.3" y2="173.6" stroke="#7080f0" stroke-width="0.6" />
<line x1="412.9" y1="189.6" x2="415.3" y2="189.6" stroke="#7080f0" stroke-width="0.6" />
<line x1="414.1" y1="199.9" x2="414.1" y2="219" stroke="#7080f0" stroke-width="0.6" />
<line x1="412.9" y1="199.9" x2="415.3" y2="199.9" stroke="#7080f0" stroke-width="0.6" />
<line x1="412.9" y1="219" x2="415.3" y2="219" stroke="#7080f0" stroke-width="0.6" />
<line x1="368.7" y1="229" x2="368.7" y2="237" stroke="#90e8f8" stroke-width="0.6" />
<line x1="367.7" y1="229" x2="369.7" y2="229" stroke="#90e8f8" stroke-width="0.6" />
<line x1="367.7" y1="237" x2="369.7" y2="237" stroke="#90e8f8" stroke-width="0.6" />
<line x1="414.1" y1="222" x2="414.1" y2="231" stroke="#90e8f8" stroke-width="0.6" />
<line x1="413.1" y1="222" x2="415.1" y2="222" stroke="#90e8f8" stroke-width="0.6" />
<line x1="413.1" y1="231" x2="415.1" y2="231" stroke="#90e8f8" stroke-width="0.6" />
<line x1="327.4" y1="219.5" x2="414.1" y2="184" stroke="#2038f0" stroke-width="1.5" />
<line x1="327.4" y1="246.3" x2="414.1" y2="213.8" stroke="#14148c" stroke-width="1.5" />
<line x1="327.4" y1="237" x2="414.1" y2="226.5" stroke="#10e8f4" stroke-width="1.5" />
<path d="M324.6,218.62 L330.2,218.62 L327.4,213.77 Z" fill="#a0a8ff" stroke="#2038f0" stroke-width="1" stroke-linejoin="miter"/>
<path d="M365.9,203.32 L371.5,203.32 L368.7,198.47 Z" fill="#3048f0" stroke="#2038f0" stroke-width="1" stroke-linejoin="miter"/>
<path d="M411.3,182.82 L416.9,182.82 L414.1,177.97 Z" fill="#3048f0" stroke="#2038f0" stroke-width="1" stroke-linejoin="miter"/>
<path d="M324.5,247.07 L330.3,247.07 L327.4,242.05 Z" fill="#14148c" stroke="none" stroke-width="0" stroke-linejoin="miter"/>
<path d="M365.8,234.27 L371.6,234.27 L368.7,229.25 Z" fill="#14148c" stroke="none" stroke-width="0" stroke-linejoin="miter"/>
<path d="M411.2,210.67 L417,210.67 L414.1,205.65 Z" fill="#14148c" stroke="none" stroke-width="0" stroke-linejoin="miter"/>
<line x1="324.9" y1="234.5" x2="329.9" y2="239.5" stroke="#10e8f4" stroke-width="1.3" />
<line x1="324.9" y1="239.5" x2="329.9" y2="234.5" stroke="#10e8f4" stroke-width="1.3" />
<line x1="324.4" y1="237" x2="330.4" y2="237" stroke="#10e8f4" stroke-width="1.04" />
<line x1="327.4" y1="234" x2="327.4" y2="240" stroke="#10e8f4" stroke-width="1.04" />
<line x1="366.2" y1="231" x2="371.2" y2="236" stroke="#10e8f4" stroke-width="1.3" />
<line x1="366.2" y1="236" x2="371.2" y2="231" stroke="#10e8f4" stroke-width="1.3" />
<line x1="365.7" y1="233.5" x2="371.7" y2="233.5" stroke="#10e8f4" stroke-width="1.04" />
<line x1="368.7" y1="230.5" x2="368.7" y2="236.5" stroke="#10e8f4" stroke-width="1.04" />
<line x1="411.6" y1="224" x2="416.6" y2="229" stroke="#10e8f4" stroke-width="1.3" />
<line x1="411.6" y1="229" x2="416.6" y2="224" stroke="#10e8f4" stroke-width="1.3" />
<line x1="411.1" y1="226.5" x2="417.1" y2="226.5" stroke="#10e8f4" stroke-width="1.04" />
<line x1="414.1" y1="223.5" x2="414.1" y2="229.5" stroke="#10e8f4" stroke-width="1.04" />
<rect x="316.5" y="161.5" width="106.8" height="112.5" fill="none" stroke="#222" stroke-width="1" />
<line x1="316.5" y1="162" x2="316.5" y2="273.5" stroke="#fff" stroke-width="1.05" />
<line x1="316.5" y1="162" x2="316.5" y2="273.5" stroke="#222222" stroke-width="1" />
<line x1="314.5" y1="256.6" x2="316.5" y2="256.6" stroke="#222" stroke-width="0.8" />
<line x1="423.3" y1="256.6" x2="421.8" y2="256.6" stroke="#222" stroke-width="0.8" />
<line x1="314.5" y1="234.57" x2="316.5" y2="234.57" stroke="#222" stroke-width="0.8" />
<line x1="423.3" y1="234.57" x2="421.8" y2="234.57" stroke="#222" stroke-width="0.8" />
<line x1="314.5" y1="212.55" x2="316.5" y2="212.55" stroke="#222" stroke-width="0.8" />
<line x1="423.3" y1="212.55" x2="421.8" y2="212.55" stroke="#222" stroke-width="0.8" />
<line x1="314.5" y1="190.53" x2="316.5" y2="190.53" stroke="#222" stroke-width="0.8" />
<line x1="423.3" y1="190.53" x2="421.8" y2="190.53" stroke="#222" stroke-width="0.8" />
<line x1="314.5" y1="168.5" x2="316.5" y2="168.5" stroke="#222" stroke-width="0.8" />
<line x1="423.3" y1="168.5" x2="421.8" y2="168.5" stroke="#222" stroke-width="0.8" />
<line x1="315.5" y1="274.22" x2="316.5" y2="274.22" stroke="#222" stroke-width="0.6" />
<line x1="423.3" y1="274.22" x2="422.5" y2="274.22" stroke="#222" stroke-width="0.6" />
<line x1="315.5" y1="269.81" x2="316.5" y2="269.81" stroke="#222" stroke-width="0.6" />
<line x1="423.3" y1="269.81" x2="422.5" y2="269.81" stroke="#222" stroke-width="0.6" />
<line x1="315.5" y1="265.41" x2="316.5" y2="265.41" stroke="#222" stroke-width="0.6" />
<line x1="423.3" y1="265.41" x2="422.5" y2="265.41" stroke="#222" stroke-width="0.6" />
<line x1="315.5" y1="261" x2="316.5" y2="261" stroke="#222" stroke-width="0.6" />
<line x1="423.3" y1="261" x2="422.5" y2="261" stroke="#222" stroke-width="0.6" />
<line x1="315.5" y1="252.19" x2="316.5" y2="252.19" stroke="#222" stroke-width="0.6" />
<line x1="423.3" y1="252.19" x2="422.5" y2="252.19" stroke="#222" stroke-width="0.6" />
<line x1="315.5" y1="247.79" x2="316.5" y2="247.79" stroke="#222" stroke-width="0.6" />
<line x1="423.3" y1="247.79" x2="422.5" y2="247.79" stroke="#222" stroke-width="0.6" />
<line x1="315.5" y1="243.38" x2="316.5" y2="243.38" stroke="#222" stroke-width="0.6" />
<line x1="423.3" y1="243.38" x2="422.5" y2="243.38" stroke="#222" stroke-width="0.6" />
<line x1="315.5" y1="238.98" x2="316.5" y2="238.98" stroke="#222" stroke-width="0.6" />
<line x1="423.3" y1="238.98" x2="422.5" y2="238.98" stroke="#222" stroke-width="0.6" />
<line x1="315.5" y1="230.17" x2="316.5" y2="230.17" stroke="#222" stroke-width="0.6" />
<line x1="423.3" y1="230.17" x2="422.5" y2="230.17" stroke="#222" stroke-width="0.6" />
<line x1="315.5" y1="225.76" x2="316.5" y2="225.76" stroke="#222" stroke-width="0.6" />
<line x1="423.3" y1="225.76" x2="422.5" y2="225.76" stroke="#222" stroke-width="0.6" />
<line x1="315.5" y1="221.36" x2="316.5" y2="221.36" stroke="#222" stroke-width="0.6" />
<line x1="423.3" y1="221.36" x2="422.5" y2="221.36" stroke="#222" stroke-width="0.6" />
<line x1="315.5" y1="216.95" x2="316.5" y2="216.95" stroke="#222" stroke-width="0.6" />
<line x1="423.3" y1="216.95" x2="422.5" y2="216.95" stroke="#222" stroke-width="0.6" />
<line x1="315.5" y1="208.14" x2="316.5" y2="208.14" stroke="#222" stroke-width="0.6" />
<line x1="423.3" y1="208.14" x2="422.5" y2="208.14" stroke="#222" stroke-width="0.6" />
<line x1="315.5" y1="203.74" x2="316.5" y2="203.74" stroke="#222" stroke-width="0.6" />
<line x1="423.3" y1="203.74" x2="422.5" y2="203.74" stroke="#222" stroke-width="0.6" />
<line x1="315.5" y1="199.33" x2="316.5" y2="199.33" stroke="#222" stroke-width="0.6" />
<line x1="423.3" y1="199.33" x2="422.5" y2="199.33" stroke="#222" stroke-width="0.6" />
<line x1="315.5" y1="194.93" x2="316.5" y2="194.93" stroke="#222" stroke-width="0.6" />
<line x1="423.3" y1="194.93" x2="422.5" y2="194.93" stroke="#222" stroke-width="0.6" />
<line x1="315.5" y1="186.12" x2="316.5" y2="186.12" stroke="#222" stroke-width="0.6" />
<line x1="423.3" y1="186.12" x2="422.5" y2="186.12" stroke="#222" stroke-width="0.6" />
<line x1="315.5" y1="181.72" x2="316.5" y2="181.72" stroke="#222" stroke-width="0.6" />
<line x1="423.3" y1="181.72" x2="422.5" y2="181.72" stroke="#222" stroke-width="0.6" />
<line x1="315.5" y1="177.31" x2="316.5" y2="177.31" stroke="#222" stroke-width="0.6" />
<line x1="423.3" y1="177.31" x2="422.5" y2="177.31" stroke="#222" stroke-width="0.6" />
<line x1="315.5" y1="172.9" x2="316.5" y2="172.9" stroke="#222" stroke-width="0.6" />
<line x1="423.3" y1="172.9" x2="422.5" y2="172.9" stroke="#222" stroke-width="0.6" />
<line x1="315.5" y1="164.09" x2="316.5" y2="164.09" stroke="#222" stroke-width="0.6" />
<line x1="423.3" y1="164.09" x2="422.5" y2="164.09" stroke="#222" stroke-width="0.6" />
<line x1="327.4" y1="274" x2="327.4" y2="276" stroke="#222" stroke-width="0.8" />
<line x1="327.4" y1="161.5" x2="327.4" y2="163" stroke="#222" stroke-width="0.8" />
<line x1="348.7" y1="274" x2="348.7" y2="276" stroke="#222" stroke-width="0.8" />
<line x1="348.7" y1="161.5" x2="348.7" y2="163" stroke="#222" stroke-width="0.8" />
<line x1="370" y1="274" x2="370" y2="276" stroke="#222" stroke-width="0.8" />
<line x1="370" y1="161.5" x2="370" y2="163" stroke="#222" stroke-width="0.8" />
<line x1="391.3" y1="274" x2="391.3" y2="276" stroke="#222" stroke-width="0.8" />
<line x1="391.3" y1="161.5" x2="391.3" y2="163" stroke="#222" stroke-width="0.8" />
<line x1="412.6" y1="274" x2="412.6" y2="276" stroke="#222" stroke-width="0.8" />
<line x1="412.6" y1="161.5" x2="412.6" y2="163" stroke="#222" stroke-width="0.8" />
<line x1="338.05" y1="274" x2="338.05" y2="275.2" stroke="#222" stroke-width="0.8" />
<line x1="338.05" y1="161.5" x2="338.05" y2="162.5" stroke="#222" stroke-width="0.8" />
<line x1="359.35" y1="274" x2="359.35" y2="275.2" stroke="#222" stroke-width="0.8" />
<line x1="359.35" y1="161.5" x2="359.35" y2="162.5" stroke="#222" stroke-width="0.8" />
<line x1="380.65" y1="274" x2="380.65" y2="275.2" stroke="#222" stroke-width="0.8" />
<line x1="380.65" y1="161.5" x2="380.65" y2="162.5" stroke="#222" stroke-width="0.8" />
<line x1="401.95" y1="274" x2="401.95" y2="275.2" stroke="#222" stroke-width="0.8" />
<line x1="401.95" y1="161.5" x2="401.95" y2="162.5" stroke="#222" stroke-width="0.8" />
<line x1="423.25" y1="274" x2="423.25" y2="275.2" stroke="#222" stroke-width="0.8" />
<line x1="423.25" y1="161.5" x2="423.25" y2="162.5" stroke="#222" stroke-width="0.8" />
<text x="315.1" y="277.26" font-size="8.5" text-anchor="end" font-weight="normal" fill="#000" >1.1</text>
<text x="315.1" y="259.64" font-size="8.5" text-anchor="end" font-weight="normal" fill="#000" >1.5</text>
<text x="315.1" y="237.61" font-size="8.5" text-anchor="end" font-weight="normal" fill="#000" >2</text>
<text x="315.1" y="215.59" font-size="8.5" text-anchor="end" font-weight="normal" fill="#000" >2.5</text>
<text x="315.1" y="193.56" font-size="8.5" text-anchor="end" font-weight="normal" fill="#000" >3</text>
<text x="315.1" y="171.54" font-size="8.5" text-anchor="end" font-weight="normal" fill="#000" >3.5</text>
<text x="327.4" y="282.3" font-size="8.5" text-anchor="middle" font-weight="normal" fill="#000" >3</text>
<text x="348.7" y="282.3" font-size="8.5" text-anchor="middle" font-weight="normal" fill="#000" >3.1</text>
<text x="370" y="282.3" font-size="8.5" text-anchor="middle" font-weight="normal" fill="#000" >3.2</text>
<text x="391.3" y="282.3" font-size="8.5" text-anchor="middle" font-weight="normal" fill="#000" >3.3</text>
<text x="412.6" y="282.3" font-size="8.5" text-anchor="middle" font-weight="normal" fill="#000" >3.4</text>
<text x="370" y="295.2" font-size="8.2" text-anchor="middle">T<tspan font-size="5" dy="-3">-1</tspan><tspan dy="3"> (10</tspan><tspan font-size="5" dy="-3">3</tspan><tspan dy="3"> K</tspan><tspan font-size="5" dy="-3">-1</tspan><tspan dy="3">)</tspan></text>
<text transform="translate(298.4,217.3) rotate(-90)" font-size="8.6" text-anchor="middle">ln(t<tspan font-size="5.6" dy="1.8">1/2</tspan><tspan dy="-1.8">)</tspan></text>
<rect x="316.5" y="161.5" width="16.2" height="14.3" fill="#000" stroke="none" stroke-width="1" />
<text x="324.6" y="173.15" font-size="12.5" text-anchor="middle" font-weight="bold" fill="#fff" style="stroke:#fff">F</text>
<text x="335.3" y="158.8" font-size="6.1" text-anchor="start" font-weight="normal" fill="#000"  class="s">Arrhenius plot for Mn<tspan dy="1.83" font-size="4.03">2</tspan><tspan dy="-1.83">P</tspan><tspan dy="1.83" font-size="4.03">2</tspan><tspan dy="-1.83">S</tspan><tspan dy="1.83" font-size="4.03">6</tspan></text>
<path d="M365.1,254.32 L370.7,254.32 L367.9,249.47 Z" fill="#14148c" stroke="none" stroke-width="0" stroke-linejoin="miter"/>
<path d="M365.1,261.12 L370.7,261.12 L367.9,256.27 Z" fill="#a0a8ff" stroke="#2038f0" stroke-width="1" stroke-linejoin="miter"/>
<line x1="365.7" y1="264.6" x2="370.1" y2="269" stroke="#10e8f4" stroke-width="1.2" />
<line x1="365.7" y1="269" x2="370.1" y2="264.6" stroke="#10e8f4" stroke-width="1.2" />
<line x1="365.26" y1="266.8" x2="370.54" y2="266.8" stroke="#10e8f4" stroke-width="0.96" />
<line x1="367.9" y1="264.16" x2="367.9" y2="269.44" stroke="#10e8f4" stroke-width="0.96" />
<text x="374.7" y="254.7" font-size="5.5" text-anchor="start" font-weight="normal" fill="#000"  class="s">Large (0.6-3k g)</text>
<text x="374.7" y="261.5" font-size="5.5" text-anchor="start" font-weight="normal" fill="#000"  class="s">Medium (3-10k g)</text>
<text x="374.7" y="268.8" font-size="5.5" text-anchor="start" font-weight="normal" fill="#000"  class="s">Small (10-50k g)</text>
<path d="M464.5,188.7 C467.42,189.58 476.42,192.45 482,194 C487.58,195.55 492.5,196.75 498,198 C503.5,199.25 509.5,199.97 515,201.5 C520.5,203.03 526,205.23 531,207.2 C536,209.17 541,211.12 545,213.3 C549,215.48 552.42,218.02 555,220.3 C557.58,222.58 559.12,224.38 560.5,227 C561.88,229.62 562.63,232.5 563.3,236 C563.97,239.5 564.3,246 564.5,248" fill="none" stroke="#b8b8b8" stroke-width="1.1" stroke-dasharray="4,2.5"/>
<path d="M464,184.9 L464.69,186.55 L466.47,186.7 L465.11,187.86 L465.53,189.6 L464,188.67 L462.47,189.6 L462.89,187.86 L461.53,186.7 L463.31,186.55 Z" fill="#b8b8b8" stroke="none" stroke-width="0.5" />
<path d="M491.8,188.1 L492.49,189.75 L494.27,189.9 L492.91,191.06 L493.33,192.8 L491.8,191.87 L490.27,192.8 L490.69,191.06 L489.33,189.9 L491.11,189.75 Z" fill="#b8b8b8" stroke="none" stroke-width="0.5" />
<path d="M495.2,195.6 L495.89,197.25 L497.67,197.4 L496.31,198.56 L496.73,200.3 L495.2,199.37 L493.67,200.3 L494.09,198.56 L492.73,197.4 L494.51,197.25 Z" fill="#b8b8b8" stroke="none" stroke-width="0.5" />
<path d="M497.2,197.6 L497.89,199.25 L499.67,199.4 L498.31,200.56 L498.73,202.3 L497.2,201.37 L495.67,202.3 L496.09,200.56 L494.73,199.4 L496.51,199.25 Z" fill="#b8b8b8" stroke="none" stroke-width="0.5" />
<path d="M500.7,194.5 L501.39,196.15 L503.17,196.3 L501.81,197.46 L502.23,199.2 L500.7,198.27 L499.17,199.2 L499.59,197.46 L498.23,196.3 L500.01,196.15 Z" fill="#b8b8b8" stroke="none" stroke-width="0.5" />
<path d="M505.3,198.2 L505.99,199.85 L507.77,200 L506.41,201.16 L506.83,202.9 L505.3,201.97 L503.77,202.9 L504.19,201.16 L502.83,200 L504.61,199.85 Z" fill="#b8b8b8" stroke="none" stroke-width="0.5" />
<path d="M507.9,191.9 L508.59,193.55 L510.37,193.7 L509.01,194.86 L509.43,196.6 L507.9,195.67 L506.37,196.6 L506.79,194.86 L505.43,193.7 L507.21,193.55 Z" fill="#b8b8b8" stroke="none" stroke-width="0.5" />
<path d="M507.9,200.2 L508.59,201.85 L510.37,202 L509.01,203.16 L509.43,204.9 L507.9,203.97 L506.37,204.9 L506.79,203.16 L505.43,202 L507.21,201.85 Z" fill="#b8b8b8" stroke="none" stroke-width="0.5" />
<path d="M512.7,201 L513.39,202.65 L515.17,202.8 L513.81,203.96 L514.23,205.7 L512.7,204.77 L511.17,205.7 L511.59,203.96 L510.23,202.8 L512.01,202.65 Z" fill="#b8b8b8" stroke="none" stroke-width="0.5" />
<path d="M523.1,209.7 L523.79,211.35 L525.57,211.5 L524.21,212.66 L524.63,214.4 L523.1,213.47 L521.57,214.4 L521.99,212.66 L520.63,211.5 L522.41,211.35 Z" fill="#b8b8b8" stroke="none" stroke-width="0.5" />
<path d="M535.1,208.7 L535.79,210.35 L537.57,210.5 L536.21,211.66 L536.63,213.4 L535.1,212.47 L533.57,213.4 L533.99,211.66 L532.63,210.5 L534.41,210.35 Z" fill="#b8b8b8" stroke="none" stroke-width="0.5" />
<path d="M547.2,221.4 L547.89,223.05 L549.67,223.2 L548.31,224.36 L548.73,226.1 L547.2,225.17 L545.67,226.1 L546.09,224.36 L544.73,223.2 L546.51,223.05 Z" fill="#b8b8b8" stroke="none" stroke-width="0.5" />
<path d="M552.2,220.8 L552.89,222.45 L554.67,222.6 L553.31,223.76 L553.73,225.5 L552.2,224.57 L550.67,225.5 L551.09,223.76 L549.73,222.6 L551.51,222.45 Z" fill="#b8b8b8" stroke="none" stroke-width="0.5" />
<path d="M556.3,221.4 L556.99,223.05 L558.77,223.2 L557.41,224.36 L557.83,226.1 L556.3,225.17 L554.77,226.1 L555.19,224.36 L553.83,223.2 L555.61,223.05 Z" fill="#b8b8b8" stroke="none" stroke-width="0.5" />
<path d="M560.3,220.1 L560.99,221.75 L562.77,221.9 L561.41,223.06 L561.83,224.8 L560.3,223.87 L558.77,224.8 L559.19,223.06 L557.83,221.9 L559.61,221.75 Z" fill="#b8b8b8" stroke="none" stroke-width="0.5" />
<path d="M562.3,216.7 L562.99,218.35 L564.77,218.5 L563.41,219.66 L563.83,221.4 L562.3,220.47 L560.77,221.4 L561.19,219.66 L559.83,218.5 L561.61,218.35 Z" fill="#b8b8b8" stroke="none" stroke-width="0.5" />
<path d="M561.9,230.5 L562.59,232.15 L564.37,232.3 L563.01,233.46 L563.43,235.2 L561.9,234.27 L560.37,235.2 L560.79,233.46 L559.43,232.3 L561.21,232.15 Z" fill="#b8b8b8" stroke="none" stroke-width="0.5" />
<path d="M563,238.1 L563.69,239.75 L565.47,239.9 L564.11,241.06 L564.53,242.8 L563,241.87 L561.47,242.8 L561.89,241.06 L560.53,239.9 L562.31,239.75 Z" fill="#b8b8b8" stroke="none" stroke-width="0.5" />
<path d="M530.7,185.7 C533.45,186.43 542.6,187.68 547.2,190.1 C551.8,192.52 555.55,196.38 558.3,200.2 C561.05,204.02 562.5,208.37 563.7,213 C564.9,217.63 565.13,221.83 565.5,228 C565.87,234.17 565.83,242.42 565.9,250 C565.97,257.58 565.9,269.58 565.9,273.5" fill="none" stroke="#000" stroke-width="1.1" stroke-dasharray="3.5,2"/>
<rect x="544.9" y="183.2" width="3.8" height="3.8" fill="#000" stroke="#000" stroke-width="0" />
<rect x="543.3" y="193.3" width="3.8" height="3.8" fill="#000" stroke="#000" stroke-width="0" />
<rect x="547.7" y="195.3" width="3.8" height="3.8" fill="#000" stroke="#000" stroke-width="0" />
<rect x="551.4" y="196.7" width="3.8" height="3.8" fill="#000" stroke="#000" stroke-width="0" />
<rect x="557.8" y="200.3" width="3.8" height="3.8" fill="#000" stroke="#000" stroke-width="0" />
<rect x="559" y="210" width="3.8" height="3.8" fill="#000" stroke="#000" stroke-width="0" />
<rect x="562.4" y="214" width="3.8" height="3.8" fill="#000" stroke="#000" stroke-width="0" />
<circle cx="530.7" cy="185.7" r="2.3" fill="#f01010" stroke="none" stroke-width="0"/>
<circle cx="550.2" cy="190.5" r="2.3" fill="#f01010" stroke="none" stroke-width="0"/>
<circle cx="562.9" cy="196.2" r="2.3" fill="#f01010" stroke="none" stroke-width="0"/>
<circle cx="563.7" cy="202.6" r="2.3" fill="#f01010" stroke="none" stroke-width="0"/>
<circle cx="564.5" cy="207.2" r="2.3" fill="#f01010" stroke="none" stroke-width="0"/>
<circle cx="564.5" cy="211.3" r="2.3" fill="#f01010" stroke="none" stroke-width="0"/>
<path d="M562.1,227.9 L567.3,227.9 L564.7,223.4 Z" fill="#1010f0" stroke="none" stroke-width="0" stroke-linejoin="miter"/>
<path d="M564,236.6 L569.2,236.6 L566.6,232.1 Z" fill="#1010f0" stroke="none" stroke-width="0" stroke-linejoin="miter"/>
<path d="M563,241 L568.2,241 L565.6,236.5 Z" fill="#1010f0" stroke="none" stroke-width="0" stroke-linejoin="miter"/>
<path d="M563.8,246.4 L569,246.4 L566.4,241.9 Z" fill="#1010f0" stroke="none" stroke-width="0" stroke-linejoin="miter"/>
<path d="M562.4,248.8 L567.6,248.8 L565,244.3 Z" fill="#1010f0" stroke="none" stroke-width="0" stroke-linejoin="miter"/>
<rect x="464.5" y="161.5" width="109.3" height="112.2" fill="none" stroke="#222" stroke-width="1" />
<line x1="464.5" y1="162" x2="464.5" y2="273.2" stroke="#fff" stroke-width="1.05" />
<line x1="464.5" y1="162" x2="464.5" y2="273.2" stroke="#333333" stroke-width="1" />
<line x1="462.5" y1="271.7" x2="464.5" y2="271.7" stroke="#222" stroke-width="0.8" />
<line x1="573.8" y1="271.7" x2="572" y2="271.7" stroke="#222" stroke-width="0.8" />
<line x1="462.5" y1="235.03" x2="464.5" y2="235.03" stroke="#222" stroke-width="0.8" />
<line x1="573.8" y1="235.03" x2="572" y2="235.03" stroke="#222" stroke-width="0.8" />
<line x1="462.5" y1="198.36" x2="464.5" y2="198.36" stroke="#222" stroke-width="0.8" />
<line x1="573.8" y1="198.36" x2="572" y2="198.36" stroke="#222" stroke-width="0.8" />
<line x1="462.5" y1="161.69" x2="464.5" y2="161.69" stroke="#222" stroke-width="0.8" />
<line x1="573.8" y1="161.69" x2="572" y2="161.69" stroke="#222" stroke-width="0.8" />
<line x1="463.3" y1="260.66" x2="464.5" y2="260.66" stroke="#222" stroke-width="0.8" />
<line x1="573.8" y1="260.66" x2="572.8" y2="260.66" stroke="#222" stroke-width="0.8" />
<line x1="463.3" y1="254.2" x2="464.5" y2="254.2" stroke="#222" stroke-width="0.8" />
<line x1="573.8" y1="254.2" x2="572.8" y2="254.2" stroke="#222" stroke-width="0.8" />
<line x1="463.3" y1="249.62" x2="464.5" y2="249.62" stroke="#222" stroke-width="0.8" />
<line x1="573.8" y1="249.62" x2="572.8" y2="249.62" stroke="#222" stroke-width="0.8" />
<line x1="463.3" y1="246.07" x2="464.5" y2="246.07" stroke="#222" stroke-width="0.8" />
<line x1="573.8" y1="246.07" x2="572.8" y2="246.07" stroke="#222" stroke-width="0.8" />
<line x1="463.3" y1="243.17" x2="464.5" y2="243.17" stroke="#222" stroke-width="0.8" />
<line x1="573.8" y1="243.17" x2="572.8" y2="243.17" stroke="#222" stroke-width="0.8" />
<line x1="463.3" y1="240.71" x2="464.5" y2="240.71" stroke="#222" stroke-width="0.8" />
<line x1="573.8" y1="240.71" x2="572.8" y2="240.71" stroke="#222" stroke-width="0.8" />
<line x1="463.3" y1="238.58" x2="464.5" y2="238.58" stroke="#222" stroke-width="0.8" />
<line x1="573.8" y1="238.58" x2="572.8" y2="238.58" stroke="#222" stroke-width="0.8" />
<line x1="463.3" y1="236.71" x2="464.5" y2="236.71" stroke="#222" stroke-width="0.8" />
<line x1="573.8" y1="236.71" x2="572.8" y2="236.71" stroke="#222" stroke-width="0.8" />
<line x1="463.3" y1="223.99" x2="464.5" y2="223.99" stroke="#222" stroke-width="0.8" />
<line x1="573.8" y1="223.99" x2="572.8" y2="223.99" stroke="#222" stroke-width="0.8" />
<line x1="463.3" y1="217.53" x2="464.5" y2="217.53" stroke="#222" stroke-width="0.8" />
<line x1="573.8" y1="217.53" x2="572.8" y2="217.53" stroke="#222" stroke-width="0.8" />
<line x1="463.3" y1="212.95" x2="464.5" y2="212.95" stroke="#222" stroke-width="0.8" />
<line x1="573.8" y1="212.95" x2="572.8" y2="212.95" stroke="#222" stroke-width="0.8" />
<line x1="463.3" y1="209.4" x2="464.5" y2="209.4" stroke="#222" stroke-width="0.8" />
<line x1="573.8" y1="209.4" x2="572.8" y2="209.4" stroke="#222" stroke-width="0.8" />
<line x1="463.3" y1="206.5" x2="464.5" y2="206.5" stroke="#222" stroke-width="0.8" />
<line x1="573.8" y1="206.5" x2="572.8" y2="206.5" stroke="#222" stroke-width="0.8" />
<line x1="463.3" y1="204.04" x2="464.5" y2="204.04" stroke="#222" stroke-width="0.8" />
<line x1="573.8" y1="204.04" x2="572.8" y2="204.04" stroke="#222" stroke-width="0.8" />
<line x1="463.3" y1="201.91" x2="464.5" y2="201.91" stroke="#222" stroke-width="0.8" />
<line x1="573.8" y1="201.91" x2="572.8" y2="201.91" stroke="#222" stroke-width="0.8" />
<line x1="463.3" y1="200.04" x2="464.5" y2="200.04" stroke="#222" stroke-width="0.8" />
<line x1="573.8" y1="200.04" x2="572.8" y2="200.04" stroke="#222" stroke-width="0.8" />
<line x1="463.3" y1="187.32" x2="464.5" y2="187.32" stroke="#222" stroke-width="0.8" />
<line x1="573.8" y1="187.32" x2="572.8" y2="187.32" stroke="#222" stroke-width="0.8" />
<line x1="463.3" y1="180.86" x2="464.5" y2="180.86" stroke="#222" stroke-width="0.8" />
<line x1="573.8" y1="180.86" x2="572.8" y2="180.86" stroke="#222" stroke-width="0.8" />
<line x1="463.3" y1="176.28" x2="464.5" y2="176.28" stroke="#222" stroke-width="0.8" />
<line x1="573.8" y1="176.28" x2="572.8" y2="176.28" stroke="#222" stroke-width="0.8" />
<line x1="463.3" y1="172.73" x2="464.5" y2="172.73" stroke="#222" stroke-width="0.8" />
<line x1="573.8" y1="172.73" x2="572.8" y2="172.73" stroke="#222" stroke-width="0.8" />
<line x1="463.3" y1="169.83" x2="464.5" y2="169.83" stroke="#222" stroke-width="0.8" />
<line x1="573.8" y1="169.83" x2="572.8" y2="169.83" stroke="#222" stroke-width="0.8" />
<line x1="463.3" y1="167.37" x2="464.5" y2="167.37" stroke="#222" stroke-width="0.8" />
<line x1="573.8" y1="167.37" x2="572.8" y2="167.37" stroke="#222" stroke-width="0.8" />
<line x1="463.3" y1="165.24" x2="464.5" y2="165.24" stroke="#222" stroke-width="0.8" />
<line x1="573.8" y1="165.24" x2="572.8" y2="165.24" stroke="#222" stroke-width="0.8" />
<line x1="463.3" y1="163.37" x2="464.5" y2="163.37" stroke="#222" stroke-width="0.8" />
<line x1="573.8" y1="163.37" x2="572.8" y2="163.37" stroke="#222" stroke-width="0.8" />
<line x1="464.3" y1="273.7" x2="464.3" y2="275.7" stroke="#222" stroke-width="0.8" />
<line x1="464.3" y1="161.5" x2="464.3" y2="163.3" stroke="#222" stroke-width="0.8" />
<line x1="566.1" y1="273.7" x2="566.1" y2="275.7" stroke="#222" stroke-width="0.8" />
<line x1="566.1" y1="161.5" x2="566.1" y2="163.3" stroke="#222" stroke-width="0.8" />
<line x1="494.94" y1="273.7" x2="494.94" y2="274.9" stroke="#222" stroke-width="0.8" />
<line x1="494.94" y1="161.5" x2="494.94" y2="162.5" stroke="#222" stroke-width="0.8" />
<line x1="512.87" y1="273.7" x2="512.87" y2="274.9" stroke="#222" stroke-width="0.8" />
<line x1="512.87" y1="161.5" x2="512.87" y2="162.5" stroke="#222" stroke-width="0.8" />
<line x1="525.59" y1="273.7" x2="525.59" y2="274.9" stroke="#222" stroke-width="0.8" />
<line x1="525.59" y1="161.5" x2="525.59" y2="162.5" stroke="#222" stroke-width="0.8" />
<line x1="535.46" y1="273.7" x2="535.46" y2="274.9" stroke="#222" stroke-width="0.8" />
<line x1="535.46" y1="161.5" x2="535.46" y2="162.5" stroke="#222" stroke-width="0.8" />
<line x1="543.52" y1="273.7" x2="543.52" y2="274.9" stroke="#222" stroke-width="0.8" />
<line x1="543.52" y1="161.5" x2="543.52" y2="162.5" stroke="#222" stroke-width="0.8" />
<line x1="550.33" y1="273.7" x2="550.33" y2="274.9" stroke="#222" stroke-width="0.8" />
<line x1="550.33" y1="161.5" x2="550.33" y2="162.5" stroke="#222" stroke-width="0.8" />
<line x1="556.23" y1="273.7" x2="556.23" y2="274.9" stroke="#222" stroke-width="0.8" />
<line x1="556.23" y1="161.5" x2="556.23" y2="162.5" stroke="#222" stroke-width="0.8" />
<line x1="561.44" y1="273.7" x2="561.44" y2="274.9" stroke="#222" stroke-width="0.8" />
<line x1="561.44" y1="161.5" x2="561.44" y2="162.5" stroke="#222" stroke-width="0.8" />
<text x="460.9" y="274.65" font-size="8.2" text-anchor="end" font-weight="normal" fill="#000" >1</text>
<text x="460.9" y="237.98" font-size="8.2" text-anchor="end" font-weight="normal" fill="#000" >10</text>
<text x="460.9" y="201.31" font-size="8.2" text-anchor="end" font-weight="normal" fill="#000" >100</text>
<text x="460.9" y="164.64" font-size="8.2" text-anchor="end" font-weight="normal" fill="#000" >1000</text>
<text x="464.3" y="284.8" font-size="8" text-anchor="middle" font-weight="normal" fill="#000" >0.1</text>
<text x="566.1" y="284.8" font-size="8" text-anchor="middle" font-weight="normal" fill="#000" >1</text>
<text x="469.7" y="294.6" font-size="8.2" text-anchor="start" font-weight="normal" fill="#000" >Portion of Reacted Material</text>
<text transform="translate(440.2,218.3) rotate(-90)" font-size="8" text-anchor="middle">Half Life,  t<tspan font-size="5" dy="1.8">1/2</tspan><tspan dy="-1.8"> (h)</tspan></text>
<rect x="464.5" y="161.5" width="16.3" height="14.2" fill="#000" stroke="none" stroke-width="1" />
<text x="472.65" y="173.1" font-size="12.5" text-anchor="middle" font-weight="bold" fill="#fff" style="stroke:#fff">H</text>
<text class="s" x="537.2" y="172.3" font-size="5.6" font-weight="bold">t<tspan font-size="4" dy="1.3">1/2</tspan><tspan dy="-1.3"> = A-A/x</tspan><tspan font-size="4" dy="-2">n</tspan></text>
<rect x="467.95" y="233.35" width="3.3" height="3.3" fill="#000" stroke="#000" stroke-width="0" />
<circle cx="469.6" cy="243" r="2.15" fill="#f01010" stroke="none" stroke-width="0"/>
<path d="M467,252.8 L472.2,252.8 L469.6,248.3 Z" fill="#1010f0" stroke="none" stroke-width="0" stroke-linejoin="miter"/>
<path d="M469.6,264.6 L470.34,266.38 L472.26,266.53 L470.8,267.79 L471.25,269.67 L469.6,268.66 L467.95,269.67 L468.4,267.79 L466.94,266.53 L468.86,266.38 Z" fill="#b8b8b8" stroke="none" stroke-width="0.5" />
<text x="478.6" y="237.1" font-size="6" text-anchor="start" font-weight="normal" fill="#000"  class="s">Fe<tspan dy="1.8" font-size="3.96">2</tspan><tspan dy="-1.8">P</tspan><tspan dy="1.8" font-size="3.96">2</tspan><tspan dy="-1.8">S</tspan><tspan dy="1.8" font-size="3.96">6</tspan></text>
<text x="478.6" y="245.1" font-size="6" text-anchor="start" font-weight="normal" fill="#000"  class="s">Ni<tspan dy="1.8" font-size="3.96">2</tspan><tspan dy="-1.8">P</tspan><tspan dy="1.8" font-size="3.96">2</tspan><tspan dy="-1.8">S</tspan><tspan dy="1.8" font-size="3.96">6</tspan></text>
<text x="478.6" y="253.4" font-size="6" text-anchor="start" font-weight="normal" fill="#000"  class="s">Mn<tspan dy="1.8" font-size="3.96">2</tspan><tspan dy="-1.8">P</tspan><tspan dy="1.8" font-size="3.96">2</tspan><tspan dy="-1.8">S</tspan><tspan dy="1.8" font-size="3.96">6</tspan></text>
<text x="478.6" y="269.5" font-size="6" text-anchor="start" font-weight="normal" fill="#000"  class="s">Black Phosphorus</text>
</svg></body></html>
